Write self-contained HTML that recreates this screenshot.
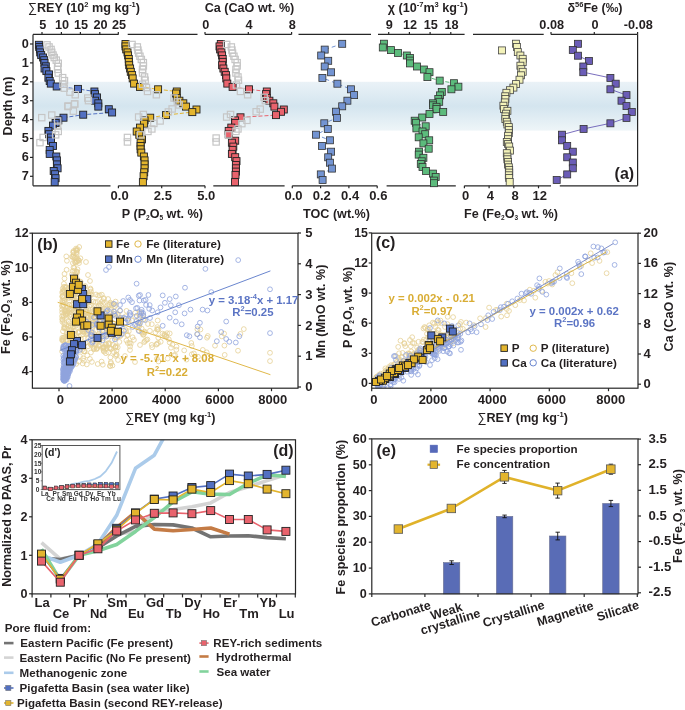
<!DOCTYPE html>
<html><head><meta charset="utf-8"><style>
html,body{margin:0;padding:0;background:#fff;width:685px;height:710px;overflow:hidden}
svg{display:block;filter:blur(0.3px);font-family:"Liberation Sans",sans-serif}
</style></head><body>
<svg width="685" height="710" viewBox="0 0 685 710">
<rect width="685" height="710" fill="#fff"/>
<defs><linearGradient id="band" x1="0" y1="0" x2="0" y2="1"><stop offset="0" stop-color="#eaf2f7"/><stop offset="0.5" stop-color="#d4e5ef"/><stop offset="1" stop-color="#eef5f8"/></linearGradient></defs>
<rect x="33" y="81.8" width="604.6" height="48.8" fill="url(#band)"/>
<line x1="33.0" y1="34.4" x2="33.0" y2="185.8" stroke="#262626" stroke-width="1.2" />
<line x1="30.0" y1="44.0" x2="33.0" y2="44.0" stroke="#262626" stroke-width="1.2" />
<text x="25.2" y="47.6" font-size="12.7" text-anchor="middle" fill="#231f20" font-weight="bold" >0</text>
<line x1="30.0" y1="62.9" x2="33.0" y2="62.9" stroke="#262626" stroke-width="1.2" />
<text x="25.2" y="66.5" font-size="12.7" text-anchor="middle" fill="#231f20" font-weight="bold" >1</text>
<line x1="30.0" y1="81.8" x2="33.0" y2="81.8" stroke="#262626" stroke-width="1.2" />
<text x="25.2" y="85.4" font-size="12.7" text-anchor="middle" fill="#231f20" font-weight="bold" >2</text>
<line x1="30.0" y1="100.7" x2="33.0" y2="100.7" stroke="#262626" stroke-width="1.2" />
<text x="25.2" y="104.3" font-size="12.7" text-anchor="middle" fill="#231f20" font-weight="bold" >3</text>
<line x1="30.0" y1="119.6" x2="33.0" y2="119.6" stroke="#262626" stroke-width="1.2" />
<text x="25.2" y="123.2" font-size="12.7" text-anchor="middle" fill="#231f20" font-weight="bold" >4</text>
<line x1="30.0" y1="138.5" x2="33.0" y2="138.5" stroke="#262626" stroke-width="1.2" />
<text x="25.2" y="142.1" font-size="12.7" text-anchor="middle" fill="#231f20" font-weight="bold" >5</text>
<line x1="30.0" y1="157.4" x2="33.0" y2="157.4" stroke="#262626" stroke-width="1.2" />
<text x="25.2" y="161.0" font-size="12.7" text-anchor="middle" fill="#231f20" font-weight="bold" >6</text>
<line x1="30.0" y1="176.3" x2="33.0" y2="176.3" stroke="#262626" stroke-width="1.2" />
<text x="25.2" y="179.9" font-size="12.7" text-anchor="middle" fill="#231f20" font-weight="bold" >7</text>
<text transform="translate(11.9,106) rotate(-90)" font-size="12.6" text-anchor="middle" fill="#231f20" font-weight="bold">Depth (m)</text>
<line x1="637.6" y1="34.4" x2="637.6" y2="185.8" stroke="#262626" stroke-width="1.2" />
<line x1="33.0" y1="34.4" x2="118.5" y2="34.4" stroke="#262626" stroke-width="1.2" />
<line x1="127.7" y1="34.4" x2="197.5" y2="34.4" stroke="#262626" stroke-width="1.2" />
<line x1="205.0" y1="34.4" x2="291.6" y2="34.4" stroke="#262626" stroke-width="1.2" />
<line x1="298.5" y1="34.4" x2="371.0" y2="34.4" stroke="#262626" stroke-width="1.2" />
<line x1="378.0" y1="34.4" x2="464.6" y2="34.4" stroke="#262626" stroke-width="1.2" />
<line x1="473.0" y1="34.4" x2="543.7" y2="34.4" stroke="#262626" stroke-width="1.2" />
<line x1="551.0" y1="34.4" x2="637.6" y2="34.4" stroke="#262626" stroke-width="1.2" />
<line x1="33.0" y1="185.8" x2="110.5" y2="185.8" stroke="#262626" stroke-width="1.2" />
<line x1="118.4" y1="185.8" x2="205.0" y2="185.8" stroke="#262626" stroke-width="1.2" />
<line x1="213.3" y1="185.8" x2="284.6" y2="185.8" stroke="#262626" stroke-width="1.2" />
<line x1="292.3" y1="185.8" x2="377.2" y2="185.8" stroke="#262626" stroke-width="1.2" />
<line x1="386.6" y1="185.8" x2="455.8" y2="185.8" stroke="#262626" stroke-width="1.2" />
<line x1="464.4" y1="185.8" x2="551.0" y2="185.8" stroke="#262626" stroke-width="1.2" />
<line x1="559.8" y1="185.8" x2="637.6" y2="185.8" stroke="#262626" stroke-width="1.2" />
<line x1="42.0" y1="34.4" x2="42.0" y2="31.9" stroke="#262626" stroke-width="1.2" />
<text x="42.7" y="29.1" font-size="12.7" text-anchor="middle" fill="#231f20" font-weight="bold" >5</text>
<line x1="61.4" y1="34.4" x2="61.4" y2="31.9" stroke="#262626" stroke-width="1.2" />
<text x="62.1" y="29.1" font-size="12.7" text-anchor="middle" fill="#231f20" font-weight="bold" >10</text>
<line x1="80.4" y1="34.4" x2="80.4" y2="31.9" stroke="#262626" stroke-width="1.2" />
<text x="81.1" y="29.1" font-size="12.7" text-anchor="middle" fill="#231f20" font-weight="bold" >15</text>
<line x1="99.8" y1="34.4" x2="99.8" y2="31.9" stroke="#262626" stroke-width="1.2" />
<text x="100.5" y="29.1" font-size="12.7" text-anchor="middle" fill="#231f20" font-weight="bold" >20</text>
<line x1="118.3" y1="34.4" x2="118.3" y2="31.9" stroke="#262626" stroke-width="1.2" />
<text x="119.0" y="29.1" font-size="12.7" text-anchor="middle" fill="#231f20" font-weight="bold" >25</text>
<line x1="205.0" y1="34.4" x2="205.0" y2="31.9" stroke="#262626" stroke-width="1.2" />
<text x="205.7" y="29.1" font-size="12.7" text-anchor="middle" fill="#231f20" font-weight="bold" >0</text>
<line x1="248.3" y1="34.4" x2="248.3" y2="31.9" stroke="#262626" stroke-width="1.2" />
<text x="249.0" y="29.1" font-size="12.7" text-anchor="middle" fill="#231f20" font-weight="bold" >4</text>
<line x1="291.6" y1="34.4" x2="291.6" y2="31.9" stroke="#262626" stroke-width="1.2" />
<text x="292.3" y="29.1" font-size="12.7" text-anchor="middle" fill="#231f20" font-weight="bold" >8</text>
<line x1="388.7" y1="34.4" x2="388.7" y2="31.9" stroke="#262626" stroke-width="1.2" />
<text x="389.4" y="29.1" font-size="12.7" text-anchor="middle" fill="#231f20" font-weight="bold" >9</text>
<line x1="409.4" y1="34.4" x2="409.4" y2="31.9" stroke="#262626" stroke-width="1.2" />
<text x="410.1" y="29.1" font-size="12.7" text-anchor="middle" fill="#231f20" font-weight="bold" >12</text>
<line x1="430.1" y1="34.4" x2="430.1" y2="31.9" stroke="#262626" stroke-width="1.2" />
<text x="430.8" y="29.1" font-size="12.7" text-anchor="middle" fill="#231f20" font-weight="bold" >15</text>
<line x1="450.8" y1="34.4" x2="450.8" y2="31.9" stroke="#262626" stroke-width="1.2" />
<text x="451.5" y="29.1" font-size="12.7" text-anchor="middle" fill="#231f20" font-weight="bold" >18</text>
<line x1="551.0" y1="34.4" x2="551.0" y2="31.9" stroke="#262626" stroke-width="1.2" />
<text x="551.7" y="29.1" font-size="12.7" text-anchor="middle" fill="#231f20" font-weight="bold" >0.08</text>
<line x1="594.3" y1="34.4" x2="594.3" y2="31.9" stroke="#262626" stroke-width="1.2" />
<text x="595.0" y="29.1" font-size="12.7" text-anchor="middle" fill="#231f20" font-weight="bold" >0</text>
<line x1="637.6" y1="34.4" x2="637.6" y2="31.9" stroke="#262626" stroke-width="1.2" />
<text x="638.3" y="29.1" font-size="12.7" text-anchor="middle" fill="#231f20" font-weight="bold" >-0.08</text>
<line x1="118.4" y1="185.8" x2="118.4" y2="188.3" stroke="#262626" stroke-width="1.2" />
<text x="119.6" y="200.3" font-size="13.0" text-anchor="middle" fill="#231f20" font-weight="bold" >0.0</text>
<line x1="161.7" y1="185.8" x2="161.7" y2="188.3" stroke="#262626" stroke-width="1.2" />
<text x="162.9" y="200.3" font-size="13.0" text-anchor="middle" fill="#231f20" font-weight="bold" >2.5</text>
<line x1="205.0" y1="185.8" x2="205.0" y2="188.3" stroke="#262626" stroke-width="1.2" />
<text x="206.2" y="200.3" font-size="13.0" text-anchor="middle" fill="#231f20" font-weight="bold" >5.0</text>
<line x1="292.3" y1="185.8" x2="292.3" y2="188.3" stroke="#262626" stroke-width="1.2" />
<text x="293.5" y="200.3" font-size="13.0" text-anchor="middle" fill="#231f20" font-weight="bold" >0.0</text>
<line x1="320.6" y1="185.8" x2="320.6" y2="188.3" stroke="#262626" stroke-width="1.2" />
<text x="321.8" y="200.3" font-size="13.0" text-anchor="middle" fill="#231f20" font-weight="bold" >0.2</text>
<line x1="348.9" y1="185.8" x2="348.9" y2="188.3" stroke="#262626" stroke-width="1.2" />
<text x="350.1" y="200.3" font-size="13.0" text-anchor="middle" fill="#231f20" font-weight="bold" >0.4</text>
<line x1="377.2" y1="185.8" x2="377.2" y2="188.3" stroke="#262626" stroke-width="1.2" />
<text x="378.4" y="200.3" font-size="13.0" text-anchor="middle" fill="#231f20" font-weight="bold" >0.6</text>
<line x1="464.4" y1="185.8" x2="464.4" y2="188.3" stroke="#262626" stroke-width="1.2" />
<text x="465.6" y="200.3" font-size="13.0" text-anchor="middle" fill="#231f20" font-weight="bold" >0</text>
<line x1="489.1" y1="185.8" x2="489.1" y2="188.3" stroke="#262626" stroke-width="1.2" />
<text x="490.3" y="200.3" font-size="13.0" text-anchor="middle" fill="#231f20" font-weight="bold" >4</text>
<line x1="513.8" y1="185.8" x2="513.8" y2="188.3" stroke="#262626" stroke-width="1.2" />
<text x="515.0" y="200.3" font-size="13.0" text-anchor="middle" fill="#231f20" font-weight="bold" >8</text>
<line x1="538.5" y1="185.8" x2="538.5" y2="188.3" stroke="#262626" stroke-width="1.2" />
<text x="539.7" y="200.3" font-size="13.0" text-anchor="middle" fill="#231f20" font-weight="bold" >12</text>
<text x="84.0" y="11.8" font-size="12.6" text-anchor="middle" fill="#231f20" font-weight="bold" ><tspan font-weight="normal">&#8721;</tspan>REY (10<tspan font-size="7.5" dy="-5">2</tspan><tspan dy="5"> mg kg</tspan><tspan font-size="7.5" dy="-5">-1</tspan><tspan dy="5">)</tspan></text>
<text x="249.5" y="11.8" font-size="12.6" text-anchor="middle" fill="#231f20" font-weight="bold" >Ca (CaO wt. %)</text>
<text x="427.8" y="11.8" font-size="12.6" text-anchor="middle" fill="#231f20" font-weight="bold" >&#967; (10<tspan font-size="7.5" dy="-5">-7</tspan><tspan dy="5">m</tspan><tspan font-size="7.5" dy="-5">3</tspan><tspan dy="5"> kg</tspan><tspan font-size="7.5" dy="-5">-1</tspan><tspan dy="5">)</tspan></text>
<text x="595.0" y="11.8" font-size="12.6" text-anchor="middle" fill="#231f20" font-weight="bold" >&#948;<tspan font-size="7.5" dy="-5">56</tspan><tspan dy="5">Fe (&#8240;)</tspan></text>
<text x="162.4" y="217.5" font-size="12.6" text-anchor="middle" fill="#231f20" font-weight="bold" >P (P<tspan font-size="6.5" dy="2.5">2</tspan><tspan dy="-2.5">O</tspan><tspan font-size="6.5" dy="2.5">5</tspan><tspan dy="-2.5"> wt. %)</tspan></text>
<text x="336.5" y="217.5" font-size="12.6" text-anchor="middle" fill="#231f20" font-weight="bold" >TOC (wt.%)</text>
<text x="511.0" y="217.5" font-size="12.6" text-anchor="middle" fill="#231f20" font-weight="bold" >Fe (Fe<tspan font-size="6.5" dy="2.5">2</tspan><tspan dy="-2.5">O</tspan><tspan font-size="6.5" dy="2.5">3</tspan><tspan dy="-2.5"> wt. %)</tspan></text>
<text x="624.4" y="178.7" font-size="16" text-anchor="middle" fill="#231f20" font-weight="bold" >(a)</text>
<polyline points="56.7,86.5 78.0,88.9 94.4,91.5" fill="none" stroke="#5270c2" stroke-width="1" stroke-linejoin="round" stroke-dasharray="4 2"/>
<polyline points="63.5,117.7 83.2,114.7 112.1,112.5" fill="none" stroke="#5270c2" stroke-width="1" stroke-linejoin="round" stroke-dasharray="4 2"/>
<rect x="35.4" y="41.3" width="7" height="7" fill="#5270c2" stroke="#222" stroke-width="0.9"/>
<rect x="35.7" y="43.5" width="7" height="7" fill="#5270c2" stroke="#222" stroke-width="0.9"/>
<rect x="36.4" y="45.9" width="7" height="7" fill="#5270c2" stroke="#222" stroke-width="0.9"/>
<rect x="36.7" y="48.9" width="7" height="7" fill="#5270c2" stroke="#222" stroke-width="0.9"/>
<rect x="37.7" y="51.6" width="7" height="7" fill="#5270c2" stroke="#222" stroke-width="0.9"/>
<rect x="39.6" y="54.0" width="7" height="7" fill="#5270c2" stroke="#222" stroke-width="0.9"/>
<rect x="40.7" y="56.7" width="7" height="7" fill="#5270c2" stroke="#222" stroke-width="0.9"/>
<rect x="41.0" y="59.4" width="7" height="7" fill="#5270c2" stroke="#222" stroke-width="0.9"/>
<rect x="42.3" y="62.8" width="7" height="7" fill="#5270c2" stroke="#222" stroke-width="0.9"/>
<rect x="41.0" y="65.0" width="7" height="7" fill="#5270c2" stroke="#222" stroke-width="0.9"/>
<rect x="42.9" y="67.6" width="7" height="7" fill="#5270c2" stroke="#222" stroke-width="0.9"/>
<rect x="45.5" y="70.9" width="7" height="7" fill="#5270c2" stroke="#222" stroke-width="0.9"/>
<rect x="44.9" y="74.2" width="7" height="7" fill="#5270c2" stroke="#222" stroke-width="0.9"/>
<rect x="46.2" y="77.5" width="7" height="7" fill="#5270c2" stroke="#222" stroke-width="0.9"/>
<rect x="47.3" y="80.1" width="7" height="7" fill="#5270c2" stroke="#222" stroke-width="0.9"/>
<rect x="53.2" y="83.0" width="7" height="7" fill="#5270c2" stroke="#222" stroke-width="0.9"/>
<rect x="74.5" y="85.4" width="7" height="7" fill="#5270c2" stroke="#222" stroke-width="0.9"/>
<rect x="90.9" y="88.0" width="7" height="7" fill="#5270c2" stroke="#222" stroke-width="0.9"/>
<rect x="91.5" y="90.6" width="7" height="7" fill="#5270c2" stroke="#222" stroke-width="0.9"/>
<rect x="93.5" y="93.9" width="7" height="7" fill="#5270c2" stroke="#222" stroke-width="0.9"/>
<rect x="91.5" y="97.2" width="7" height="7" fill="#5270c2" stroke="#222" stroke-width="0.9"/>
<rect x="94.8" y="99.8" width="7" height="7" fill="#5270c2" stroke="#222" stroke-width="0.9"/>
<rect x="94.8" y="103.1" width="7" height="7" fill="#5270c2" stroke="#222" stroke-width="0.9"/>
<rect x="105.3" y="105.7" width="7" height="7" fill="#5270c2" stroke="#222" stroke-width="0.9"/>
<rect x="108.6" y="109.0" width="7" height="7" fill="#5270c2" stroke="#222" stroke-width="0.9"/>
<rect x="79.7" y="111.2" width="7" height="7" fill="#5270c2" stroke="#222" stroke-width="0.9"/>
<rect x="60.0" y="114.2" width="7" height="7" fill="#5270c2" stroke="#222" stroke-width="0.9"/>
<rect x="54.8" y="116.9" width="7" height="7" fill="#5270c2" stroke="#222" stroke-width="0.9"/>
<rect x="52.1" y="119.5" width="7" height="7" fill="#5270c2" stroke="#222" stroke-width="0.9"/>
<rect x="49.5" y="122.1" width="7" height="7" fill="#5270c2" stroke="#222" stroke-width="0.9"/>
<rect x="44.9" y="127.4" width="7" height="7" fill="#5270c2" stroke="#222" stroke-width="0.9"/>
<rect x="45.5" y="130.7" width="7" height="7" fill="#5270c2" stroke="#222" stroke-width="0.9"/>
<rect x="47.5" y="134.0" width="7" height="7" fill="#5270c2" stroke="#222" stroke-width="0.9"/>
<rect x="47.5" y="137.2" width="7" height="7" fill="#5270c2" stroke="#222" stroke-width="0.9"/>
<rect x="49.5" y="142.5" width="7" height="7" fill="#5270c2" stroke="#222" stroke-width="0.9"/>
<rect x="46.2" y="146.4" width="7" height="7" fill="#5270c2" stroke="#222" stroke-width="0.9"/>
<rect x="46.2" y="150.4" width="7" height="7" fill="#5270c2" stroke="#222" stroke-width="0.9"/>
<rect x="52.8" y="153.0" width="7" height="7" fill="#5270c2" stroke="#222" stroke-width="0.9"/>
<rect x="53.4" y="156.9" width="7" height="7" fill="#5270c2" stroke="#222" stroke-width="0.9"/>
<rect x="53.4" y="160.9" width="7" height="7" fill="#5270c2" stroke="#222" stroke-width="0.9"/>
<rect x="54.1" y="164.8" width="7" height="7" fill="#5270c2" stroke="#222" stroke-width="0.9"/>
<rect x="50.2" y="167.5" width="7" height="7" fill="#5270c2" stroke="#222" stroke-width="0.9"/>
<rect x="51.5" y="170.7" width="7" height="7" fill="#5270c2" stroke="#222" stroke-width="0.9"/>
<rect x="52.1" y="174.7" width="7" height="7" fill="#5270c2" stroke="#222" stroke-width="0.9"/>
<rect x="51.2" y="178.6" width="7" height="7" fill="#5270c2" stroke="#222" stroke-width="0.9"/>
<rect x="43.9" y="41.7" width="6.3" height="6.3" fill="none" stroke="#c6c6c6" stroke-width="1.2"/>
<rect x="45.9" y="43.8" width="6.3" height="6.3" fill="none" stroke="#c6c6c6" stroke-width="1.2"/>
<rect x="47.9" y="46.3" width="6.3" height="6.3" fill="none" stroke="#c6c6c6" stroke-width="1.2"/>
<rect x="48.6" y="49.2" width="6.3" height="6.3" fill="none" stroke="#c6c6c6" stroke-width="1.2"/>
<rect x="49.9" y="51.9" width="6.3" height="6.3" fill="none" stroke="#c6c6c6" stroke-width="1.2"/>
<rect x="51.1" y="54.4" width="6.3" height="6.3" fill="none" stroke="#c6c6c6" stroke-width="1.2"/>
<rect x="53.1" y="57.0" width="6.3" height="6.3" fill="none" stroke="#c6c6c6" stroke-width="1.2"/>
<rect x="55.1" y="60.1" width="6.3" height="6.3" fill="none" stroke="#c6c6c6" stroke-width="1.2"/>
<rect x="54.5" y="63.4" width="6.3" height="6.3" fill="none" stroke="#c6c6c6" stroke-width="1.2"/>
<rect x="54.5" y="66.2" width="6.3" height="6.3" fill="none" stroke="#c6c6c6" stroke-width="1.2"/>
<rect x="55.1" y="69.9" width="6.3" height="6.3" fill="none" stroke="#c6c6c6" stroke-width="1.2"/>
<rect x="59.5" y="74.5" width="6.3" height="6.3" fill="none" stroke="#c6c6c6" stroke-width="1.2"/>
<rect x="61.3" y="77.5" width="6.3" height="6.3" fill="none" stroke="#c6c6c6" stroke-width="1.2"/>
<rect x="59.8" y="81.1" width="6.3" height="6.3" fill="none" stroke="#c6c6c6" stroke-width="1.2"/>
<rect x="61.1" y="85.0" width="6.3" height="6.3" fill="none" stroke="#c6c6c6" stroke-width="1.2"/>
<rect x="66.8" y="89.0" width="6.3" height="6.3" fill="none" stroke="#c6c6c6" stroke-width="1.2"/>
<rect x="72.1" y="91.6" width="6.3" height="6.3" fill="none" stroke="#c6c6c6" stroke-width="1.2"/>
<rect x="84.6" y="94.9" width="6.3" height="6.3" fill="none" stroke="#c6c6c6" stroke-width="1.2"/>
<rect x="85.3" y="97.5" width="6.3" height="6.3" fill="none" stroke="#c6c6c6" stroke-width="1.2"/>
<rect x="71.5" y="100.8" width="6.3" height="6.3" fill="none" stroke="#c6c6c6" stroke-width="1.2"/>
<rect x="64.9" y="103.4" width="6.3" height="6.3" fill="none" stroke="#c6c6c6" stroke-width="1.2"/>
<rect x="64.9" y="102.8" width="6.3" height="6.3" fill="none" stroke="#c6c6c6" stroke-width="1.2"/>
<rect x="71.5" y="100.8" width="6.3" height="6.3" fill="none" stroke="#c6c6c6" stroke-width="1.2"/>
<rect x="70.2" y="108.0" width="6.3" height="6.3" fill="none" stroke="#c6c6c6" stroke-width="1.2"/>
<rect x="38.6" y="114.5" width="6.3" height="6.3" fill="none" stroke="#c6c6c6" stroke-width="1.2"/>
<rect x="48.6" y="111.9" width="6.3" height="6.3" fill="none" stroke="#c6c6c6" stroke-width="1.2"/>
<rect x="54.5" y="117.8" width="6.3" height="6.3" fill="none" stroke="#c6c6c6" stroke-width="1.2"/>
<rect x="54.5" y="123.1" width="6.3" height="6.3" fill="none" stroke="#c6c6c6" stroke-width="1.2"/>
<rect x="55.1" y="128.3" width="6.3" height="6.3" fill="none" stroke="#c6c6c6" stroke-width="1.2"/>
<rect x="52.5" y="131.7" width="6.3" height="6.3" fill="none" stroke="#c6c6c6" stroke-width="1.2"/>
<rect x="40.0" y="134.3" width="6.3" height="6.3" fill="none" stroke="#c6c6c6" stroke-width="1.2"/>
<rect x="36.8" y="139.5" width="6.3" height="6.3" fill="none" stroke="#c6c6c6" stroke-width="1.2"/>
<polyline points="140.0,86.9 158.1,89.3 176.8,91.5" fill="none" stroke="#e3b52e" stroke-width="1" stroke-linejoin="round" stroke-dasharray="4 2"/>
<polyline points="150.2,117.7 166.0,115.1 192.3,112.1" fill="none" stroke="#e3b52e" stroke-width="1" stroke-linejoin="round" stroke-dasharray="4 2"/>
<rect x="122.0" y="40.5" width="7" height="7" fill="#e3b52e" stroke="#222" stroke-width="0.9"/>
<rect x="122.0" y="42.9" width="7" height="7" fill="#e3b52e" stroke="#222" stroke-width="0.9"/>
<rect x="122.7" y="45.9" width="7" height="7" fill="#e3b52e" stroke="#222" stroke-width="0.9"/>
<rect x="124.0" y="48.9" width="7" height="7" fill="#e3b52e" stroke="#222" stroke-width="0.9"/>
<rect x="124.6" y="51.9" width="7" height="7" fill="#e3b52e" stroke="#222" stroke-width="0.9"/>
<rect x="125.3" y="55.5" width="7" height="7" fill="#e3b52e" stroke="#222" stroke-width="0.9"/>
<rect x="125.3" y="58.4" width="7" height="7" fill="#e3b52e" stroke="#222" stroke-width="0.9"/>
<rect x="125.7" y="61.7" width="7" height="7" fill="#e3b52e" stroke="#222" stroke-width="0.9"/>
<rect x="126.6" y="65.0" width="7" height="7" fill="#e3b52e" stroke="#222" stroke-width="0.9"/>
<rect x="127.3" y="68.3" width="7" height="7" fill="#e3b52e" stroke="#222" stroke-width="0.9"/>
<rect x="128.6" y="71.6" width="7" height="7" fill="#e3b52e" stroke="#222" stroke-width="0.9"/>
<rect x="129.2" y="74.9" width="7" height="7" fill="#e3b52e" stroke="#222" stroke-width="0.9"/>
<rect x="130.6" y="80.1" width="7" height="7" fill="#e3b52e" stroke="#222" stroke-width="0.9"/>
<rect x="136.5" y="83.4" width="7" height="7" fill="#e3b52e" stroke="#222" stroke-width="0.9"/>
<rect x="154.6" y="85.8" width="7" height="7" fill="#e3b52e" stroke="#222" stroke-width="0.9"/>
<rect x="173.3" y="88.0" width="7" height="7" fill="#e3b52e" stroke="#222" stroke-width="0.9"/>
<rect x="172.6" y="90.0" width="7" height="7" fill="#e3b52e" stroke="#222" stroke-width="0.9"/>
<rect x="173.3" y="94.6" width="7" height="7" fill="#e3b52e" stroke="#222" stroke-width="0.9"/>
<rect x="175.9" y="97.2" width="7" height="7" fill="#e3b52e" stroke="#222" stroke-width="0.9"/>
<rect x="179.8" y="99.8" width="7" height="7" fill="#e3b52e" stroke="#222" stroke-width="0.9"/>
<rect x="182.5" y="103.1" width="7" height="7" fill="#e3b52e" stroke="#222" stroke-width="0.9"/>
<rect x="193.0" y="106.0" width="7" height="7" fill="#e3b52e" stroke="#222" stroke-width="0.9"/>
<rect x="188.8" y="108.6" width="7" height="7" fill="#e3b52e" stroke="#222" stroke-width="0.9"/>
<rect x="162.5" y="111.6" width="7" height="7" fill="#e3b52e" stroke="#222" stroke-width="0.9"/>
<rect x="146.7" y="114.2" width="7" height="7" fill="#e3b52e" stroke="#222" stroke-width="0.9"/>
<rect x="141.1" y="116.9" width="7" height="7" fill="#e3b52e" stroke="#222" stroke-width="0.9"/>
<rect x="140.4" y="120.2" width="7" height="7" fill="#e3b52e" stroke="#222" stroke-width="0.9"/>
<rect x="136.5" y="124.1" width="7" height="7" fill="#e3b52e" stroke="#222" stroke-width="0.9"/>
<rect x="133.2" y="128.0" width="7" height="7" fill="#e3b52e" stroke="#222" stroke-width="0.9"/>
<rect x="135.8" y="131.3" width="7" height="7" fill="#e3b52e" stroke="#222" stroke-width="0.9"/>
<rect x="138.5" y="135.9" width="7" height="7" fill="#e3b52e" stroke="#222" stroke-width="0.9"/>
<rect x="137.1" y="139.2" width="7" height="7" fill="#e3b52e" stroke="#222" stroke-width="0.9"/>
<rect x="137.1" y="142.5" width="7" height="7" fill="#e3b52e" stroke="#222" stroke-width="0.9"/>
<rect x="137.1" y="145.8" width="7" height="7" fill="#e3b52e" stroke="#222" stroke-width="0.9"/>
<rect x="137.8" y="149.1" width="7" height="7" fill="#e3b52e" stroke="#222" stroke-width="0.9"/>
<rect x="140.4" y="153.0" width="7" height="7" fill="#e3b52e" stroke="#222" stroke-width="0.9"/>
<rect x="141.1" y="156.9" width="7" height="7" fill="#e3b52e" stroke="#222" stroke-width="0.9"/>
<rect x="141.1" y="160.9" width="7" height="7" fill="#e3b52e" stroke="#222" stroke-width="0.9"/>
<rect x="141.1" y="164.8" width="7" height="7" fill="#e3b52e" stroke="#222" stroke-width="0.9"/>
<rect x="140.7" y="168.8" width="7" height="7" fill="#e3b52e" stroke="#222" stroke-width="0.9"/>
<rect x="140.1" y="172.7" width="7" height="7" fill="#e3b52e" stroke="#222" stroke-width="0.9"/>
<rect x="139.4" y="178.6" width="7" height="7" fill="#e3b52e" stroke="#222" stroke-width="0.9"/>
<rect x="128.9" y="41.3" width="6.3" height="6.3" fill="none" stroke="#c6c6c6" stroke-width="1.2"/>
<rect x="134.2" y="43.8" width="6.3" height="6.3" fill="none" stroke="#c6c6c6" stroke-width="1.2"/>
<rect x="134.8" y="47.0" width="6.3" height="6.3" fill="none" stroke="#c6c6c6" stroke-width="1.2"/>
<rect x="135.5" y="50.0" width="6.3" height="6.3" fill="none" stroke="#c6c6c6" stroke-width="1.2"/>
<rect x="136.8" y="53.1" width="6.3" height="6.3" fill="none" stroke="#c6c6c6" stroke-width="1.2"/>
<rect x="138.2" y="56.3" width="6.3" height="6.3" fill="none" stroke="#c6c6c6" stroke-width="1.2"/>
<rect x="140.2" y="59.5" width="6.3" height="6.3" fill="none" stroke="#c6c6c6" stroke-width="1.2"/>
<rect x="140.2" y="62.8" width="6.3" height="6.3" fill="none" stroke="#c6c6c6" stroke-width="1.2"/>
<rect x="139.4" y="66.2" width="6.3" height="6.3" fill="none" stroke="#c6c6c6" stroke-width="1.2"/>
<rect x="139.4" y="69.9" width="6.3" height="6.3" fill="none" stroke="#c6c6c6" stroke-width="1.2"/>
<rect x="141.4" y="73.8" width="6.3" height="6.3" fill="none" stroke="#c6c6c6" stroke-width="1.2"/>
<rect x="142.0" y="77.1" width="6.3" height="6.3" fill="none" stroke="#c6c6c6" stroke-width="1.2"/>
<rect x="139.4" y="81.1" width="6.3" height="6.3" fill="none" stroke="#c6c6c6" stroke-width="1.2"/>
<rect x="143.3" y="84.4" width="6.3" height="6.3" fill="none" stroke="#c6c6c6" stroke-width="1.2"/>
<rect x="144.4" y="88.3" width="6.3" height="6.3" fill="none" stroke="#c6c6c6" stroke-width="1.2"/>
<rect x="153.2" y="91.6" width="6.3" height="6.3" fill="none" stroke="#c6c6c6" stroke-width="1.2"/>
<rect x="170.9" y="94.9" width="6.3" height="6.3" fill="none" stroke="#c6c6c6" stroke-width="1.2"/>
<rect x="174.2" y="98.8" width="6.3" height="6.3" fill="none" stroke="#c6c6c6" stroke-width="1.2"/>
<rect x="176.0" y="101.8" width="6.3" height="6.3" fill="none" stroke="#c6c6c6" stroke-width="1.2"/>
<rect x="169.0" y="105.8" width="6.3" height="6.3" fill="none" stroke="#c6c6c6" stroke-width="1.2"/>
<rect x="165.2" y="108.8" width="6.3" height="6.3" fill="none" stroke="#c6c6c6" stroke-width="1.2"/>
<rect x="157.0" y="117.8" width="6.3" height="6.3" fill="none" stroke="#c6c6c6" stroke-width="1.2"/>
<rect x="150.7" y="120.3" width="6.3" height="6.3" fill="none" stroke="#c6c6c6" stroke-width="1.2"/>
<rect x="135.5" y="113.9" width="6.3" height="6.3" fill="none" stroke="#c6c6c6" stroke-width="1.2"/>
<rect x="140.2" y="111.3" width="6.3" height="6.3" fill="none" stroke="#c6c6c6" stroke-width="1.2"/>
<rect x="148.7" y="125.8" width="6.3" height="6.3" fill="none" stroke="#c6c6c6" stroke-width="1.2"/>
<rect x="144.8" y="128.3" width="6.3" height="6.3" fill="none" stroke="#c6c6c6" stroke-width="1.2"/>
<rect x="137.4" y="131.7" width="6.3" height="6.3" fill="none" stroke="#c6c6c6" stroke-width="1.2"/>
<rect x="124.3" y="134.3" width="6.3" height="6.3" fill="none" stroke="#c6c6c6" stroke-width="1.2"/>
<rect x="124.3" y="138.8" width="6.3" height="6.3" fill="none" stroke="#c6c6c6" stroke-width="1.2"/>
<polyline points="232.6,86.9 249.0,89.3 266.8,91.5" fill="none" stroke="#e9636d" stroke-width="1" stroke-linejoin="round" stroke-dasharray="4 2"/>
<polyline points="240.5,117.3 276.0,115.1" fill="none" stroke="#e9636d" stroke-width="1" stroke-linejoin="round" stroke-dasharray="4 2"/>
<rect x="217.3" y="40.5" width="7" height="7" fill="#e9636d" stroke="#222" stroke-width="0.9"/>
<rect x="216.0" y="42.9" width="7" height="7" fill="#e9636d" stroke="#222" stroke-width="0.9"/>
<rect x="216.6" y="45.9" width="7" height="7" fill="#e9636d" stroke="#222" stroke-width="0.9"/>
<rect x="217.9" y="48.9" width="7" height="7" fill="#e9636d" stroke="#222" stroke-width="0.9"/>
<rect x="218.6" y="51.9" width="7" height="7" fill="#e9636d" stroke="#222" stroke-width="0.9"/>
<rect x="219.2" y="55.5" width="7" height="7" fill="#e9636d" stroke="#222" stroke-width="0.9"/>
<rect x="219.2" y="58.4" width="7" height="7" fill="#e9636d" stroke="#222" stroke-width="0.9"/>
<rect x="218.6" y="61.7" width="7" height="7" fill="#e9636d" stroke="#222" stroke-width="0.9"/>
<rect x="219.9" y="65.0" width="7" height="7" fill="#e9636d" stroke="#222" stroke-width="0.9"/>
<rect x="221.2" y="68.3" width="7" height="7" fill="#e9636d" stroke="#222" stroke-width="0.9"/>
<rect x="222.5" y="71.6" width="7" height="7" fill="#e9636d" stroke="#222" stroke-width="0.9"/>
<rect x="222.8" y="74.9" width="7" height="7" fill="#e9636d" stroke="#222" stroke-width="0.9"/>
<rect x="223.8" y="80.1" width="7" height="7" fill="#e9636d" stroke="#222" stroke-width="0.9"/>
<rect x="229.1" y="83.4" width="7" height="7" fill="#e9636d" stroke="#222" stroke-width="0.9"/>
<rect x="245.5" y="85.8" width="7" height="7" fill="#e9636d" stroke="#222" stroke-width="0.9"/>
<rect x="263.3" y="88.0" width="7" height="7" fill="#e9636d" stroke="#222" stroke-width="0.9"/>
<rect x="262.6" y="90.6" width="7" height="7" fill="#e9636d" stroke="#222" stroke-width="0.9"/>
<rect x="263.3" y="94.6" width="7" height="7" fill="#e9636d" stroke="#222" stroke-width="0.9"/>
<rect x="265.9" y="97.2" width="7" height="7" fill="#e9636d" stroke="#222" stroke-width="0.9"/>
<rect x="269.8" y="99.8" width="7" height="7" fill="#e9636d" stroke="#222" stroke-width="0.9"/>
<rect x="270.9" y="103.1" width="7" height="7" fill="#e9636d" stroke="#222" stroke-width="0.9"/>
<rect x="280.3" y="106.0" width="7" height="7" fill="#e9636d" stroke="#222" stroke-width="0.9"/>
<rect x="277.5" y="108.3" width="7" height="7" fill="#e9636d" stroke="#222" stroke-width="0.9"/>
<rect x="272.5" y="111.6" width="7" height="7" fill="#e9636d" stroke="#222" stroke-width="0.9"/>
<rect x="237.0" y="113.8" width="7" height="7" fill="#e9636d" stroke="#222" stroke-width="0.9"/>
<rect x="231.5" y="116.9" width="7" height="7" fill="#e9636d" stroke="#222" stroke-width="0.9"/>
<rect x="231.7" y="119.5" width="7" height="7" fill="#e9636d" stroke="#222" stroke-width="0.9"/>
<rect x="227.8" y="124.1" width="7" height="7" fill="#e9636d" stroke="#222" stroke-width="0.9"/>
<rect x="225.2" y="127.4" width="7" height="7" fill="#e9636d" stroke="#222" stroke-width="0.9"/>
<rect x="225.2" y="130.9" width="7" height="7" fill="#e9636d" stroke="#222" stroke-width="0.9"/>
<rect x="231.7" y="137.2" width="7" height="7" fill="#e9636d" stroke="#222" stroke-width="0.9"/>
<rect x="228.4" y="139.2" width="7" height="7" fill="#e9636d" stroke="#222" stroke-width="0.9"/>
<rect x="229.8" y="143.1" width="7" height="7" fill="#e9636d" stroke="#222" stroke-width="0.9"/>
<rect x="229.1" y="146.4" width="7" height="7" fill="#e9636d" stroke="#222" stroke-width="0.9"/>
<rect x="228.4" y="150.4" width="7" height="7" fill="#e9636d" stroke="#222" stroke-width="0.9"/>
<rect x="231.7" y="153.7" width="7" height="7" fill="#e9636d" stroke="#222" stroke-width="0.9"/>
<rect x="233.0" y="157.6" width="7" height="7" fill="#e9636d" stroke="#222" stroke-width="0.9"/>
<rect x="232.4" y="161.5" width="7" height="7" fill="#e9636d" stroke="#222" stroke-width="0.9"/>
<rect x="232.4" y="164.8" width="7" height="7" fill="#e9636d" stroke="#222" stroke-width="0.9"/>
<rect x="232.4" y="168.1" width="7" height="7" fill="#e9636d" stroke="#222" stroke-width="0.9"/>
<rect x="232.0" y="171.4" width="7" height="7" fill="#e9636d" stroke="#222" stroke-width="0.9"/>
<rect x="231.5" y="178.6" width="7" height="7" fill="#e9636d" stroke="#222" stroke-width="0.9"/>
<rect x="223.5" y="41.3" width="6.3" height="6.3" fill="none" stroke="#c6c6c6" stroke-width="1.2"/>
<rect x="228.2" y="43.8" width="6.3" height="6.3" fill="none" stroke="#c6c6c6" stroke-width="1.2"/>
<rect x="228.8" y="47.0" width="6.3" height="6.3" fill="none" stroke="#c6c6c6" stroke-width="1.2"/>
<rect x="229.4" y="50.0" width="6.3" height="6.3" fill="none" stroke="#c6c6c6" stroke-width="1.2"/>
<rect x="230.8" y="53.1" width="6.3" height="6.3" fill="none" stroke="#c6c6c6" stroke-width="1.2"/>
<rect x="232.0" y="56.3" width="6.3" height="6.3" fill="none" stroke="#c6c6c6" stroke-width="1.2"/>
<rect x="234.0" y="59.5" width="6.3" height="6.3" fill="none" stroke="#c6c6c6" stroke-width="1.2"/>
<rect x="234.0" y="62.8" width="6.3" height="6.3" fill="none" stroke="#c6c6c6" stroke-width="1.2"/>
<rect x="232.8" y="66.2" width="6.3" height="6.3" fill="none" stroke="#c6c6c6" stroke-width="1.2"/>
<rect x="232.8" y="69.9" width="6.3" height="6.3" fill="none" stroke="#c6c6c6" stroke-width="1.2"/>
<rect x="234.8" y="73.8" width="6.3" height="6.3" fill="none" stroke="#c6c6c6" stroke-width="1.2"/>
<rect x="235.3" y="77.1" width="6.3" height="6.3" fill="none" stroke="#c6c6c6" stroke-width="1.2"/>
<rect x="233.3" y="81.8" width="6.3" height="6.3" fill="none" stroke="#c6c6c6" stroke-width="1.2"/>
<rect x="237.3" y="88.3" width="6.3" height="6.3" fill="none" stroke="#c6c6c6" stroke-width="1.2"/>
<rect x="244.5" y="91.6" width="6.3" height="6.3" fill="none" stroke="#c6c6c6" stroke-width="1.2"/>
<rect x="261.0" y="94.2" width="6.3" height="6.3" fill="none" stroke="#c6c6c6" stroke-width="1.2"/>
<rect x="262.2" y="97.5" width="6.3" height="6.3" fill="none" stroke="#c6c6c6" stroke-width="1.2"/>
<rect x="257.1" y="106.0" width="6.3" height="6.3" fill="none" stroke="#c6c6c6" stroke-width="1.2"/>
<rect x="253.0" y="108.6" width="6.3" height="6.3" fill="none" stroke="#c6c6c6" stroke-width="1.2"/>
<rect x="243.8" y="117.2" width="6.3" height="6.3" fill="none" stroke="#c6c6c6" stroke-width="1.2"/>
<rect x="238.7" y="120.5" width="6.3" height="6.3" fill="none" stroke="#c6c6c6" stroke-width="1.2"/>
<rect x="223.5" y="113.9" width="6.3" height="6.3" fill="none" stroke="#c6c6c6" stroke-width="1.2"/>
<rect x="227.4" y="111.3" width="6.3" height="6.3" fill="none" stroke="#c6c6c6" stroke-width="1.2"/>
<rect x="234.8" y="125.8" width="6.3" height="6.3" fill="none" stroke="#c6c6c6" stroke-width="1.2"/>
<rect x="232.8" y="128.3" width="6.3" height="6.3" fill="none" stroke="#c6c6c6" stroke-width="1.2"/>
<rect x="225.5" y="131.7" width="6.3" height="6.3" fill="none" stroke="#c6c6c6" stroke-width="1.2"/>
<rect x="213.0" y="134.9" width="6.3" height="6.3" fill="none" stroke="#c6c6c6" stroke-width="1.2"/>
<rect x="213.0" y="138.8" width="6.3" height="6.3" fill="none" stroke="#c6c6c6" stroke-width="1.2"/>
<polyline points="342.2,43.8 324.7,49.6 321.2,55.5 328.2,60.8 324.7,66.5 331.1,72.3 322.4,77.9 337.4,83.7 350.9,89.3 354.1,95.1 347.4,100.7 342.2,106.3 336.0,111.7 336.9,117.9 324.3,123.3 327.8,128.9 315.9,134.7 329.9,140.3 322.0,145.9 331.1,151.7 328.2,157.3 329.9,162.7 332.0,168.6 320.8,174.4 322.6,180.0" fill="none" stroke="#7394d2" stroke-width="1" stroke-linejoin="round" stroke-dasharray="4 3"/>
<rect x="338.7" y="40.3" width="7" height="7" fill="#7394d2" stroke="#333" stroke-width="0.8"/>
<rect x="321.2" y="46.1" width="7" height="7" fill="#7394d2" stroke="#333" stroke-width="0.8"/>
<rect x="317.7" y="52.0" width="7" height="7" fill="#7394d2" stroke="#333" stroke-width="0.8"/>
<rect x="324.7" y="57.3" width="7" height="7" fill="#7394d2" stroke="#333" stroke-width="0.8"/>
<rect x="321.2" y="63.0" width="7" height="7" fill="#7394d2" stroke="#333" stroke-width="0.8"/>
<rect x="327.6" y="68.8" width="7" height="7" fill="#7394d2" stroke="#333" stroke-width="0.8"/>
<rect x="318.9" y="74.4" width="7" height="7" fill="#7394d2" stroke="#333" stroke-width="0.8"/>
<rect x="333.9" y="80.2" width="7" height="7" fill="#7394d2" stroke="#333" stroke-width="0.8"/>
<rect x="347.4" y="85.8" width="7" height="7" fill="#7394d2" stroke="#333" stroke-width="0.8"/>
<rect x="350.6" y="91.6" width="7" height="7" fill="#7394d2" stroke="#333" stroke-width="0.8"/>
<rect x="343.9" y="97.2" width="7" height="7" fill="#7394d2" stroke="#333" stroke-width="0.8"/>
<rect x="338.7" y="102.8" width="7" height="7" fill="#7394d2" stroke="#333" stroke-width="0.8"/>
<rect x="332.5" y="108.2" width="7" height="7" fill="#7394d2" stroke="#333" stroke-width="0.8"/>
<rect x="333.4" y="114.4" width="7" height="7" fill="#7394d2" stroke="#333" stroke-width="0.8"/>
<rect x="320.8" y="119.8" width="7" height="7" fill="#7394d2" stroke="#333" stroke-width="0.8"/>
<rect x="324.3" y="125.4" width="7" height="7" fill="#7394d2" stroke="#333" stroke-width="0.8"/>
<rect x="312.4" y="131.2" width="7" height="7" fill="#7394d2" stroke="#333" stroke-width="0.8"/>
<rect x="326.4" y="136.8" width="7" height="7" fill="#7394d2" stroke="#333" stroke-width="0.8"/>
<rect x="318.5" y="142.4" width="7" height="7" fill="#7394d2" stroke="#333" stroke-width="0.8"/>
<rect x="327.6" y="148.2" width="7" height="7" fill="#7394d2" stroke="#333" stroke-width="0.8"/>
<rect x="324.7" y="153.8" width="7" height="7" fill="#7394d2" stroke="#333" stroke-width="0.8"/>
<rect x="326.4" y="159.2" width="7" height="7" fill="#7394d2" stroke="#333" stroke-width="0.8"/>
<rect x="328.5" y="165.1" width="7" height="7" fill="#7394d2" stroke="#333" stroke-width="0.8"/>
<rect x="317.3" y="170.9" width="7" height="7" fill="#7394d2" stroke="#333" stroke-width="0.8"/>
<rect x="319.1" y="176.5" width="7" height="7" fill="#7394d2" stroke="#333" stroke-width="0.8"/>
<polyline points="384.0,43.7 382.8,47.5 391.0,50.1 398.0,52.9 406.8,55.5 410.0,58.0 410.0,60.6 410.0,63.4 417.0,66.5 424.0,69.5 429.5,72.2 427.4,77.1 439.7,80.6 454.0,83.2 458.4,86.7 451.4,89.3 441.8,92.0 440.0,95.4 438.3,99.0 439.2,101.8 433.0,103.3 433.0,105.3 436.5,106.8 436.5,109.1 443.2,111.9 429.5,114.0 422.2,117.5 414.7,120.7 415.9,122.8 425.7,126.3 416.4,128.4 422.5,131.5 425.2,134.2 418.7,137.3 429.2,140.3 423.4,143.4 428.7,148.7 419.0,151.7 418.7,154.6 423.4,157.8 421.7,161.3 420.8,163.9 422.5,167.0 426.0,170.9 433.0,173.6 435.7,177.0 434.0,180.6 434.0,183.2" fill="none" stroke="#5cbb7c" stroke-width="1" stroke-linejoin="round" stroke-dasharray="4 3"/>
<rect x="380.5" y="40.2" width="7" height="7" fill="#5cbb7c" stroke="#333" stroke-width="0.8"/>
<rect x="379.3" y="44.0" width="7" height="7" fill="#5cbb7c" stroke="#333" stroke-width="0.8"/>
<rect x="387.5" y="46.6" width="7" height="7" fill="#5cbb7c" stroke="#333" stroke-width="0.8"/>
<rect x="394.5" y="49.4" width="7" height="7" fill="#5cbb7c" stroke="#333" stroke-width="0.8"/>
<rect x="403.3" y="52.0" width="7" height="7" fill="#5cbb7c" stroke="#333" stroke-width="0.8"/>
<rect x="406.5" y="54.5" width="7" height="7" fill="#5cbb7c" stroke="#333" stroke-width="0.8"/>
<rect x="406.5" y="57.1" width="7" height="7" fill="#5cbb7c" stroke="#333" stroke-width="0.8"/>
<rect x="406.5" y="59.9" width="7" height="7" fill="#5cbb7c" stroke="#333" stroke-width="0.8"/>
<rect x="413.5" y="63.0" width="7" height="7" fill="#5cbb7c" stroke="#333" stroke-width="0.8"/>
<rect x="420.5" y="66.0" width="7" height="7" fill="#5cbb7c" stroke="#333" stroke-width="0.8"/>
<rect x="426.0" y="68.7" width="7" height="7" fill="#5cbb7c" stroke="#333" stroke-width="0.8"/>
<rect x="423.9" y="73.6" width="7" height="7" fill="#5cbb7c" stroke="#333" stroke-width="0.8"/>
<rect x="436.2" y="77.1" width="7" height="7" fill="#5cbb7c" stroke="#333" stroke-width="0.8"/>
<rect x="450.5" y="79.7" width="7" height="7" fill="#5cbb7c" stroke="#333" stroke-width="0.8"/>
<rect x="454.9" y="83.2" width="7" height="7" fill="#5cbb7c" stroke="#333" stroke-width="0.8"/>
<rect x="447.9" y="85.8" width="7" height="7" fill="#5cbb7c" stroke="#333" stroke-width="0.8"/>
<rect x="438.3" y="88.5" width="7" height="7" fill="#5cbb7c" stroke="#333" stroke-width="0.8"/>
<rect x="436.5" y="91.9" width="7" height="7" fill="#5cbb7c" stroke="#333" stroke-width="0.8"/>
<rect x="434.8" y="95.5" width="7" height="7" fill="#5cbb7c" stroke="#333" stroke-width="0.8"/>
<rect x="435.7" y="98.3" width="7" height="7" fill="#5cbb7c" stroke="#333" stroke-width="0.8"/>
<rect x="429.5" y="99.8" width="7" height="7" fill="#5cbb7c" stroke="#333" stroke-width="0.8"/>
<rect x="429.5" y="101.8" width="7" height="7" fill="#5cbb7c" stroke="#333" stroke-width="0.8"/>
<rect x="433.0" y="103.3" width="7" height="7" fill="#5cbb7c" stroke="#333" stroke-width="0.8"/>
<rect x="433.0" y="105.6" width="7" height="7" fill="#5cbb7c" stroke="#333" stroke-width="0.8"/>
<rect x="439.7" y="108.4" width="7" height="7" fill="#5cbb7c" stroke="#333" stroke-width="0.8"/>
<rect x="426.0" y="110.5" width="7" height="7" fill="#5cbb7c" stroke="#333" stroke-width="0.8"/>
<rect x="418.7" y="114.0" width="7" height="7" fill="#5cbb7c" stroke="#333" stroke-width="0.8"/>
<rect x="411.2" y="117.2" width="7" height="7" fill="#5cbb7c" stroke="#333" stroke-width="0.8"/>
<rect x="412.4" y="119.3" width="7" height="7" fill="#5cbb7c" stroke="#333" stroke-width="0.8"/>
<rect x="422.2" y="122.8" width="7" height="7" fill="#5cbb7c" stroke="#333" stroke-width="0.8"/>
<rect x="412.9" y="124.9" width="7" height="7" fill="#5cbb7c" stroke="#333" stroke-width="0.8"/>
<rect x="419.0" y="128.0" width="7" height="7" fill="#5cbb7c" stroke="#333" stroke-width="0.8"/>
<rect x="421.7" y="130.7" width="7" height="7" fill="#5cbb7c" stroke="#333" stroke-width="0.8"/>
<rect x="415.2" y="133.8" width="7" height="7" fill="#5cbb7c" stroke="#333" stroke-width="0.8"/>
<rect x="425.7" y="136.8" width="7" height="7" fill="#5cbb7c" stroke="#333" stroke-width="0.8"/>
<rect x="419.9" y="139.9" width="7" height="7" fill="#5cbb7c" stroke="#333" stroke-width="0.8"/>
<rect x="425.2" y="145.2" width="7" height="7" fill="#5cbb7c" stroke="#333" stroke-width="0.8"/>
<rect x="415.5" y="148.2" width="7" height="7" fill="#5cbb7c" stroke="#333" stroke-width="0.8"/>
<rect x="415.2" y="151.1" width="7" height="7" fill="#5cbb7c" stroke="#333" stroke-width="0.8"/>
<rect x="419.9" y="154.3" width="7" height="7" fill="#5cbb7c" stroke="#333" stroke-width="0.8"/>
<rect x="418.2" y="157.8" width="7" height="7" fill="#5cbb7c" stroke="#333" stroke-width="0.8"/>
<rect x="417.3" y="160.4" width="7" height="7" fill="#5cbb7c" stroke="#333" stroke-width="0.8"/>
<rect x="419.0" y="163.5" width="7" height="7" fill="#5cbb7c" stroke="#333" stroke-width="0.8"/>
<rect x="422.5" y="167.4" width="7" height="7" fill="#5cbb7c" stroke="#333" stroke-width="0.8"/>
<rect x="429.5" y="170.1" width="7" height="7" fill="#5cbb7c" stroke="#333" stroke-width="0.8"/>
<rect x="432.2" y="173.5" width="7" height="7" fill="#5cbb7c" stroke="#333" stroke-width="0.8"/>
<rect x="430.5" y="177.1" width="7" height="7" fill="#5cbb7c" stroke="#333" stroke-width="0.8"/>
<rect x="430.5" y="179.7" width="7" height="7" fill="#5cbb7c" stroke="#333" stroke-width="0.8"/>
<rect x="512.5" y="40.2" width="7" height="7" fill="#f3f2b9" stroke="#444" stroke-width="0.8"/>
<rect x="498.5" y="46.9" width="7" height="7" fill="#f3f2b9" stroke="#444" stroke-width="0.8"/>
<rect x="513.4" y="43.5" width="7" height="7" fill="#f3f2b9" stroke="#444" stroke-width="0.8"/>
<rect x="514.3" y="48.6" width="7" height="7" fill="#f3f2b9" stroke="#444" stroke-width="0.8"/>
<rect x="516.9" y="52.0" width="7" height="7" fill="#f3f2b9" stroke="#444" stroke-width="0.8"/>
<rect x="519.2" y="55.3" width="7" height="7" fill="#f3f2b9" stroke="#444" stroke-width="0.8"/>
<rect x="519.2" y="58.7" width="7" height="7" fill="#f3f2b9" stroke="#444" stroke-width="0.8"/>
<rect x="516.9" y="62.2" width="7" height="7" fill="#f3f2b9" stroke="#444" stroke-width="0.8"/>
<rect x="517.8" y="65.7" width="7" height="7" fill="#f3f2b9" stroke="#444" stroke-width="0.8"/>
<rect x="519.2" y="68.3" width="7" height="7" fill="#f3f2b9" stroke="#444" stroke-width="0.8"/>
<rect x="517.5" y="71.8" width="7" height="7" fill="#f3f2b9" stroke="#444" stroke-width="0.8"/>
<rect x="516.0" y="76.2" width="7" height="7" fill="#f3f2b9" stroke="#444" stroke-width="0.8"/>
<rect x="512.5" y="80.6" width="7" height="7" fill="#f3f2b9" stroke="#444" stroke-width="0.8"/>
<rect x="509.9" y="84.1" width="7" height="7" fill="#f3f2b9" stroke="#444" stroke-width="0.8"/>
<rect x="506.4" y="86.7" width="7" height="7" fill="#f3f2b9" stroke="#444" stroke-width="0.8"/>
<rect x="502.9" y="89.3" width="7" height="7" fill="#f3f2b9" stroke="#444" stroke-width="0.8"/>
<rect x="501.7" y="92.8" width="7" height="7" fill="#f3f2b9" stroke="#444" stroke-width="0.8"/>
<rect x="501.9" y="95.5" width="7" height="7" fill="#f3f2b9" stroke="#444" stroke-width="0.8"/>
<rect x="501.3" y="98.9" width="7" height="7" fill="#f3f2b9" stroke="#444" stroke-width="0.8"/>
<rect x="499.9" y="102.2" width="7" height="7" fill="#f3f2b9" stroke="#444" stroke-width="0.8"/>
<rect x="500.6" y="105.6" width="7" height="7" fill="#f3f2b9" stroke="#444" stroke-width="0.8"/>
<rect x="503.9" y="107.3" width="7" height="7" fill="#f3f2b9" stroke="#444" stroke-width="0.8"/>
<rect x="502.6" y="110.2" width="7" height="7" fill="#f3f2b9" stroke="#444" stroke-width="0.8"/>
<rect x="501.9" y="112.9" width="7" height="7" fill="#f3f2b9" stroke="#444" stroke-width="0.8"/>
<rect x="501.9" y="115.6" width="7" height="7" fill="#f3f2b9" stroke="#444" stroke-width="0.8"/>
<rect x="503.3" y="118.3" width="7" height="7" fill="#f3f2b9" stroke="#444" stroke-width="0.8"/>
<rect x="503.9" y="121.0" width="7" height="7" fill="#f3f2b9" stroke="#444" stroke-width="0.8"/>
<rect x="505.3" y="123.6" width="7" height="7" fill="#f3f2b9" stroke="#444" stroke-width="0.8"/>
<rect x="505.3" y="126.6" width="7" height="7" fill="#f3f2b9" stroke="#444" stroke-width="0.8"/>
<rect x="505.3" y="129.7" width="7" height="7" fill="#f3f2b9" stroke="#444" stroke-width="0.8"/>
<rect x="504.6" y="132.3" width="7" height="7" fill="#f3f2b9" stroke="#444" stroke-width="0.8"/>
<rect x="504.6" y="135.7" width="7" height="7" fill="#f3f2b9" stroke="#444" stroke-width="0.8"/>
<rect x="503.3" y="138.4" width="7" height="7" fill="#f3f2b9" stroke="#444" stroke-width="0.8"/>
<rect x="504.6" y="140.4" width="7" height="7" fill="#f3f2b9" stroke="#444" stroke-width="0.8"/>
<rect x="505.7" y="143.0" width="7" height="7" fill="#f3f2b9" stroke="#444" stroke-width="0.8"/>
<rect x="506.6" y="147.1" width="7" height="7" fill="#f3f2b9" stroke="#444" stroke-width="0.8"/>
<rect x="503.3" y="149.7" width="7" height="7" fill="#f3f2b9" stroke="#444" stroke-width="0.8"/>
<rect x="503.9" y="153.1" width="7" height="7" fill="#f3f2b9" stroke="#444" stroke-width="0.8"/>
<rect x="503.9" y="155.8" width="7" height="7" fill="#f3f2b9" stroke="#444" stroke-width="0.8"/>
<rect x="504.6" y="158.4" width="7" height="7" fill="#f3f2b9" stroke="#444" stroke-width="0.8"/>
<rect x="504.6" y="161.1" width="7" height="7" fill="#f3f2b9" stroke="#444" stroke-width="0.8"/>
<rect x="505.3" y="163.8" width="7" height="7" fill="#f3f2b9" stroke="#444" stroke-width="0.8"/>
<rect x="505.7" y="166.5" width="7" height="7" fill="#f3f2b9" stroke="#444" stroke-width="0.8"/>
<rect x="505.7" y="169.1" width="7" height="7" fill="#f3f2b9" stroke="#444" stroke-width="0.8"/>
<rect x="505.3" y="171.8" width="7" height="7" fill="#f3f2b9" stroke="#444" stroke-width="0.8"/>
<rect x="505.7" y="174.5" width="7" height="7" fill="#f3f2b9" stroke="#444" stroke-width="0.8"/>
<rect x="506.2" y="178.5" width="7" height="7" fill="#f3f2b9" stroke="#444" stroke-width="0.8"/>
<polyline points="578.0,43.8 572.8,49.9 578.0,55.7 588.9,60.9 583.3,66.5 583.3,72.2 610.4,77.9 615.7,83.7 610.4,89.3 626.5,95.1 621.5,100.7 626.5,106.1 631.8,111.9 626.5,117.9 610.4,123.3 583.6,128.9 561.9,134.7 561.9,140.3 567.2,145.9 572.8,151.7 567.2,157.3 572.8,162.5 572.8,168.3 567.2,174.4 556.7,180.0" fill="none" stroke="#6b5db7" stroke-width="0.9" stroke-linejoin="round" />
<rect x="574.5" y="40.3" width="7" height="7" fill="#6b5db7" stroke="#333" stroke-width="0.8"/>
<rect x="569.3" y="46.4" width="7" height="7" fill="#6b5db7" stroke="#333" stroke-width="0.8"/>
<rect x="574.5" y="52.2" width="7" height="7" fill="#6b5db7" stroke="#333" stroke-width="0.8"/>
<rect x="585.4" y="57.4" width="7" height="7" fill="#6b5db7" stroke="#333" stroke-width="0.8"/>
<rect x="579.8" y="63.0" width="7" height="7" fill="#6b5db7" stroke="#333" stroke-width="0.8"/>
<rect x="579.8" y="68.7" width="7" height="7" fill="#6b5db7" stroke="#333" stroke-width="0.8"/>
<rect x="606.9" y="74.4" width="7" height="7" fill="#6b5db7" stroke="#333" stroke-width="0.8"/>
<rect x="612.2" y="80.2" width="7" height="7" fill="#6b5db7" stroke="#333" stroke-width="0.8"/>
<rect x="606.9" y="85.8" width="7" height="7" fill="#6b5db7" stroke="#333" stroke-width="0.8"/>
<rect x="623.0" y="91.6" width="7" height="7" fill="#6b5db7" stroke="#333" stroke-width="0.8"/>
<rect x="618.0" y="97.2" width="7" height="7" fill="#6b5db7" stroke="#333" stroke-width="0.8"/>
<rect x="623.0" y="102.6" width="7" height="7" fill="#6b5db7" stroke="#333" stroke-width="0.8"/>
<rect x="628.3" y="108.4" width="7" height="7" fill="#6b5db7" stroke="#333" stroke-width="0.8"/>
<rect x="623.0" y="114.4" width="7" height="7" fill="#6b5db7" stroke="#333" stroke-width="0.8"/>
<rect x="606.9" y="119.8" width="7" height="7" fill="#6b5db7" stroke="#333" stroke-width="0.8"/>
<rect x="580.1" y="125.4" width="7" height="7" fill="#6b5db7" stroke="#333" stroke-width="0.8"/>
<rect x="558.4" y="131.2" width="7" height="7" fill="#6b5db7" stroke="#333" stroke-width="0.8"/>
<rect x="558.4" y="136.8" width="7" height="7" fill="#6b5db7" stroke="#333" stroke-width="0.8"/>
<rect x="563.7" y="142.4" width="7" height="7" fill="#6b5db7" stroke="#333" stroke-width="0.8"/>
<rect x="569.3" y="148.2" width="7" height="7" fill="#6b5db7" stroke="#333" stroke-width="0.8"/>
<rect x="563.7" y="153.8" width="7" height="7" fill="#6b5db7" stroke="#333" stroke-width="0.8"/>
<rect x="569.3" y="159.0" width="7" height="7" fill="#6b5db7" stroke="#333" stroke-width="0.8"/>
<rect x="569.3" y="164.8" width="7" height="7" fill="#6b5db7" stroke="#333" stroke-width="0.8"/>
<rect x="563.7" y="170.9" width="7" height="7" fill="#6b5db7" stroke="#333" stroke-width="0.8"/>
<rect x="553.2" y="176.5" width="7" height="7" fill="#6b5db7" stroke="#333" stroke-width="0.8"/>
<defs><clipPath id="clipb"><rect x="32.4" y="233.2" width="265.6" height="155"/></clipPath><clipPath id="clipc"><rect x="371.7" y="233.2" width="266.3" height="155"/></clipPath></defs>
<g clip-path="url(#clipb)">
<circle cx="73.1" cy="296.0" r="2.4" fill="none" stroke="#e6d195" stroke-width="0.8"/>
<circle cx="76.3" cy="271.7" r="2.4" fill="none" stroke="#e6d195" stroke-width="0.8"/>
<circle cx="72.8" cy="256.8" r="2.4" fill="none" stroke="#e6d195" stroke-width="0.8"/>
<circle cx="75.4" cy="274.1" r="2.4" fill="none" stroke="#e6d195" stroke-width="0.8"/>
<circle cx="73.1" cy="252.0" r="2.4" fill="none" stroke="#e6d195" stroke-width="0.8"/>
<circle cx="72.9" cy="263.1" r="2.4" fill="none" stroke="#e6d195" stroke-width="0.8"/>
<circle cx="78.6" cy="283.8" r="2.4" fill="none" stroke="#e6d195" stroke-width="0.8"/>
<circle cx="77.5" cy="249.2" r="2.4" fill="none" stroke="#e6d195" stroke-width="0.8"/>
<circle cx="80.6" cy="281.7" r="2.4" fill="none" stroke="#e6d195" stroke-width="0.8"/>
<circle cx="74.9" cy="279.6" r="2.4" fill="none" stroke="#e6d195" stroke-width="0.8"/>
<circle cx="75.7" cy="275.0" r="2.4" fill="none" stroke="#e6d195" stroke-width="0.8"/>
<circle cx="75.8" cy="250.2" r="2.4" fill="none" stroke="#e6d195" stroke-width="0.8"/>
<circle cx="76.0" cy="248.6" r="2.4" fill="none" stroke="#e6d195" stroke-width="0.8"/>
<circle cx="76.9" cy="271.6" r="2.4" fill="none" stroke="#e6d195" stroke-width="0.8"/>
<circle cx="71.9" cy="274.5" r="2.4" fill="none" stroke="#e6d195" stroke-width="0.8"/>
<circle cx="76.9" cy="280.9" r="2.4" fill="none" stroke="#e6d195" stroke-width="0.8"/>
<circle cx="72.6" cy="271.2" r="2.4" fill="none" stroke="#e6d195" stroke-width="0.8"/>
<circle cx="75.5" cy="261.7" r="2.4" fill="none" stroke="#e6d195" stroke-width="0.8"/>
<circle cx="82.1" cy="291.5" r="2.4" fill="none" stroke="#e6d195" stroke-width="0.8"/>
<circle cx="75.4" cy="284.5" r="2.4" fill="none" stroke="#e6d195" stroke-width="0.8"/>
<circle cx="74.9" cy="262.3" r="2.4" fill="none" stroke="#e6d195" stroke-width="0.8"/>
<circle cx="76.8" cy="250.7" r="2.4" fill="none" stroke="#e6d195" stroke-width="0.8"/>
<circle cx="75.7" cy="291.9" r="2.4" fill="none" stroke="#e6d195" stroke-width="0.8"/>
<circle cx="73.5" cy="267.5" r="2.4" fill="none" stroke="#e6d195" stroke-width="0.8"/>
<circle cx="79.2" cy="247.0" r="2.4" fill="none" stroke="#e6d195" stroke-width="0.8"/>
<circle cx="74.5" cy="258.1" r="2.4" fill="none" stroke="#e6d195" stroke-width="0.8"/>
<circle cx="77.4" cy="299.0" r="2.4" fill="none" stroke="#e6d195" stroke-width="0.8"/>
<circle cx="74.3" cy="268.1" r="2.4" fill="none" stroke="#e6d195" stroke-width="0.8"/>
<circle cx="78.0" cy="288.3" r="2.4" fill="none" stroke="#e6d195" stroke-width="0.8"/>
<circle cx="76.7" cy="261.3" r="2.4" fill="none" stroke="#e6d195" stroke-width="0.8"/>
<circle cx="77.0" cy="298.1" r="2.4" fill="none" stroke="#e6d195" stroke-width="0.8"/>
<circle cx="76.4" cy="287.2" r="2.4" fill="none" stroke="#e6d195" stroke-width="0.8"/>
<circle cx="76.6" cy="252.4" r="2.4" fill="none" stroke="#e6d195" stroke-width="0.8"/>
<circle cx="76.5" cy="250.2" r="2.4" fill="none" stroke="#e6d195" stroke-width="0.8"/>
<circle cx="75.9" cy="276.6" r="2.4" fill="none" stroke="#e6d195" stroke-width="0.8"/>
<circle cx="74.3" cy="270.7" r="2.4" fill="none" stroke="#e6d195" stroke-width="0.8"/>
<circle cx="76.7" cy="253.9" r="2.4" fill="none" stroke="#e6d195" stroke-width="0.8"/>
<circle cx="78.5" cy="281.1" r="2.4" fill="none" stroke="#e6d195" stroke-width="0.8"/>
<circle cx="77.1" cy="258.3" r="2.4" fill="none" stroke="#e6d195" stroke-width="0.8"/>
<circle cx="76.9" cy="261.3" r="2.4" fill="none" stroke="#e6d195" stroke-width="0.8"/>
<circle cx="79.0" cy="263.1" r="2.4" fill="none" stroke="#e6d195" stroke-width="0.8"/>
<circle cx="74.8" cy="293.9" r="2.4" fill="none" stroke="#e6d195" stroke-width="0.8"/>
<circle cx="76.0" cy="292.3" r="2.4" fill="none" stroke="#e6d195" stroke-width="0.8"/>
<circle cx="77.4" cy="281.0" r="2.4" fill="none" stroke="#e6d195" stroke-width="0.8"/>
<circle cx="80.4" cy="258.3" r="2.4" fill="none" stroke="#e6d195" stroke-width="0.8"/>
<circle cx="79.1" cy="260.7" r="2.4" fill="none" stroke="#e6d195" stroke-width="0.8"/>
<circle cx="75.8" cy="262.7" r="2.4" fill="none" stroke="#e6d195" stroke-width="0.8"/>
<circle cx="73.7" cy="250.9" r="2.4" fill="none" stroke="#e6d195" stroke-width="0.8"/>
<circle cx="77.7" cy="259.9" r="2.4" fill="none" stroke="#e6d195" stroke-width="0.8"/>
<circle cx="76.9" cy="278.9" r="2.4" fill="none" stroke="#e6d195" stroke-width="0.8"/>
<circle cx="74.0" cy="297.8" r="2.4" fill="none" stroke="#e6d195" stroke-width="0.8"/>
<circle cx="77.1" cy="272.6" r="2.4" fill="none" stroke="#e6d195" stroke-width="0.8"/>
<circle cx="71.9" cy="256.7" r="2.4" fill="none" stroke="#e6d195" stroke-width="0.8"/>
<circle cx="73.7" cy="255.2" r="2.4" fill="none" stroke="#e6d195" stroke-width="0.8"/>
<circle cx="78.6" cy="260.2" r="2.4" fill="none" stroke="#e6d195" stroke-width="0.8"/>
<circle cx="73.5" cy="257.1" r="2.4" fill="none" stroke="#e6d195" stroke-width="0.8"/>
<circle cx="75.2" cy="257.4" r="2.4" fill="none" stroke="#e6d195" stroke-width="0.8"/>
<circle cx="70.8" cy="297.4" r="2.4" fill="none" stroke="#e6d195" stroke-width="0.8"/>
<circle cx="77.5" cy="269.3" r="2.4" fill="none" stroke="#e6d195" stroke-width="0.8"/>
<circle cx="73.7" cy="252.5" r="2.4" fill="none" stroke="#e6d195" stroke-width="0.8"/>
<circle cx="66.3" cy="256.4" r="2.4" fill="none" stroke="#e6d195" stroke-width="0.8"/>
<circle cx="66.9" cy="260.8" r="2.4" fill="none" stroke="#e6d195" stroke-width="0.8"/>
<circle cx="66.6" cy="269.8" r="2.4" fill="none" stroke="#e6d195" stroke-width="0.8"/>
<circle cx="64.5" cy="273.9" r="2.4" fill="none" stroke="#e6d195" stroke-width="0.8"/>
<circle cx="64.5" cy="278.5" r="2.4" fill="none" stroke="#e6d195" stroke-width="0.8"/>
<circle cx="63.9" cy="283.8" r="2.4" fill="none" stroke="#e6d195" stroke-width="0.8"/>
<circle cx="64.0" cy="290.0" r="2.4" fill="none" stroke="#e6d195" stroke-width="0.8"/>
<circle cx="63.0" cy="296.0" r="2.4" fill="none" stroke="#e6d195" stroke-width="0.8"/>
<circle cx="62.5" cy="302.0" r="2.4" fill="none" stroke="#e6d195" stroke-width="0.8"/>
<circle cx="86.0" cy="262.0" r="2.4" fill="none" stroke="#e6d195" stroke-width="0.8"/>
<circle cx="88.0" cy="275.0" r="2.4" fill="none" stroke="#e6d195" stroke-width="0.8"/>
<circle cx="90.0" cy="281.0" r="2.4" fill="none" stroke="#e6d195" stroke-width="0.8"/>
<circle cx="62.8" cy="340.8" r="2.4" fill="none" stroke="#e6d195" stroke-width="0.8"/>
<circle cx="70.5" cy="325.9" r="2.4" fill="none" stroke="#e6d195" stroke-width="0.8"/>
<circle cx="71.4" cy="332.8" r="2.4" fill="none" stroke="#e6d195" stroke-width="0.8"/>
<circle cx="90.1" cy="305.4" r="2.4" fill="none" stroke="#e6d195" stroke-width="0.8"/>
<circle cx="67.7" cy="326.8" r="2.4" fill="none" stroke="#e6d195" stroke-width="0.8"/>
<circle cx="63.7" cy="298.2" r="2.4" fill="none" stroke="#e6d195" stroke-width="0.8"/>
<circle cx="87.8" cy="338.5" r="2.4" fill="none" stroke="#e6d195" stroke-width="0.8"/>
<circle cx="91.2" cy="305.1" r="2.4" fill="none" stroke="#e6d195" stroke-width="0.8"/>
<circle cx="111.2" cy="309.8" r="2.4" fill="none" stroke="#e6d195" stroke-width="0.8"/>
<circle cx="62.3" cy="300.6" r="2.4" fill="none" stroke="#e6d195" stroke-width="0.8"/>
<circle cx="81.2" cy="288.6" r="2.4" fill="none" stroke="#e6d195" stroke-width="0.8"/>
<circle cx="67.8" cy="306.4" r="2.4" fill="none" stroke="#e6d195" stroke-width="0.8"/>
<circle cx="88.6" cy="294.8" r="2.4" fill="none" stroke="#e6d195" stroke-width="0.8"/>
<circle cx="76.7" cy="337.2" r="2.4" fill="none" stroke="#e6d195" stroke-width="0.8"/>
<circle cx="115.6" cy="337.7" r="2.4" fill="none" stroke="#e6d195" stroke-width="0.8"/>
<circle cx="96.0" cy="325.5" r="2.4" fill="none" stroke="#e6d195" stroke-width="0.8"/>
<circle cx="66.3" cy="287.0" r="2.4" fill="none" stroke="#e6d195" stroke-width="0.8"/>
<circle cx="62.3" cy="337.8" r="2.4" fill="none" stroke="#e6d195" stroke-width="0.8"/>
<circle cx="96.7" cy="348.4" r="2.4" fill="none" stroke="#e6d195" stroke-width="0.8"/>
<circle cx="62.4" cy="321.9" r="2.4" fill="none" stroke="#e6d195" stroke-width="0.8"/>
<circle cx="83.3" cy="329.5" r="2.4" fill="none" stroke="#e6d195" stroke-width="0.8"/>
<circle cx="74.4" cy="343.0" r="2.4" fill="none" stroke="#e6d195" stroke-width="0.8"/>
<circle cx="63.9" cy="316.7" r="2.4" fill="none" stroke="#e6d195" stroke-width="0.8"/>
<circle cx="99.0" cy="345.5" r="2.4" fill="none" stroke="#e6d195" stroke-width="0.8"/>
<circle cx="99.0" cy="333.8" r="2.4" fill="none" stroke="#e6d195" stroke-width="0.8"/>
<circle cx="102.7" cy="347.7" r="2.4" fill="none" stroke="#e6d195" stroke-width="0.8"/>
<circle cx="76.1" cy="325.0" r="2.4" fill="none" stroke="#e6d195" stroke-width="0.8"/>
<circle cx="110.0" cy="347.8" r="2.4" fill="none" stroke="#e6d195" stroke-width="0.8"/>
<circle cx="79.7" cy="332.1" r="2.4" fill="none" stroke="#e6d195" stroke-width="0.8"/>
<circle cx="107.4" cy="329.5" r="2.4" fill="none" stroke="#e6d195" stroke-width="0.8"/>
<circle cx="91.9" cy="311.5" r="2.4" fill="none" stroke="#e6d195" stroke-width="0.8"/>
<circle cx="89.3" cy="324.2" r="2.4" fill="none" stroke="#e6d195" stroke-width="0.8"/>
<circle cx="64.1" cy="322.1" r="2.4" fill="none" stroke="#e6d195" stroke-width="0.8"/>
<circle cx="116.5" cy="350.7" r="2.4" fill="none" stroke="#e6d195" stroke-width="0.8"/>
<circle cx="98.4" cy="314.8" r="2.4" fill="none" stroke="#e6d195" stroke-width="0.8"/>
<circle cx="98.9" cy="326.5" r="2.4" fill="none" stroke="#e6d195" stroke-width="0.8"/>
<circle cx="80.9" cy="335.4" r="2.4" fill="none" stroke="#e6d195" stroke-width="0.8"/>
<circle cx="64.2" cy="328.5" r="2.4" fill="none" stroke="#e6d195" stroke-width="0.8"/>
<circle cx="62.6" cy="319.9" r="2.4" fill="none" stroke="#e6d195" stroke-width="0.8"/>
<circle cx="83.2" cy="299.0" r="2.4" fill="none" stroke="#e6d195" stroke-width="0.8"/>
<circle cx="96.5" cy="320.5" r="2.4" fill="none" stroke="#e6d195" stroke-width="0.8"/>
<circle cx="91.2" cy="343.9" r="2.4" fill="none" stroke="#e6d195" stroke-width="0.8"/>
<circle cx="71.3" cy="285.7" r="2.4" fill="none" stroke="#e6d195" stroke-width="0.8"/>
<circle cx="73.5" cy="324.3" r="2.4" fill="none" stroke="#e6d195" stroke-width="0.8"/>
<circle cx="68.9" cy="294.8" r="2.4" fill="none" stroke="#e6d195" stroke-width="0.8"/>
<circle cx="110.4" cy="335.8" r="2.4" fill="none" stroke="#e6d195" stroke-width="0.8"/>
<circle cx="81.0" cy="338.6" r="2.4" fill="none" stroke="#e6d195" stroke-width="0.8"/>
<circle cx="74.9" cy="323.6" r="2.4" fill="none" stroke="#e6d195" stroke-width="0.8"/>
<circle cx="68.7" cy="310.0" r="2.4" fill="none" stroke="#e6d195" stroke-width="0.8"/>
<circle cx="103.6" cy="348.0" r="2.4" fill="none" stroke="#e6d195" stroke-width="0.8"/>
<circle cx="108.6" cy="319.1" r="2.4" fill="none" stroke="#e6d195" stroke-width="0.8"/>
<circle cx="89.3" cy="306.4" r="2.4" fill="none" stroke="#e6d195" stroke-width="0.8"/>
<circle cx="66.1" cy="313.8" r="2.4" fill="none" stroke="#e6d195" stroke-width="0.8"/>
<circle cx="105.6" cy="344.9" r="2.4" fill="none" stroke="#e6d195" stroke-width="0.8"/>
<circle cx="97.3" cy="347.8" r="2.4" fill="none" stroke="#e6d195" stroke-width="0.8"/>
<circle cx="72.4" cy="294.8" r="2.4" fill="none" stroke="#e6d195" stroke-width="0.8"/>
<circle cx="81.5" cy="301.6" r="2.4" fill="none" stroke="#e6d195" stroke-width="0.8"/>
<circle cx="69.4" cy="309.0" r="2.4" fill="none" stroke="#e6d195" stroke-width="0.8"/>
<circle cx="91.9" cy="318.3" r="2.4" fill="none" stroke="#e6d195" stroke-width="0.8"/>
<circle cx="74.3" cy="333.7" r="2.4" fill="none" stroke="#e6d195" stroke-width="0.8"/>
<circle cx="115.7" cy="326.1" r="2.4" fill="none" stroke="#e6d195" stroke-width="0.8"/>
<circle cx="63.9" cy="286.8" r="2.4" fill="none" stroke="#e6d195" stroke-width="0.8"/>
<circle cx="108.1" cy="299.0" r="2.4" fill="none" stroke="#e6d195" stroke-width="0.8"/>
<circle cx="97.1" cy="325.1" r="2.4" fill="none" stroke="#e6d195" stroke-width="0.8"/>
<circle cx="73.9" cy="330.9" r="2.4" fill="none" stroke="#e6d195" stroke-width="0.8"/>
<circle cx="62.3" cy="292.9" r="2.4" fill="none" stroke="#e6d195" stroke-width="0.8"/>
<circle cx="81.8" cy="286.5" r="2.4" fill="none" stroke="#e6d195" stroke-width="0.8"/>
<circle cx="105.1" cy="309.0" r="2.4" fill="none" stroke="#e6d195" stroke-width="0.8"/>
<circle cx="66.3" cy="287.7" r="2.4" fill="none" stroke="#e6d195" stroke-width="0.8"/>
<circle cx="92.1" cy="315.5" r="2.4" fill="none" stroke="#e6d195" stroke-width="0.8"/>
<circle cx="92.2" cy="328.2" r="2.4" fill="none" stroke="#e6d195" stroke-width="0.8"/>
<circle cx="103.6" cy="350.6" r="2.4" fill="none" stroke="#e6d195" stroke-width="0.8"/>
<circle cx="95.6" cy="302.2" r="2.4" fill="none" stroke="#e6d195" stroke-width="0.8"/>
<circle cx="82.9" cy="295.9" r="2.4" fill="none" stroke="#e6d195" stroke-width="0.8"/>
<circle cx="62.2" cy="312.4" r="2.4" fill="none" stroke="#e6d195" stroke-width="0.8"/>
<circle cx="97.5" cy="301.9" r="2.4" fill="none" stroke="#e6d195" stroke-width="0.8"/>
<circle cx="72.1" cy="305.1" r="2.4" fill="none" stroke="#e6d195" stroke-width="0.8"/>
<circle cx="96.4" cy="321.8" r="2.4" fill="none" stroke="#e6d195" stroke-width="0.8"/>
<circle cx="91.2" cy="333.9" r="2.4" fill="none" stroke="#e6d195" stroke-width="0.8"/>
<circle cx="78.4" cy="331.9" r="2.4" fill="none" stroke="#e6d195" stroke-width="0.8"/>
<circle cx="110.4" cy="302.7" r="2.4" fill="none" stroke="#e6d195" stroke-width="0.8"/>
<circle cx="112.2" cy="340.1" r="2.4" fill="none" stroke="#e6d195" stroke-width="0.8"/>
<circle cx="65.9" cy="311.3" r="2.4" fill="none" stroke="#e6d195" stroke-width="0.8"/>
<circle cx="91.9" cy="343.5" r="2.4" fill="none" stroke="#e6d195" stroke-width="0.8"/>
<circle cx="77.5" cy="318.5" r="2.4" fill="none" stroke="#e6d195" stroke-width="0.8"/>
<circle cx="108.5" cy="343.0" r="2.4" fill="none" stroke="#e6d195" stroke-width="0.8"/>
<circle cx="113.0" cy="325.6" r="2.4" fill="none" stroke="#e6d195" stroke-width="0.8"/>
<circle cx="93.5" cy="301.6" r="2.4" fill="none" stroke="#e6d195" stroke-width="0.8"/>
<circle cx="98.0" cy="340.2" r="2.4" fill="none" stroke="#e6d195" stroke-width="0.8"/>
<circle cx="92.9" cy="332.2" r="2.4" fill="none" stroke="#e6d195" stroke-width="0.8"/>
<circle cx="69.4" cy="337.2" r="2.4" fill="none" stroke="#e6d195" stroke-width="0.8"/>
<circle cx="115.6" cy="355.9" r="2.4" fill="none" stroke="#e6d195" stroke-width="0.8"/>
<circle cx="86.5" cy="334.2" r="2.4" fill="none" stroke="#e6d195" stroke-width="0.8"/>
<circle cx="74.5" cy="337.8" r="2.4" fill="none" stroke="#e6d195" stroke-width="0.8"/>
<circle cx="106.9" cy="316.2" r="2.4" fill="none" stroke="#e6d195" stroke-width="0.8"/>
<circle cx="64.2" cy="310.6" r="2.4" fill="none" stroke="#e6d195" stroke-width="0.8"/>
<circle cx="87.3" cy="333.1" r="2.4" fill="none" stroke="#e6d195" stroke-width="0.8"/>
<circle cx="83.6" cy="286.7" r="2.4" fill="none" stroke="#e6d195" stroke-width="0.8"/>
<circle cx="103.8" cy="298.1" r="2.4" fill="none" stroke="#e6d195" stroke-width="0.8"/>
<circle cx="103.1" cy="304.2" r="2.4" fill="none" stroke="#e6d195" stroke-width="0.8"/>
<circle cx="75.3" cy="330.8" r="2.4" fill="none" stroke="#e6d195" stroke-width="0.8"/>
<circle cx="66.3" cy="293.6" r="2.4" fill="none" stroke="#e6d195" stroke-width="0.8"/>
<circle cx="85.3" cy="329.6" r="2.4" fill="none" stroke="#e6d195" stroke-width="0.8"/>
<circle cx="105.8" cy="335.7" r="2.4" fill="none" stroke="#e6d195" stroke-width="0.8"/>
<circle cx="113.2" cy="327.3" r="2.4" fill="none" stroke="#e6d195" stroke-width="0.8"/>
<circle cx="113.4" cy="304.1" r="2.4" fill="none" stroke="#e6d195" stroke-width="0.8"/>
<circle cx="69.7" cy="315.5" r="2.4" fill="none" stroke="#e6d195" stroke-width="0.8"/>
<circle cx="73.0" cy="327.3" r="2.4" fill="none" stroke="#e6d195" stroke-width="0.8"/>
<circle cx="92.7" cy="320.4" r="2.4" fill="none" stroke="#e6d195" stroke-width="0.8"/>
<circle cx="106.1" cy="328.2" r="2.4" fill="none" stroke="#e6d195" stroke-width="0.8"/>
<circle cx="74.1" cy="307.1" r="2.4" fill="none" stroke="#e6d195" stroke-width="0.8"/>
<circle cx="106.2" cy="348.1" r="2.4" fill="none" stroke="#e6d195" stroke-width="0.8"/>
<circle cx="69.2" cy="334.3" r="2.4" fill="none" stroke="#e6d195" stroke-width="0.8"/>
<circle cx="114.8" cy="329.8" r="2.4" fill="none" stroke="#e6d195" stroke-width="0.8"/>
<circle cx="88.7" cy="299.1" r="2.4" fill="none" stroke="#e6d195" stroke-width="0.8"/>
<circle cx="86.4" cy="316.6" r="2.4" fill="none" stroke="#e6d195" stroke-width="0.8"/>
<circle cx="90.6" cy="289.5" r="2.4" fill="none" stroke="#e6d195" stroke-width="0.8"/>
<circle cx="114.8" cy="329.3" r="2.4" fill="none" stroke="#e6d195" stroke-width="0.8"/>
<circle cx="78.7" cy="332.5" r="2.4" fill="none" stroke="#e6d195" stroke-width="0.8"/>
<circle cx="88.1" cy="316.5" r="2.4" fill="none" stroke="#e6d195" stroke-width="0.8"/>
<circle cx="96.0" cy="294.5" r="2.4" fill="none" stroke="#e6d195" stroke-width="0.8"/>
<circle cx="86.6" cy="311.2" r="2.4" fill="none" stroke="#e6d195" stroke-width="0.8"/>
<circle cx="113.9" cy="352.3" r="2.4" fill="none" stroke="#e6d195" stroke-width="0.8"/>
<circle cx="72.0" cy="312.4" r="2.4" fill="none" stroke="#e6d195" stroke-width="0.8"/>
<circle cx="65.8" cy="310.2" r="2.4" fill="none" stroke="#e6d195" stroke-width="0.8"/>
<circle cx="104.2" cy="347.4" r="2.4" fill="none" stroke="#e6d195" stroke-width="0.8"/>
<circle cx="83.0" cy="304.3" r="2.4" fill="none" stroke="#e6d195" stroke-width="0.8"/>
<circle cx="68.4" cy="320.8" r="2.4" fill="none" stroke="#e6d195" stroke-width="0.8"/>
<circle cx="111.7" cy="305.8" r="2.4" fill="none" stroke="#e6d195" stroke-width="0.8"/>
<circle cx="101.8" cy="294.7" r="2.4" fill="none" stroke="#e6d195" stroke-width="0.8"/>
<circle cx="68.5" cy="298.2" r="2.4" fill="none" stroke="#e6d195" stroke-width="0.8"/>
<circle cx="95.8" cy="309.7" r="2.4" fill="none" stroke="#e6d195" stroke-width="0.8"/>
<circle cx="76.3" cy="321.2" r="2.4" fill="none" stroke="#e6d195" stroke-width="0.8"/>
<circle cx="64.9" cy="327.4" r="2.4" fill="none" stroke="#e6d195" stroke-width="0.8"/>
<circle cx="65.6" cy="314.6" r="2.4" fill="none" stroke="#e6d195" stroke-width="0.8"/>
<circle cx="71.1" cy="296.5" r="2.4" fill="none" stroke="#e6d195" stroke-width="0.8"/>
<circle cx="86.1" cy="312.3" r="2.4" fill="none" stroke="#e6d195" stroke-width="0.8"/>
<circle cx="77.4" cy="309.3" r="2.4" fill="none" stroke="#e6d195" stroke-width="0.8"/>
<circle cx="86.1" cy="295.3" r="2.4" fill="none" stroke="#e6d195" stroke-width="0.8"/>
<circle cx="69.0" cy="321.6" r="2.4" fill="none" stroke="#e6d195" stroke-width="0.8"/>
<circle cx="92.7" cy="320.8" r="2.4" fill="none" stroke="#e6d195" stroke-width="0.8"/>
<circle cx="106.6" cy="331.4" r="2.4" fill="none" stroke="#e6d195" stroke-width="0.8"/>
<circle cx="107.0" cy="309.5" r="2.4" fill="none" stroke="#e6d195" stroke-width="0.8"/>
<circle cx="99.2" cy="340.2" r="2.4" fill="none" stroke="#e6d195" stroke-width="0.8"/>
<circle cx="110.1" cy="315.8" r="2.4" fill="none" stroke="#e6d195" stroke-width="0.8"/>
<circle cx="74.3" cy="338.5" r="2.4" fill="none" stroke="#e6d195" stroke-width="0.8"/>
<circle cx="69.6" cy="342.9" r="2.4" fill="none" stroke="#e6d195" stroke-width="0.8"/>
<circle cx="109.1" cy="304.8" r="2.4" fill="none" stroke="#e6d195" stroke-width="0.8"/>
<circle cx="70.6" cy="327.1" r="2.4" fill="none" stroke="#e6d195" stroke-width="0.8"/>
<circle cx="71.5" cy="290.6" r="2.4" fill="none" stroke="#e6d195" stroke-width="0.8"/>
<circle cx="105.3" cy="319.8" r="2.4" fill="none" stroke="#e6d195" stroke-width="0.8"/>
<circle cx="102.5" cy="301.2" r="2.4" fill="none" stroke="#e6d195" stroke-width="0.8"/>
<circle cx="78.9" cy="325.7" r="2.4" fill="none" stroke="#e6d195" stroke-width="0.8"/>
<circle cx="62.3" cy="296.7" r="2.4" fill="none" stroke="#e6d195" stroke-width="0.8"/>
<circle cx="95.5" cy="344.9" r="2.4" fill="none" stroke="#e6d195" stroke-width="0.8"/>
<circle cx="114.7" cy="306.5" r="2.4" fill="none" stroke="#e6d195" stroke-width="0.8"/>
<circle cx="84.7" cy="331.5" r="2.4" fill="none" stroke="#e6d195" stroke-width="0.8"/>
<circle cx="84.5" cy="327.0" r="2.4" fill="none" stroke="#e6d195" stroke-width="0.8"/>
<circle cx="68.3" cy="289.1" r="2.4" fill="none" stroke="#e6d195" stroke-width="0.8"/>
<circle cx="65.0" cy="287.2" r="2.4" fill="none" stroke="#e6d195" stroke-width="0.8"/>
<circle cx="87.4" cy="317.7" r="2.4" fill="none" stroke="#e6d195" stroke-width="0.8"/>
<circle cx="88.4" cy="295.6" r="2.4" fill="none" stroke="#e6d195" stroke-width="0.8"/>
<circle cx="68.1" cy="296.8" r="2.4" fill="none" stroke="#e6d195" stroke-width="0.8"/>
<circle cx="105.9" cy="353.2" r="2.4" fill="none" stroke="#e6d195" stroke-width="0.8"/>
<circle cx="111.8" cy="303.9" r="2.4" fill="none" stroke="#e6d195" stroke-width="0.8"/>
<circle cx="63.5" cy="340.2" r="2.4" fill="none" stroke="#e6d195" stroke-width="0.8"/>
<circle cx="82.2" cy="331.3" r="2.4" fill="none" stroke="#e6d195" stroke-width="0.8"/>
<circle cx="74.9" cy="312.1" r="2.4" fill="none" stroke="#e6d195" stroke-width="0.8"/>
<circle cx="85.2" cy="311.5" r="2.4" fill="none" stroke="#e6d195" stroke-width="0.8"/>
<circle cx="90.4" cy="288.5" r="2.4" fill="none" stroke="#e6d195" stroke-width="0.8"/>
<circle cx="96.7" cy="341.3" r="2.4" fill="none" stroke="#e6d195" stroke-width="0.8"/>
<circle cx="68.0" cy="311.3" r="2.4" fill="none" stroke="#e6d195" stroke-width="0.8"/>
<circle cx="99.1" cy="316.1" r="2.4" fill="none" stroke="#e6d195" stroke-width="0.8"/>
<circle cx="68.6" cy="294.6" r="2.4" fill="none" stroke="#e6d195" stroke-width="0.8"/>
<circle cx="85.1" cy="286.0" r="2.4" fill="none" stroke="#e6d195" stroke-width="0.8"/>
<circle cx="109.5" cy="343.6" r="2.4" fill="none" stroke="#e6d195" stroke-width="0.8"/>
<circle cx="96.9" cy="342.3" r="2.4" fill="none" stroke="#e6d195" stroke-width="0.8"/>
<circle cx="92.1" cy="313.0" r="2.4" fill="none" stroke="#e6d195" stroke-width="0.8"/>
<circle cx="90.3" cy="318.3" r="2.4" fill="none" stroke="#e6d195" stroke-width="0.8"/>
<circle cx="115.8" cy="346.2" r="2.4" fill="none" stroke="#e6d195" stroke-width="0.8"/>
<circle cx="71.5" cy="337.9" r="2.4" fill="none" stroke="#e6d195" stroke-width="0.8"/>
<circle cx="99.5" cy="338.4" r="2.4" fill="none" stroke="#e6d195" stroke-width="0.8"/>
<circle cx="104.1" cy="318.3" r="2.4" fill="none" stroke="#e6d195" stroke-width="0.8"/>
<circle cx="109.7" cy="348.2" r="2.4" fill="none" stroke="#e6d195" stroke-width="0.8"/>
<circle cx="96.3" cy="336.5" r="2.4" fill="none" stroke="#e6d195" stroke-width="0.8"/>
<circle cx="100.8" cy="316.9" r="2.4" fill="none" stroke="#e6d195" stroke-width="0.8"/>
<circle cx="98.1" cy="295.7" r="2.4" fill="none" stroke="#e6d195" stroke-width="0.8"/>
<circle cx="75.6" cy="312.3" r="2.4" fill="none" stroke="#e6d195" stroke-width="0.8"/>
<circle cx="62.1" cy="305.6" r="2.4" fill="none" stroke="#e6d195" stroke-width="0.8"/>
<circle cx="92.7" cy="326.5" r="2.4" fill="none" stroke="#e6d195" stroke-width="0.8"/>
<circle cx="70.2" cy="339.8" r="2.4" fill="none" stroke="#e6d195" stroke-width="0.8"/>
<circle cx="94.4" cy="310.0" r="2.4" fill="none" stroke="#e6d195" stroke-width="0.8"/>
<circle cx="94.0" cy="323.8" r="2.4" fill="none" stroke="#e6d195" stroke-width="0.8"/>
<circle cx="86.3" cy="309.5" r="2.4" fill="none" stroke="#e6d195" stroke-width="0.8"/>
<circle cx="117.0" cy="337.4" r="2.4" fill="none" stroke="#e6d195" stroke-width="0.8"/>
<circle cx="96.7" cy="336.3" r="2.4" fill="none" stroke="#e6d195" stroke-width="0.8"/>
<circle cx="115.6" cy="301.6" r="2.4" fill="none" stroke="#e6d195" stroke-width="0.8"/>
<circle cx="91.3" cy="332.9" r="2.4" fill="none" stroke="#e6d195" stroke-width="0.8"/>
<circle cx="71.4" cy="308.3" r="2.4" fill="none" stroke="#e6d195" stroke-width="0.8"/>
<circle cx="63.1" cy="296.3" r="2.4" fill="none" stroke="#e6d195" stroke-width="0.8"/>
<circle cx="77.4" cy="290.8" r="2.4" fill="none" stroke="#e6d195" stroke-width="0.8"/>
<circle cx="71.1" cy="337.5" r="2.4" fill="none" stroke="#e6d195" stroke-width="0.8"/>
<circle cx="87.3" cy="317.2" r="2.4" fill="none" stroke="#e6d195" stroke-width="0.8"/>
<circle cx="114.7" cy="332.2" r="2.4" fill="none" stroke="#e6d195" stroke-width="0.8"/>
<circle cx="116.7" cy="337.0" r="2.4" fill="none" stroke="#e6d195" stroke-width="0.8"/>
<circle cx="103.8" cy="298.9" r="2.4" fill="none" stroke="#e6d195" stroke-width="0.8"/>
<circle cx="90.2" cy="333.7" r="2.4" fill="none" stroke="#e6d195" stroke-width="0.8"/>
<circle cx="63.0" cy="338.9" r="2.4" fill="none" stroke="#e6d195" stroke-width="0.8"/>
<circle cx="67.1" cy="312.4" r="2.4" fill="none" stroke="#e6d195" stroke-width="0.8"/>
<circle cx="67.5" cy="313.7" r="2.4" fill="none" stroke="#e6d195" stroke-width="0.8"/>
<circle cx="91.0" cy="291.5" r="2.4" fill="none" stroke="#e6d195" stroke-width="0.8"/>
<circle cx="113.1" cy="323.2" r="2.4" fill="none" stroke="#e6d195" stroke-width="0.8"/>
<circle cx="85.9" cy="322.1" r="2.4" fill="none" stroke="#e6d195" stroke-width="0.8"/>
<circle cx="76.9" cy="301.8" r="2.4" fill="none" stroke="#e6d195" stroke-width="0.8"/>
<circle cx="93.7" cy="323.1" r="2.4" fill="none" stroke="#e6d195" stroke-width="0.8"/>
<circle cx="72.7" cy="326.6" r="2.4" fill="none" stroke="#e6d195" stroke-width="0.8"/>
<circle cx="73.3" cy="285.8" r="2.4" fill="none" stroke="#e6d195" stroke-width="0.8"/>
<circle cx="70.8" cy="287.5" r="2.4" fill="none" stroke="#e6d195" stroke-width="0.8"/>
<circle cx="66.9" cy="328.8" r="2.4" fill="none" stroke="#e6d195" stroke-width="0.8"/>
<circle cx="78.2" cy="338.1" r="2.4" fill="none" stroke="#e6d195" stroke-width="0.8"/>
<circle cx="99.7" cy="295.3" r="2.4" fill="none" stroke="#e6d195" stroke-width="0.8"/>
<circle cx="116.2" cy="354.3" r="2.4" fill="none" stroke="#e6d195" stroke-width="0.8"/>
<circle cx="63.8" cy="337.5" r="2.4" fill="none" stroke="#e6d195" stroke-width="0.8"/>
<circle cx="80.3" cy="313.6" r="2.4" fill="none" stroke="#e6d195" stroke-width="0.8"/>
<circle cx="115.1" cy="313.9" r="2.4" fill="none" stroke="#e6d195" stroke-width="0.8"/>
<circle cx="85.7" cy="342.9" r="2.4" fill="none" stroke="#e6d195" stroke-width="0.8"/>
<circle cx="98.1" cy="319.4" r="2.4" fill="none" stroke="#e6d195" stroke-width="0.8"/>
<circle cx="115.5" cy="346.7" r="2.4" fill="none" stroke="#e6d195" stroke-width="0.8"/>
<circle cx="90.5" cy="294.7" r="2.4" fill="none" stroke="#e6d195" stroke-width="0.8"/>
<circle cx="91.8" cy="316.0" r="2.4" fill="none" stroke="#e6d195" stroke-width="0.8"/>
<circle cx="68.9" cy="288.0" r="2.4" fill="none" stroke="#e6d195" stroke-width="0.8"/>
<circle cx="86.0" cy="293.1" r="2.4" fill="none" stroke="#e6d195" stroke-width="0.8"/>
<circle cx="81.1" cy="325.2" r="2.4" fill="none" stroke="#e6d195" stroke-width="0.8"/>
<circle cx="81.8" cy="300.8" r="2.4" fill="none" stroke="#e6d195" stroke-width="0.8"/>
<circle cx="89.2" cy="312.6" r="2.4" fill="none" stroke="#e6d195" stroke-width="0.8"/>
<circle cx="101.7" cy="324.7" r="2.4" fill="none" stroke="#e6d195" stroke-width="0.8"/>
<circle cx="116.8" cy="355.0" r="2.4" fill="none" stroke="#e6d195" stroke-width="0.8"/>
<circle cx="98.8" cy="306.1" r="2.4" fill="none" stroke="#e6d195" stroke-width="0.8"/>
<circle cx="65.3" cy="336.8" r="2.4" fill="none" stroke="#e6d195" stroke-width="0.8"/>
<circle cx="102.1" cy="330.4" r="2.4" fill="none" stroke="#e6d195" stroke-width="0.8"/>
<circle cx="76.5" cy="300.9" r="2.4" fill="none" stroke="#e6d195" stroke-width="0.8"/>
<circle cx="95.6" cy="324.2" r="2.4" fill="none" stroke="#e6d195" stroke-width="0.8"/>
<circle cx="89.8" cy="325.9" r="2.4" fill="none" stroke="#e6d195" stroke-width="0.8"/>
<circle cx="100.1" cy="303.8" r="2.4" fill="none" stroke="#e6d195" stroke-width="0.8"/>
<circle cx="71.0" cy="341.8" r="2.4" fill="none" stroke="#e6d195" stroke-width="0.8"/>
<circle cx="111.1" cy="348.6" r="2.4" fill="none" stroke="#e6d195" stroke-width="0.8"/>
<circle cx="62.8" cy="288.5" r="2.4" fill="none" stroke="#e6d195" stroke-width="0.8"/>
<circle cx="72.1" cy="309.7" r="2.4" fill="none" stroke="#e6d195" stroke-width="0.8"/>
<circle cx="91.8" cy="294.6" r="2.4" fill="none" stroke="#e6d195" stroke-width="0.8"/>
<circle cx="86.8" cy="290.3" r="2.4" fill="none" stroke="#e6d195" stroke-width="0.8"/>
<circle cx="64.3" cy="324.2" r="2.4" fill="none" stroke="#e6d195" stroke-width="0.8"/>
<circle cx="87.3" cy="324.8" r="2.4" fill="none" stroke="#e6d195" stroke-width="0.8"/>
<circle cx="77.3" cy="313.1" r="2.4" fill="none" stroke="#e6d195" stroke-width="0.8"/>
<circle cx="69.3" cy="304.9" r="2.4" fill="none" stroke="#e6d195" stroke-width="0.8"/>
<circle cx="99.5" cy="342.0" r="2.4" fill="none" stroke="#e6d195" stroke-width="0.8"/>
<circle cx="63.9" cy="291.9" r="2.4" fill="none" stroke="#e6d195" stroke-width="0.8"/>
<circle cx="103.8" cy="331.0" r="2.4" fill="none" stroke="#e6d195" stroke-width="0.8"/>
<circle cx="101.1" cy="305.6" r="2.4" fill="none" stroke="#e6d195" stroke-width="0.8"/>
<circle cx="80.0" cy="300.4" r="2.4" fill="none" stroke="#e6d195" stroke-width="0.8"/>
<circle cx="103.8" cy="316.1" r="2.4" fill="none" stroke="#e6d195" stroke-width="0.8"/>
<circle cx="117.7" cy="347.3" r="2.4" fill="none" stroke="#e6d195" stroke-width="0.8"/>
<circle cx="80.2" cy="323.5" r="2.4" fill="none" stroke="#e6d195" stroke-width="0.8"/>
<circle cx="130.8" cy="343.7" r="2.4" fill="none" stroke="#e6d195" stroke-width="0.8"/>
<circle cx="90.3" cy="314.7" r="2.4" fill="none" stroke="#e6d195" stroke-width="0.8"/>
<circle cx="64.6" cy="343.5" r="2.4" fill="none" stroke="#e6d195" stroke-width="0.8"/>
<circle cx="63.9" cy="290.2" r="2.4" fill="none" stroke="#e6d195" stroke-width="0.8"/>
<circle cx="106.0" cy="323.4" r="2.4" fill="none" stroke="#e6d195" stroke-width="0.8"/>
<circle cx="122.1" cy="318.0" r="2.4" fill="none" stroke="#e6d195" stroke-width="0.8"/>
<circle cx="135.2" cy="312.8" r="2.4" fill="none" stroke="#e6d195" stroke-width="0.8"/>
<circle cx="71.3" cy="329.7" r="2.4" fill="none" stroke="#e6d195" stroke-width="0.8"/>
<circle cx="64.0" cy="305.1" r="2.4" fill="none" stroke="#e6d195" stroke-width="0.8"/>
<circle cx="127.8" cy="334.9" r="2.4" fill="none" stroke="#e6d195" stroke-width="0.8"/>
<circle cx="76.6" cy="298.0" r="2.4" fill="none" stroke="#e6d195" stroke-width="0.8"/>
<circle cx="83.2" cy="334.3" r="2.4" fill="none" stroke="#e6d195" stroke-width="0.8"/>
<circle cx="84.1" cy="298.7" r="2.4" fill="none" stroke="#e6d195" stroke-width="0.8"/>
<circle cx="125.5" cy="329.7" r="2.4" fill="none" stroke="#e6d195" stroke-width="0.8"/>
<circle cx="158.0" cy="343.1" r="2.4" fill="none" stroke="#e6d195" stroke-width="0.8"/>
<circle cx="157.2" cy="329.7" r="2.4" fill="none" stroke="#e6d195" stroke-width="0.8"/>
<circle cx="139.4" cy="322.1" r="2.4" fill="none" stroke="#e6d195" stroke-width="0.8"/>
<circle cx="79.6" cy="314.4" r="2.4" fill="none" stroke="#e6d195" stroke-width="0.8"/>
<circle cx="160.7" cy="341.8" r="2.4" fill="none" stroke="#e6d195" stroke-width="0.8"/>
<circle cx="73.8" cy="311.0" r="2.4" fill="none" stroke="#e6d195" stroke-width="0.8"/>
<circle cx="84.0" cy="313.1" r="2.4" fill="none" stroke="#e6d195" stroke-width="0.8"/>
<circle cx="86.9" cy="315.1" r="2.4" fill="none" stroke="#e6d195" stroke-width="0.8"/>
<circle cx="70.0" cy="323.2" r="2.4" fill="none" stroke="#e6d195" stroke-width="0.8"/>
<circle cx="138.5" cy="330.1" r="2.4" fill="none" stroke="#e6d195" stroke-width="0.8"/>
<circle cx="144.6" cy="331.6" r="2.4" fill="none" stroke="#e6d195" stroke-width="0.8"/>
<circle cx="68.9" cy="335.8" r="2.4" fill="none" stroke="#e6d195" stroke-width="0.8"/>
<circle cx="151.8" cy="324.2" r="2.4" fill="none" stroke="#e6d195" stroke-width="0.8"/>
<circle cx="62.2" cy="319.1" r="2.4" fill="none" stroke="#e6d195" stroke-width="0.8"/>
<circle cx="103.5" cy="327.2" r="2.4" fill="none" stroke="#e6d195" stroke-width="0.8"/>
<circle cx="166.1" cy="336.1" r="2.4" fill="none" stroke="#e6d195" stroke-width="0.8"/>
<circle cx="139.6" cy="313.8" r="2.4" fill="none" stroke="#e6d195" stroke-width="0.8"/>
<circle cx="103.9" cy="338.2" r="2.4" fill="none" stroke="#e6d195" stroke-width="0.8"/>
<circle cx="64.1" cy="290.2" r="2.4" fill="none" stroke="#e6d195" stroke-width="0.8"/>
<circle cx="129.5" cy="342.9" r="2.4" fill="none" stroke="#e6d195" stroke-width="0.8"/>
<circle cx="64.1" cy="327.3" r="2.4" fill="none" stroke="#e6d195" stroke-width="0.8"/>
<circle cx="66.9" cy="334.9" r="2.4" fill="none" stroke="#e6d195" stroke-width="0.8"/>
<circle cx="117.1" cy="314.5" r="2.4" fill="none" stroke="#e6d195" stroke-width="0.8"/>
<circle cx="71.8" cy="336.3" r="2.4" fill="none" stroke="#e6d195" stroke-width="0.8"/>
<circle cx="100.8" cy="337.0" r="2.4" fill="none" stroke="#e6d195" stroke-width="0.8"/>
<circle cx="86.8" cy="312.2" r="2.4" fill="none" stroke="#e6d195" stroke-width="0.8"/>
<circle cx="166.5" cy="336.6" r="2.4" fill="none" stroke="#e6d195" stroke-width="0.8"/>
<circle cx="97.6" cy="324.9" r="2.4" fill="none" stroke="#e6d195" stroke-width="0.8"/>
<circle cx="127.2" cy="335.4" r="2.4" fill="none" stroke="#e6d195" stroke-width="0.8"/>
<circle cx="157.4" cy="329.0" r="2.4" fill="none" stroke="#e6d195" stroke-width="0.8"/>
<circle cx="143.1" cy="334.8" r="2.4" fill="none" stroke="#e6d195" stroke-width="0.8"/>
<circle cx="147.4" cy="339.5" r="2.4" fill="none" stroke="#e6d195" stroke-width="0.8"/>
<circle cx="144.2" cy="342.1" r="2.4" fill="none" stroke="#e6d195" stroke-width="0.8"/>
<circle cx="164.7" cy="335.7" r="2.4" fill="none" stroke="#e6d195" stroke-width="0.8"/>
<circle cx="101.1" cy="334.2" r="2.4" fill="none" stroke="#e6d195" stroke-width="0.8"/>
<circle cx="139.3" cy="326.1" r="2.4" fill="none" stroke="#e6d195" stroke-width="0.8"/>
<circle cx="89.5" cy="302.0" r="2.4" fill="none" stroke="#e6d195" stroke-width="0.8"/>
<circle cx="130.1" cy="346.5" r="2.4" fill="none" stroke="#e6d195" stroke-width="0.8"/>
<circle cx="85.0" cy="301.9" r="2.4" fill="none" stroke="#e6d195" stroke-width="0.8"/>
<circle cx="70.7" cy="314.4" r="2.4" fill="none" stroke="#e6d195" stroke-width="0.8"/>
<circle cx="77.3" cy="349.0" r="2.4" fill="none" stroke="#e6d195" stroke-width="0.8"/>
<circle cx="63.2" cy="305.2" r="2.4" fill="none" stroke="#e6d195" stroke-width="0.8"/>
<circle cx="65.4" cy="328.3" r="2.4" fill="none" stroke="#e6d195" stroke-width="0.8"/>
<circle cx="135.3" cy="316.6" r="2.4" fill="none" stroke="#e6d195" stroke-width="0.8"/>
<circle cx="63.3" cy="315.4" r="2.4" fill="none" stroke="#e6d195" stroke-width="0.8"/>
<circle cx="108.5" cy="344.1" r="2.4" fill="none" stroke="#e6d195" stroke-width="0.8"/>
<circle cx="62.5" cy="291.6" r="2.4" fill="none" stroke="#e6d195" stroke-width="0.8"/>
<circle cx="69.4" cy="300.7" r="2.4" fill="none" stroke="#e6d195" stroke-width="0.8"/>
<circle cx="72.9" cy="333.3" r="2.4" fill="none" stroke="#e6d195" stroke-width="0.8"/>
<circle cx="109.9" cy="311.6" r="2.4" fill="none" stroke="#e6d195" stroke-width="0.8"/>
<circle cx="69.4" cy="304.8" r="2.4" fill="none" stroke="#e6d195" stroke-width="0.8"/>
<circle cx="68.6" cy="335.7" r="2.4" fill="none" stroke="#e6d195" stroke-width="0.8"/>
<circle cx="79.0" cy="323.3" r="2.4" fill="none" stroke="#e6d195" stroke-width="0.8"/>
<circle cx="141.6" cy="328.5" r="2.4" fill="none" stroke="#e6d195" stroke-width="0.8"/>
<circle cx="74.8" cy="344.0" r="2.4" fill="none" stroke="#e6d195" stroke-width="0.8"/>
<circle cx="157.3" cy="327.1" r="2.4" fill="none" stroke="#e6d195" stroke-width="0.8"/>
<circle cx="103.9" cy="346.7" r="2.4" fill="none" stroke="#e6d195" stroke-width="0.8"/>
<circle cx="96.3" cy="308.0" r="2.4" fill="none" stroke="#e6d195" stroke-width="0.8"/>
<circle cx="62.9" cy="348.4" r="2.4" fill="none" stroke="#e6d195" stroke-width="0.8"/>
<circle cx="139.2" cy="324.8" r="2.4" fill="none" stroke="#e6d195" stroke-width="0.8"/>
<circle cx="101.5" cy="324.3" r="2.4" fill="none" stroke="#e6d195" stroke-width="0.8"/>
<circle cx="75.9" cy="350.3" r="2.4" fill="none" stroke="#e6d195" stroke-width="0.8"/>
<circle cx="118.2" cy="314.4" r="2.4" fill="none" stroke="#e6d195" stroke-width="0.8"/>
<circle cx="62.1" cy="316.2" r="2.4" fill="none" stroke="#e6d195" stroke-width="0.8"/>
<circle cx="84.6" cy="338.4" r="2.4" fill="none" stroke="#e6d195" stroke-width="0.8"/>
<circle cx="126.1" cy="331.2" r="2.4" fill="none" stroke="#e6d195" stroke-width="0.8"/>
<circle cx="67.7" cy="296.3" r="2.4" fill="none" stroke="#e6d195" stroke-width="0.8"/>
<circle cx="79.9" cy="306.0" r="2.4" fill="none" stroke="#e6d195" stroke-width="0.8"/>
<circle cx="149.9" cy="330.8" r="2.4" fill="none" stroke="#e6d195" stroke-width="0.8"/>
<circle cx="115.5" cy="347.6" r="2.4" fill="none" stroke="#e6d195" stroke-width="0.8"/>
<circle cx="75.3" cy="322.0" r="2.4" fill="none" stroke="#e6d195" stroke-width="0.8"/>
<circle cx="67.3" cy="336.5" r="2.4" fill="none" stroke="#e6d195" stroke-width="0.8"/>
<circle cx="62.0" cy="339.9" r="2.4" fill="none" stroke="#e6d195" stroke-width="0.8"/>
<circle cx="146.2" cy="340.0" r="2.4" fill="none" stroke="#e6d195" stroke-width="0.8"/>
<circle cx="64.0" cy="302.8" r="2.4" fill="none" stroke="#e6d195" stroke-width="0.8"/>
<circle cx="126.5" cy="310.9" r="2.4" fill="none" stroke="#e6d195" stroke-width="0.8"/>
<circle cx="96.0" cy="321.1" r="2.4" fill="none" stroke="#e6d195" stroke-width="0.8"/>
<circle cx="164.3" cy="334.4" r="2.4" fill="none" stroke="#e6d195" stroke-width="0.8"/>
<circle cx="148.0" cy="324.0" r="2.4" fill="none" stroke="#e6d195" stroke-width="0.8"/>
<circle cx="137.3" cy="325.6" r="2.4" fill="none" stroke="#e6d195" stroke-width="0.8"/>
<circle cx="157.7" cy="320.5" r="2.4" fill="none" stroke="#e6d195" stroke-width="0.8"/>
<circle cx="143.1" cy="319.7" r="2.4" fill="none" stroke="#e6d195" stroke-width="0.8"/>
<circle cx="103.5" cy="325.1" r="2.4" fill="none" stroke="#e6d195" stroke-width="0.8"/>
<circle cx="67.7" cy="340.6" r="2.4" fill="none" stroke="#e6d195" stroke-width="0.8"/>
<circle cx="79.0" cy="308.9" r="2.4" fill="none" stroke="#e6d195" stroke-width="0.8"/>
<circle cx="63.8" cy="305.2" r="2.4" fill="none" stroke="#e6d195" stroke-width="0.8"/>
<circle cx="94.6" cy="334.2" r="2.4" fill="none" stroke="#e6d195" stroke-width="0.8"/>
<circle cx="83.4" cy="332.0" r="2.4" fill="none" stroke="#e6d195" stroke-width="0.8"/>
<circle cx="65.0" cy="311.4" r="2.4" fill="none" stroke="#e6d195" stroke-width="0.8"/>
<circle cx="93.9" cy="347.8" r="2.4" fill="none" stroke="#e6d195" stroke-width="0.8"/>
<circle cx="143.6" cy="334.5" r="2.4" fill="none" stroke="#e6d195" stroke-width="0.8"/>
<circle cx="62.1" cy="309.7" r="2.4" fill="none" stroke="#e6d195" stroke-width="0.8"/>
<circle cx="125.6" cy="316.3" r="2.4" fill="none" stroke="#e6d195" stroke-width="0.8"/>
<circle cx="106.0" cy="322.1" r="2.4" fill="none" stroke="#e6d195" stroke-width="0.8"/>
<circle cx="62.1" cy="351.4" r="2.4" fill="none" stroke="#e6d195" stroke-width="0.8"/>
<circle cx="138.9" cy="318.6" r="2.4" fill="none" stroke="#e6d195" stroke-width="0.8"/>
<circle cx="112.7" cy="315.4" r="2.4" fill="none" stroke="#e6d195" stroke-width="0.8"/>
<circle cx="85.0" cy="323.5" r="2.4" fill="none" stroke="#e6d195" stroke-width="0.8"/>
<circle cx="77.9" cy="310.3" r="2.4" fill="none" stroke="#e6d195" stroke-width="0.8"/>
<circle cx="86.6" cy="331.0" r="2.4" fill="none" stroke="#e6d195" stroke-width="0.8"/>
<circle cx="74.5" cy="301.0" r="2.4" fill="none" stroke="#e6d195" stroke-width="0.8"/>
<circle cx="128.7" cy="320.7" r="2.4" fill="none" stroke="#e6d195" stroke-width="0.8"/>
<circle cx="162.5" cy="333.6" r="2.4" fill="none" stroke="#e6d195" stroke-width="0.8"/>
<circle cx="127.6" cy="320.5" r="2.4" fill="none" stroke="#e6d195" stroke-width="0.8"/>
<circle cx="143.2" cy="315.9" r="2.4" fill="none" stroke="#e6d195" stroke-width="0.8"/>
<circle cx="66.8" cy="291.9" r="2.4" fill="none" stroke="#e6d195" stroke-width="0.8"/>
<circle cx="121.0" cy="335.1" r="2.4" fill="none" stroke="#e6d195" stroke-width="0.8"/>
<circle cx="69.1" cy="312.6" r="2.4" fill="none" stroke="#e6d195" stroke-width="0.8"/>
<circle cx="144.7" cy="332.6" r="2.4" fill="none" stroke="#e6d195" stroke-width="0.8"/>
<circle cx="64.3" cy="300.0" r="2.4" fill="none" stroke="#e6d195" stroke-width="0.8"/>
<circle cx="67.7" cy="294.2" r="2.4" fill="none" stroke="#e6d195" stroke-width="0.8"/>
<circle cx="88.1" cy="297.4" r="2.4" fill="none" stroke="#e6d195" stroke-width="0.8"/>
<circle cx="158.4" cy="329.6" r="2.4" fill="none" stroke="#e6d195" stroke-width="0.8"/>
<circle cx="99.6" cy="330.9" r="2.4" fill="none" stroke="#e6d195" stroke-width="0.8"/>
<circle cx="133.9" cy="339.9" r="2.4" fill="none" stroke="#e6d195" stroke-width="0.8"/>
<circle cx="86.0" cy="311.6" r="2.4" fill="none" stroke="#e6d195" stroke-width="0.8"/>
<circle cx="88.6" cy="294.4" r="2.4" fill="none" stroke="#e6d195" stroke-width="0.8"/>
<circle cx="87.5" cy="333.0" r="2.4" fill="none" stroke="#e6d195" stroke-width="0.8"/>
<circle cx="168.8" cy="339.3" r="2.4" fill="none" stroke="#e6d195" stroke-width="0.8"/>
<circle cx="118.6" cy="330.7" r="2.4" fill="none" stroke="#e6d195" stroke-width="0.8"/>
<circle cx="62.2" cy="306.5" r="2.4" fill="none" stroke="#e6d195" stroke-width="0.8"/>
<circle cx="81.8" cy="329.7" r="2.4" fill="none" stroke="#e6d195" stroke-width="0.8"/>
<circle cx="65.0" cy="310.3" r="2.4" fill="none" stroke="#e6d195" stroke-width="0.8"/>
<circle cx="99.4" cy="338.2" r="2.4" fill="none" stroke="#e6d195" stroke-width="0.8"/>
<circle cx="142.9" cy="333.0" r="2.4" fill="none" stroke="#e6d195" stroke-width="0.8"/>
<circle cx="67.8" cy="336.3" r="2.4" fill="none" stroke="#e6d195" stroke-width="0.8"/>
<circle cx="155.4" cy="332.4" r="2.4" fill="none" stroke="#e6d195" stroke-width="0.8"/>
<circle cx="82.7" cy="320.9" r="2.4" fill="none" stroke="#e6d195" stroke-width="0.8"/>
<circle cx="66.8" cy="332.7" r="2.4" fill="none" stroke="#e6d195" stroke-width="0.8"/>
<circle cx="169.7" cy="333.4" r="2.4" fill="none" stroke="#e6d195" stroke-width="0.8"/>
<circle cx="126.4" cy="340.5" r="2.4" fill="none" stroke="#e6d195" stroke-width="0.8"/>
<circle cx="70.2" cy="347.8" r="2.4" fill="none" stroke="#e6d195" stroke-width="0.8"/>
<circle cx="114.1" cy="311.6" r="2.4" fill="none" stroke="#e6d195" stroke-width="0.8"/>
<circle cx="64.1" cy="301.1" r="2.4" fill="none" stroke="#e6d195" stroke-width="0.8"/>
<circle cx="107.6" cy="333.9" r="2.4" fill="none" stroke="#e6d195" stroke-width="0.8"/>
<circle cx="80.6" cy="346.3" r="2.4" fill="none" stroke="#e6d195" stroke-width="0.8"/>
<circle cx="83.6" cy="318.9" r="2.4" fill="none" stroke="#e6d195" stroke-width="0.8"/>
<circle cx="65.9" cy="350.0" r="2.4" fill="none" stroke="#e6d195" stroke-width="0.8"/>
<circle cx="66.5" cy="345.3" r="2.4" fill="none" stroke="#e6d195" stroke-width="0.8"/>
<circle cx="103.5" cy="326.8" r="2.4" fill="none" stroke="#e6d195" stroke-width="0.8"/>
<circle cx="105.5" cy="312.5" r="2.4" fill="none" stroke="#e6d195" stroke-width="0.8"/>
<circle cx="156.5" cy="344.6" r="2.4" fill="none" stroke="#e6d195" stroke-width="0.8"/>
<circle cx="141.7" cy="332.6" r="2.4" fill="none" stroke="#e6d195" stroke-width="0.8"/>
<circle cx="65.8" cy="340.1" r="2.4" fill="none" stroke="#e6d195" stroke-width="0.8"/>
<circle cx="77.1" cy="344.5" r="2.4" fill="none" stroke="#e6d195" stroke-width="0.8"/>
<circle cx="73.3" cy="324.2" r="2.4" fill="none" stroke="#e6d195" stroke-width="0.8"/>
<circle cx="143.8" cy="319.2" r="2.4" fill="none" stroke="#e6d195" stroke-width="0.8"/>
<circle cx="104.0" cy="302.8" r="2.4" fill="none" stroke="#e6d195" stroke-width="0.8"/>
<circle cx="62.4" cy="296.4" r="2.4" fill="none" stroke="#e6d195" stroke-width="0.8"/>
<circle cx="169.7" cy="342.5" r="2.4" fill="none" stroke="#e6d195" stroke-width="0.8"/>
<circle cx="118.4" cy="317.5" r="2.4" fill="none" stroke="#e6d195" stroke-width="0.8"/>
<circle cx="120.1" cy="336.3" r="2.4" fill="none" stroke="#e6d195" stroke-width="0.8"/>
<circle cx="85.6" cy="326.6" r="2.4" fill="none" stroke="#e6d195" stroke-width="0.8"/>
<circle cx="139.6" cy="312.2" r="2.4" fill="none" stroke="#e6d195" stroke-width="0.8"/>
<circle cx="70.3" cy="317.1" r="2.4" fill="none" stroke="#e6d195" stroke-width="0.8"/>
<circle cx="66.9" cy="311.2" r="2.4" fill="none" stroke="#e6d195" stroke-width="0.8"/>
<circle cx="106.7" cy="308.4" r="2.4" fill="none" stroke="#e6d195" stroke-width="0.8"/>
<circle cx="100.6" cy="311.3" r="2.4" fill="none" stroke="#e6d195" stroke-width="0.8"/>
<circle cx="106.5" cy="316.0" r="2.4" fill="none" stroke="#e6d195" stroke-width="0.8"/>
<circle cx="116.1" cy="304.9" r="2.4" fill="none" stroke="#e6d195" stroke-width="0.8"/>
<circle cx="120.1" cy="310.9" r="2.4" fill="none" stroke="#e6d195" stroke-width="0.8"/>
<circle cx="164.9" cy="334.8" r="2.4" fill="none" stroke="#e6d195" stroke-width="0.8"/>
<circle cx="94.9" cy="317.8" r="2.4" fill="none" stroke="#e6d195" stroke-width="0.8"/>
<circle cx="113.7" cy="333.9" r="2.4" fill="none" stroke="#e6d195" stroke-width="0.8"/>
<circle cx="132.6" cy="337.3" r="2.4" fill="none" stroke="#e6d195" stroke-width="0.8"/>
<circle cx="96.7" cy="349.1" r="2.4" fill="none" stroke="#e6d195" stroke-width="0.8"/>
<circle cx="144.9" cy="341.0" r="2.4" fill="none" stroke="#e6d195" stroke-width="0.8"/>
<circle cx="88.3" cy="317.9" r="2.4" fill="none" stroke="#e6d195" stroke-width="0.8"/>
<circle cx="106.2" cy="344.0" r="2.4" fill="none" stroke="#e6d195" stroke-width="0.8"/>
<circle cx="101.3" cy="324.8" r="2.4" fill="none" stroke="#e6d195" stroke-width="0.8"/>
<circle cx="90.7" cy="344.5" r="2.4" fill="none" stroke="#e6d195" stroke-width="0.8"/>
<circle cx="79.8" cy="293.6" r="2.4" fill="none" stroke="#e6d195" stroke-width="0.8"/>
<circle cx="127.8" cy="343.0" r="2.4" fill="none" stroke="#e6d195" stroke-width="0.8"/>
<circle cx="128.8" cy="331.2" r="2.4" fill="none" stroke="#e6d195" stroke-width="0.8"/>
<circle cx="131.7" cy="320.4" r="2.4" fill="none" stroke="#e6d195" stroke-width="0.8"/>
<circle cx="109.7" cy="304.3" r="2.4" fill="none" stroke="#e6d195" stroke-width="0.8"/>
<circle cx="65.9" cy="315.0" r="2.4" fill="none" stroke="#e6d195" stroke-width="0.8"/>
<circle cx="98.6" cy="317.7" r="2.4" fill="none" stroke="#e6d195" stroke-width="0.8"/>
<circle cx="63.0" cy="331.3" r="2.4" fill="none" stroke="#e6d195" stroke-width="0.8"/>
<circle cx="101.4" cy="310.2" r="2.4" fill="none" stroke="#e6d195" stroke-width="0.8"/>
<circle cx="78.6" cy="314.0" r="2.4" fill="none" stroke="#e6d195" stroke-width="0.8"/>
<circle cx="72.9" cy="292.2" r="2.4" fill="none" stroke="#e6d195" stroke-width="0.8"/>
<circle cx="156.8" cy="343.9" r="2.4" fill="none" stroke="#e6d195" stroke-width="0.8"/>
<circle cx="119.4" cy="341.9" r="2.4" fill="none" stroke="#e6d195" stroke-width="0.8"/>
<circle cx="91.9" cy="361.9" r="2.4" fill="none" stroke="#e6d195" stroke-width="0.8"/>
<circle cx="83.9" cy="360.7" r="2.4" fill="none" stroke="#e6d195" stroke-width="0.8"/>
<circle cx="97.7" cy="364.0" r="2.4" fill="none" stroke="#e6d195" stroke-width="0.8"/>
<circle cx="78.9" cy="361.6" r="2.4" fill="none" stroke="#e6d195" stroke-width="0.8"/>
<circle cx="80.0" cy="356.3" r="2.4" fill="none" stroke="#e6d195" stroke-width="0.8"/>
<circle cx="113.0" cy="345.0" r="2.4" fill="none" stroke="#e6d195" stroke-width="0.8"/>
<circle cx="84.8" cy="351.3" r="2.4" fill="none" stroke="#e6d195" stroke-width="0.8"/>
<circle cx="88.0" cy="346.3" r="2.4" fill="none" stroke="#e6d195" stroke-width="0.8"/>
<circle cx="110.8" cy="362.1" r="2.4" fill="none" stroke="#e6d195" stroke-width="0.8"/>
<circle cx="90.9" cy="352.5" r="2.4" fill="none" stroke="#e6d195" stroke-width="0.8"/>
<circle cx="98.4" cy="346.0" r="2.4" fill="none" stroke="#e6d195" stroke-width="0.8"/>
<circle cx="76.2" cy="363.9" r="2.4" fill="none" stroke="#e6d195" stroke-width="0.8"/>
<circle cx="87.3" cy="355.5" r="2.4" fill="none" stroke="#e6d195" stroke-width="0.8"/>
<circle cx="112.4" cy="365.5" r="2.4" fill="none" stroke="#e6d195" stroke-width="0.8"/>
<circle cx="93.9" cy="349.3" r="2.4" fill="none" stroke="#e6d195" stroke-width="0.8"/>
<circle cx="86.8" cy="364.4" r="2.4" fill="none" stroke="#e6d195" stroke-width="0.8"/>
<circle cx="110.9" cy="349.1" r="2.4" fill="none" stroke="#e6d195" stroke-width="0.8"/>
<circle cx="108.5" cy="352.4" r="2.4" fill="none" stroke="#e6d195" stroke-width="0.8"/>
<circle cx="93.9" cy="348.6" r="2.4" fill="none" stroke="#e6d195" stroke-width="0.8"/>
<circle cx="110.2" cy="365.9" r="2.4" fill="none" stroke="#e6d195" stroke-width="0.8"/>
<circle cx="83.1" cy="358.3" r="2.4" fill="none" stroke="#e6d195" stroke-width="0.8"/>
<circle cx="82.7" cy="363.5" r="2.4" fill="none" stroke="#e6d195" stroke-width="0.8"/>
<circle cx="77.0" cy="347.2" r="2.4" fill="none" stroke="#e6d195" stroke-width="0.8"/>
<circle cx="104.0" cy="351.6" r="2.4" fill="none" stroke="#e6d195" stroke-width="0.8"/>
<circle cx="111.0" cy="363.3" r="2.4" fill="none" stroke="#e6d195" stroke-width="0.8"/>
<circle cx="103.5" cy="347.8" r="2.4" fill="none" stroke="#e6d195" stroke-width="0.8"/>
<circle cx="102.8" cy="364.7" r="2.4" fill="none" stroke="#e6d195" stroke-width="0.8"/>
<circle cx="92.8" cy="346.7" r="2.4" fill="none" stroke="#e6d195" stroke-width="0.8"/>
<circle cx="83.9" cy="351.5" r="2.4" fill="none" stroke="#e6d195" stroke-width="0.8"/>
<circle cx="103.4" cy="349.1" r="2.4" fill="none" stroke="#e6d195" stroke-width="0.8"/>
<circle cx="82.2" cy="349.9" r="2.4" fill="none" stroke="#e6d195" stroke-width="0.8"/>
<circle cx="101.6" cy="361.6" r="2.4" fill="none" stroke="#e6d195" stroke-width="0.8"/>
<circle cx="89.9" cy="358.9" r="2.4" fill="none" stroke="#e6d195" stroke-width="0.8"/>
<circle cx="110.4" cy="357.4" r="2.4" fill="none" stroke="#e6d195" stroke-width="0.8"/>
<circle cx="84.2" cy="351.3" r="2.4" fill="none" stroke="#e6d195" stroke-width="0.8"/>
<circle cx="238.0" cy="350.7" r="2.4" fill="none" stroke="#e6d195" stroke-width="0.8"/>
<circle cx="176.3" cy="349.8" r="2.4" fill="none" stroke="#e6d195" stroke-width="0.8"/>
<circle cx="158.5" cy="361.4" r="2.4" fill="none" stroke="#e6d195" stroke-width="0.8"/>
<circle cx="191.8" cy="346.0" r="2.4" fill="none" stroke="#e6d195" stroke-width="0.8"/>
<circle cx="200.4" cy="329.5" r="2.4" fill="none" stroke="#e6d195" stroke-width="0.8"/>
<circle cx="207.0" cy="337.7" r="2.4" fill="none" stroke="#e6d195" stroke-width="0.8"/>
<circle cx="173.8" cy="355.3" r="2.4" fill="none" stroke="#e6d195" stroke-width="0.8"/>
<circle cx="158.3" cy="337.7" r="2.4" fill="none" stroke="#e6d195" stroke-width="0.8"/>
<circle cx="221.8" cy="336.4" r="2.4" fill="none" stroke="#e6d195" stroke-width="0.8"/>
<circle cx="176.5" cy="346.6" r="2.4" fill="none" stroke="#e6d195" stroke-width="0.8"/>
<circle cx="167.7" cy="358.5" r="2.4" fill="none" stroke="#e6d195" stroke-width="0.8"/>
<circle cx="243.8" cy="329.1" r="2.4" fill="none" stroke="#e6d195" stroke-width="0.8"/>
<circle cx="193.9" cy="353.5" r="2.4" fill="none" stroke="#e6d195" stroke-width="0.8"/>
<circle cx="186.5" cy="359.6" r="2.4" fill="none" stroke="#e6d195" stroke-width="0.8"/>
<circle cx="197.5" cy="334.1" r="2.4" fill="none" stroke="#e6d195" stroke-width="0.8"/>
<circle cx="202.8" cy="349.9" r="2.4" fill="none" stroke="#e6d195" stroke-width="0.8"/>
<circle cx="184.2" cy="350.4" r="2.4" fill="none" stroke="#e6d195" stroke-width="0.8"/>
<circle cx="224.4" cy="345.6" r="2.4" fill="none" stroke="#e6d195" stroke-width="0.8"/>
<circle cx="198.0" cy="356.7" r="2.4" fill="none" stroke="#e6d195" stroke-width="0.8"/>
<circle cx="215.0" cy="345.7" r="2.4" fill="none" stroke="#e6d195" stroke-width="0.8"/>
<circle cx="240.4" cy="333.9" r="2.4" fill="none" stroke="#e6d195" stroke-width="0.8"/>
<circle cx="224.1" cy="333.6" r="2.4" fill="none" stroke="#e6d195" stroke-width="0.8"/>
<circle cx="207.8" cy="336.0" r="2.4" fill="none" stroke="#e6d195" stroke-width="0.8"/>
<circle cx="191.8" cy="354.3" r="2.4" fill="none" stroke="#e6d195" stroke-width="0.8"/>
<circle cx="224.7" cy="354.9" r="2.4" fill="none" stroke="#e6d195" stroke-width="0.8"/>
<circle cx="172.4" cy="344.6" r="2.4" fill="none" stroke="#e6d195" stroke-width="0.8"/>
<circle cx="171.0" cy="347.7" r="2.4" fill="none" stroke="#e6d195" stroke-width="0.8"/>
<circle cx="197.4" cy="329.2" r="2.4" fill="none" stroke="#e6d195" stroke-width="0.8"/>
<circle cx="206.7" cy="352.3" r="2.4" fill="none" stroke="#e6d195" stroke-width="0.8"/>
<circle cx="204.4" cy="357.7" r="2.4" fill="none" stroke="#e6d195" stroke-width="0.8"/>
<circle cx="167.1" cy="333.2" r="2.4" fill="none" stroke="#e6d195" stroke-width="0.8"/>
<circle cx="151.7" cy="344.9" r="2.4" fill="none" stroke="#e6d195" stroke-width="0.8"/>
<circle cx="191.3" cy="343.0" r="2.4" fill="none" stroke="#e6d195" stroke-width="0.8"/>
<circle cx="175.0" cy="355.1" r="2.4" fill="none" stroke="#e6d195" stroke-width="0.8"/>
<circle cx="156.9" cy="358.8" r="2.4" fill="none" stroke="#e6d195" stroke-width="0.8"/>
<circle cx="270.0" cy="352.8" r="2.4" fill="none" stroke="#e6d195" stroke-width="0.8"/>
<circle cx="270.0" cy="361.1" r="2.4" fill="none" stroke="#e6d195" stroke-width="0.8"/>
<circle cx="152.2" cy="347.3" r="2.4" fill="none" stroke="#e6d195" stroke-width="0.8"/>
<circle cx="130.0" cy="350.0" r="2.4" fill="none" stroke="#e6d195" stroke-width="0.8"/>
<circle cx="125.0" cy="356.0" r="2.4" fill="none" stroke="#e6d195" stroke-width="0.8"/>
<circle cx="140.0" cy="345.0" r="2.4" fill="none" stroke="#e6d195" stroke-width="0.8"/>
<circle cx="118.0" cy="360.0" r="2.4" fill="none" stroke="#e6d195" stroke-width="0.8"/>
<circle cx="110.0" cy="366.0" r="2.4" fill="none" stroke="#e6d195" stroke-width="0.8"/>
<circle cx="135.0" cy="362.0" r="2.4" fill="none" stroke="#e6d195" stroke-width="0.8"/>
<circle cx="69.6" cy="360.5" r="2.4" fill="none" stroke="#8fa3dd" stroke-width="0.8"/>
<circle cx="66.7" cy="352.5" r="2.4" fill="none" stroke="#8fa3dd" stroke-width="0.8"/>
<circle cx="64.7" cy="375.7" r="2.4" fill="none" stroke="#8fa3dd" stroke-width="0.8"/>
<circle cx="64.2" cy="379.5" r="2.4" fill="none" stroke="#8fa3dd" stroke-width="0.8"/>
<circle cx="69.8" cy="358.6" r="2.4" fill="none" stroke="#8fa3dd" stroke-width="0.8"/>
<circle cx="67.3" cy="371.5" r="2.4" fill="none" stroke="#8fa3dd" stroke-width="0.8"/>
<circle cx="66.6" cy="377.8" r="2.4" fill="none" stroke="#8fa3dd" stroke-width="0.8"/>
<circle cx="64.5" cy="374.8" r="2.4" fill="none" stroke="#8fa3dd" stroke-width="0.8"/>
<circle cx="66.8" cy="375.2" r="2.4" fill="none" stroke="#8fa3dd" stroke-width="0.8"/>
<circle cx="75.8" cy="351.1" r="2.4" fill="none" stroke="#8fa3dd" stroke-width="0.8"/>
<circle cx="64.6" cy="378.8" r="2.4" fill="none" stroke="#8fa3dd" stroke-width="0.8"/>
<circle cx="64.9" cy="367.9" r="2.4" fill="none" stroke="#8fa3dd" stroke-width="0.8"/>
<circle cx="63.8" cy="346.1" r="2.4" fill="none" stroke="#8fa3dd" stroke-width="0.8"/>
<circle cx="71.2" cy="363.4" r="2.4" fill="none" stroke="#8fa3dd" stroke-width="0.8"/>
<circle cx="65.7" cy="345.5" r="2.4" fill="none" stroke="#8fa3dd" stroke-width="0.8"/>
<circle cx="70.7" cy="364.6" r="2.4" fill="none" stroke="#8fa3dd" stroke-width="0.8"/>
<circle cx="63.9" cy="379.6" r="2.4" fill="none" stroke="#8fa3dd" stroke-width="0.8"/>
<circle cx="65.4" cy="349.0" r="2.4" fill="none" stroke="#8fa3dd" stroke-width="0.8"/>
<circle cx="65.8" cy="366.9" r="2.4" fill="none" stroke="#8fa3dd" stroke-width="0.8"/>
<circle cx="63.7" cy="365.7" r="2.4" fill="none" stroke="#8fa3dd" stroke-width="0.8"/>
<circle cx="66.5" cy="379.8" r="2.4" fill="none" stroke="#8fa3dd" stroke-width="0.8"/>
<circle cx="74.2" cy="353.5" r="2.4" fill="none" stroke="#8fa3dd" stroke-width="0.8"/>
<circle cx="64.7" cy="372.7" r="2.4" fill="none" stroke="#8fa3dd" stroke-width="0.8"/>
<circle cx="65.9" cy="361.1" r="2.4" fill="none" stroke="#8fa3dd" stroke-width="0.8"/>
<circle cx="72.7" cy="364.4" r="2.4" fill="none" stroke="#8fa3dd" stroke-width="0.8"/>
<circle cx="66.0" cy="367.9" r="2.4" fill="none" stroke="#8fa3dd" stroke-width="0.8"/>
<circle cx="74.4" cy="345.7" r="2.4" fill="none" stroke="#8fa3dd" stroke-width="0.8"/>
<circle cx="64.5" cy="379.6" r="2.4" fill="none" stroke="#8fa3dd" stroke-width="0.8"/>
<circle cx="63.8" cy="357.6" r="2.4" fill="none" stroke="#8fa3dd" stroke-width="0.8"/>
<circle cx="68.9" cy="368.6" r="2.4" fill="none" stroke="#8fa3dd" stroke-width="0.8"/>
<circle cx="72.9" cy="349.9" r="2.4" fill="none" stroke="#8fa3dd" stroke-width="0.8"/>
<circle cx="70.9" cy="349.1" r="2.4" fill="none" stroke="#8fa3dd" stroke-width="0.8"/>
<circle cx="70.8" cy="366.9" r="2.4" fill="none" stroke="#8fa3dd" stroke-width="0.8"/>
<circle cx="70.1" cy="367.3" r="2.4" fill="none" stroke="#8fa3dd" stroke-width="0.8"/>
<circle cx="65.2" cy="373.2" r="2.4" fill="none" stroke="#8fa3dd" stroke-width="0.8"/>
<circle cx="66.3" cy="374.4" r="2.4" fill="none" stroke="#8fa3dd" stroke-width="0.8"/>
<circle cx="64.1" cy="375.1" r="2.4" fill="none" stroke="#8fa3dd" stroke-width="0.8"/>
<circle cx="66.0" cy="373.3" r="2.4" fill="none" stroke="#8fa3dd" stroke-width="0.8"/>
<circle cx="66.5" cy="369.9" r="2.4" fill="none" stroke="#8fa3dd" stroke-width="0.8"/>
<circle cx="75.8" cy="345.2" r="2.4" fill="none" stroke="#8fa3dd" stroke-width="0.8"/>
<circle cx="66.4" cy="349.9" r="2.4" fill="none" stroke="#8fa3dd" stroke-width="0.8"/>
<circle cx="63.7" cy="367.2" r="2.4" fill="none" stroke="#8fa3dd" stroke-width="0.8"/>
<circle cx="68.1" cy="356.1" r="2.4" fill="none" stroke="#8fa3dd" stroke-width="0.8"/>
<circle cx="63.1" cy="371.1" r="2.4" fill="none" stroke="#8fa3dd" stroke-width="0.8"/>
<circle cx="64.6" cy="374.4" r="2.4" fill="none" stroke="#8fa3dd" stroke-width="0.8"/>
<circle cx="71.6" cy="366.9" r="2.4" fill="none" stroke="#8fa3dd" stroke-width="0.8"/>
<circle cx="66.9" cy="355.3" r="2.4" fill="none" stroke="#8fa3dd" stroke-width="0.8"/>
<circle cx="64.3" cy="368.0" r="2.4" fill="none" stroke="#8fa3dd" stroke-width="0.8"/>
<circle cx="69.5" cy="347.3" r="2.4" fill="none" stroke="#8fa3dd" stroke-width="0.8"/>
<circle cx="74.0" cy="353.4" r="2.4" fill="none" stroke="#8fa3dd" stroke-width="0.8"/>
<circle cx="63.4" cy="348.3" r="2.4" fill="none" stroke="#8fa3dd" stroke-width="0.8"/>
<circle cx="66.1" cy="369.4" r="2.4" fill="none" stroke="#8fa3dd" stroke-width="0.8"/>
<circle cx="66.8" cy="378.0" r="2.4" fill="none" stroke="#8fa3dd" stroke-width="0.8"/>
<circle cx="69.3" cy="369.3" r="2.4" fill="none" stroke="#8fa3dd" stroke-width="0.8"/>
<circle cx="63.6" cy="362.3" r="2.4" fill="none" stroke="#8fa3dd" stroke-width="0.8"/>
<circle cx="65.2" cy="366.8" r="2.4" fill="none" stroke="#8fa3dd" stroke-width="0.8"/>
<circle cx="63.6" cy="379.5" r="2.4" fill="none" stroke="#8fa3dd" stroke-width="0.8"/>
<circle cx="63.4" cy="359.6" r="2.4" fill="none" stroke="#8fa3dd" stroke-width="0.8"/>
<circle cx="66.4" cy="369.8" r="2.4" fill="none" stroke="#8fa3dd" stroke-width="0.8"/>
<circle cx="64.6" cy="361.4" r="2.4" fill="none" stroke="#8fa3dd" stroke-width="0.8"/>
<circle cx="66.7" cy="355.6" r="2.4" fill="none" stroke="#8fa3dd" stroke-width="0.8"/>
<circle cx="72.7" cy="354.9" r="2.4" fill="none" stroke="#8fa3dd" stroke-width="0.8"/>
<circle cx="64.1" cy="375.7" r="2.4" fill="none" stroke="#8fa3dd" stroke-width="0.8"/>
<circle cx="68.3" cy="370.9" r="2.4" fill="none" stroke="#8fa3dd" stroke-width="0.8"/>
<circle cx="66.7" cy="366.4" r="2.4" fill="none" stroke="#8fa3dd" stroke-width="0.8"/>
<circle cx="66.8" cy="349.8" r="2.4" fill="none" stroke="#8fa3dd" stroke-width="0.8"/>
<circle cx="65.6" cy="370.5" r="2.4" fill="none" stroke="#8fa3dd" stroke-width="0.8"/>
<circle cx="63.3" cy="373.2" r="2.4" fill="none" stroke="#8fa3dd" stroke-width="0.8"/>
<circle cx="65.1" cy="380.1" r="2.4" fill="none" stroke="#8fa3dd" stroke-width="0.8"/>
<circle cx="72.7" cy="360.6" r="2.4" fill="none" stroke="#8fa3dd" stroke-width="0.8"/>
<circle cx="68.5" cy="345.9" r="2.4" fill="none" stroke="#8fa3dd" stroke-width="0.8"/>
<circle cx="75.6" cy="356.9" r="2.4" fill="none" stroke="#8fa3dd" stroke-width="0.8"/>
<circle cx="67.5" cy="373.2" r="2.4" fill="none" stroke="#8fa3dd" stroke-width="0.8"/>
<circle cx="76.1" cy="357.0" r="2.4" fill="none" stroke="#8fa3dd" stroke-width="0.8"/>
<circle cx="67.0" cy="349.7" r="2.4" fill="none" stroke="#8fa3dd" stroke-width="0.8"/>
<circle cx="64.2" cy="358.2" r="2.4" fill="none" stroke="#8fa3dd" stroke-width="0.8"/>
<circle cx="66.9" cy="365.6" r="2.4" fill="none" stroke="#8fa3dd" stroke-width="0.8"/>
<circle cx="64.5" cy="378.8" r="2.4" fill="none" stroke="#8fa3dd" stroke-width="0.8"/>
<circle cx="67.1" cy="369.2" r="2.4" fill="none" stroke="#8fa3dd" stroke-width="0.8"/>
<circle cx="64.2" cy="370.9" r="2.4" fill="none" stroke="#8fa3dd" stroke-width="0.8"/>
<circle cx="67.5" cy="366.5" r="2.4" fill="none" stroke="#8fa3dd" stroke-width="0.8"/>
<circle cx="66.8" cy="375.0" r="2.4" fill="none" stroke="#8fa3dd" stroke-width="0.8"/>
<circle cx="63.6" cy="372.4" r="2.4" fill="none" stroke="#8fa3dd" stroke-width="0.8"/>
<circle cx="66.6" cy="368.7" r="2.4" fill="none" stroke="#8fa3dd" stroke-width="0.8"/>
<circle cx="66.2" cy="375.6" r="2.4" fill="none" stroke="#8fa3dd" stroke-width="0.8"/>
<circle cx="70.9" cy="355.8" r="2.4" fill="none" stroke="#8fa3dd" stroke-width="0.8"/>
<circle cx="63.3" cy="355.8" r="2.4" fill="none" stroke="#8fa3dd" stroke-width="0.8"/>
<circle cx="66.4" cy="366.9" r="2.4" fill="none" stroke="#8fa3dd" stroke-width="0.8"/>
<circle cx="64.6" cy="378.7" r="2.4" fill="none" stroke="#8fa3dd" stroke-width="0.8"/>
<circle cx="64.9" cy="379.0" r="2.4" fill="none" stroke="#8fa3dd" stroke-width="0.8"/>
<circle cx="68.8" cy="359.9" r="2.4" fill="none" stroke="#8fa3dd" stroke-width="0.8"/>
<circle cx="65.1" cy="369.3" r="2.4" fill="none" stroke="#8fa3dd" stroke-width="0.8"/>
<circle cx="64.2" cy="380.2" r="2.4" fill="none" stroke="#8fa3dd" stroke-width="0.8"/>
<circle cx="72.8" cy="348.9" r="2.4" fill="none" stroke="#8fa3dd" stroke-width="0.8"/>
<circle cx="67.8" cy="371.6" r="2.4" fill="none" stroke="#8fa3dd" stroke-width="0.8"/>
<circle cx="65.8" cy="374.3" r="2.4" fill="none" stroke="#8fa3dd" stroke-width="0.8"/>
<circle cx="75.3" cy="358.9" r="2.4" fill="none" stroke="#8fa3dd" stroke-width="0.8"/>
<circle cx="68.1" cy="367.9" r="2.4" fill="none" stroke="#8fa3dd" stroke-width="0.8"/>
<circle cx="76.9" cy="347.1" r="2.4" fill="none" stroke="#8fa3dd" stroke-width="0.8"/>
<circle cx="71.1" cy="358.4" r="2.4" fill="none" stroke="#8fa3dd" stroke-width="0.8"/>
<circle cx="67.0" cy="366.2" r="2.4" fill="none" stroke="#8fa3dd" stroke-width="0.8"/>
<circle cx="69.2" cy="371.1" r="2.4" fill="none" stroke="#8fa3dd" stroke-width="0.8"/>
<circle cx="69.5" cy="349.3" r="2.4" fill="none" stroke="#8fa3dd" stroke-width="0.8"/>
<circle cx="63.7" cy="348.3" r="2.4" fill="none" stroke="#8fa3dd" stroke-width="0.8"/>
<circle cx="65.6" cy="376.1" r="2.4" fill="none" stroke="#8fa3dd" stroke-width="0.8"/>
<circle cx="65.9" cy="369.9" r="2.4" fill="none" stroke="#8fa3dd" stroke-width="0.8"/>
<circle cx="65.8" cy="345.8" r="2.4" fill="none" stroke="#8fa3dd" stroke-width="0.8"/>
<circle cx="64.4" cy="374.1" r="2.4" fill="none" stroke="#8fa3dd" stroke-width="0.8"/>
<circle cx="66.3" cy="356.5" r="2.4" fill="none" stroke="#8fa3dd" stroke-width="0.8"/>
<circle cx="64.6" cy="381.0" r="2.4" fill="none" stroke="#8fa3dd" stroke-width="0.8"/>
<circle cx="65.2" cy="366.8" r="2.4" fill="none" stroke="#8fa3dd" stroke-width="0.8"/>
<circle cx="70.1" cy="363.2" r="2.4" fill="none" stroke="#8fa3dd" stroke-width="0.8"/>
<circle cx="70.3" cy="361.3" r="2.4" fill="none" stroke="#8fa3dd" stroke-width="0.8"/>
<circle cx="73.0" cy="360.8" r="2.4" fill="none" stroke="#8fa3dd" stroke-width="0.8"/>
<circle cx="69.2" cy="346.1" r="2.4" fill="none" stroke="#8fa3dd" stroke-width="0.8"/>
<circle cx="70.6" cy="368.5" r="2.4" fill="none" stroke="#8fa3dd" stroke-width="0.8"/>
<circle cx="68.7" cy="369.7" r="2.4" fill="none" stroke="#8fa3dd" stroke-width="0.8"/>
<circle cx="72.7" cy="356.0" r="2.4" fill="none" stroke="#8fa3dd" stroke-width="0.8"/>
<circle cx="78.2" cy="346.3" r="2.4" fill="none" stroke="#8fa3dd" stroke-width="0.8"/>
<circle cx="66.5" cy="375.3" r="2.4" fill="none" stroke="#8fa3dd" stroke-width="0.8"/>
<circle cx="69.1" cy="363.3" r="2.4" fill="none" stroke="#8fa3dd" stroke-width="0.8"/>
<circle cx="65.5" cy="367.7" r="2.4" fill="none" stroke="#8fa3dd" stroke-width="0.8"/>
<circle cx="71.0" cy="354.0" r="2.4" fill="none" stroke="#8fa3dd" stroke-width="0.8"/>
<circle cx="64.7" cy="372.5" r="2.4" fill="none" stroke="#8fa3dd" stroke-width="0.8"/>
<circle cx="64.5" cy="369.3" r="2.4" fill="none" stroke="#8fa3dd" stroke-width="0.8"/>
<circle cx="64.4" cy="362.5" r="2.4" fill="none" stroke="#8fa3dd" stroke-width="0.8"/>
<circle cx="63.3" cy="378.7" r="2.4" fill="none" stroke="#8fa3dd" stroke-width="0.8"/>
<circle cx="66.3" cy="377.3" r="2.4" fill="none" stroke="#8fa3dd" stroke-width="0.8"/>
<circle cx="65.2" cy="376.9" r="2.4" fill="none" stroke="#8fa3dd" stroke-width="0.8"/>
<circle cx="70.4" cy="353.2" r="2.4" fill="none" stroke="#8fa3dd" stroke-width="0.8"/>
<circle cx="67.9" cy="375.1" r="2.4" fill="none" stroke="#8fa3dd" stroke-width="0.8"/>
<circle cx="63.9" cy="349.7" r="2.4" fill="none" stroke="#8fa3dd" stroke-width="0.8"/>
<circle cx="66.6" cy="371.9" r="2.4" fill="none" stroke="#8fa3dd" stroke-width="0.8"/>
<circle cx="69.2" cy="352.3" r="2.4" fill="none" stroke="#8fa3dd" stroke-width="0.8"/>
<circle cx="66.6" cy="355.2" r="2.4" fill="none" stroke="#8fa3dd" stroke-width="0.8"/>
<circle cx="67.7" cy="355.2" r="2.4" fill="none" stroke="#8fa3dd" stroke-width="0.8"/>
<circle cx="69.3" cy="369.0" r="2.4" fill="none" stroke="#8fa3dd" stroke-width="0.8"/>
<circle cx="76.7" cy="350.7" r="2.4" fill="none" stroke="#8fa3dd" stroke-width="0.8"/>
<circle cx="68.1" cy="360.6" r="2.4" fill="none" stroke="#8fa3dd" stroke-width="0.8"/>
<circle cx="71.9" cy="355.6" r="2.4" fill="none" stroke="#8fa3dd" stroke-width="0.8"/>
<circle cx="76.1" cy="351.1" r="2.4" fill="none" stroke="#8fa3dd" stroke-width="0.8"/>
<circle cx="64.9" cy="376.5" r="2.4" fill="none" stroke="#8fa3dd" stroke-width="0.8"/>
<circle cx="66.2" cy="356.9" r="2.4" fill="none" stroke="#8fa3dd" stroke-width="0.8"/>
<circle cx="63.1" cy="374.4" r="2.4" fill="none" stroke="#8fa3dd" stroke-width="0.8"/>
<circle cx="74.6" cy="359.9" r="2.4" fill="none" stroke="#8fa3dd" stroke-width="0.8"/>
<circle cx="65.5" cy="346.1" r="2.4" fill="none" stroke="#8fa3dd" stroke-width="0.8"/>
<circle cx="68.9" cy="356.2" r="2.4" fill="none" stroke="#8fa3dd" stroke-width="0.8"/>
<circle cx="68.2" cy="358.3" r="2.4" fill="none" stroke="#8fa3dd" stroke-width="0.8"/>
<circle cx="80.7" cy="347.4" r="2.4" fill="none" stroke="#8fa3dd" stroke-width="0.8"/>
<circle cx="65.7" cy="379.2" r="2.4" fill="none" stroke="#8fa3dd" stroke-width="0.8"/>
<circle cx="63.2" cy="376.7" r="2.4" fill="none" stroke="#8fa3dd" stroke-width="0.8"/>
<circle cx="68.5" cy="370.7" r="2.4" fill="none" stroke="#8fa3dd" stroke-width="0.8"/>
<circle cx="65.3" cy="345.2" r="2.4" fill="none" stroke="#8fa3dd" stroke-width="0.8"/>
<circle cx="63.2" cy="369.1" r="2.4" fill="none" stroke="#8fa3dd" stroke-width="0.8"/>
<circle cx="68.6" cy="361.5" r="2.4" fill="none" stroke="#8fa3dd" stroke-width="0.8"/>
<circle cx="65.8" cy="367.6" r="2.4" fill="none" stroke="#8fa3dd" stroke-width="0.8"/>
<circle cx="76.3" cy="352.2" r="2.4" fill="none" stroke="#8fa3dd" stroke-width="0.8"/>
<circle cx="66.0" cy="370.8" r="2.4" fill="none" stroke="#8fa3dd" stroke-width="0.8"/>
<circle cx="72.9" cy="358.8" r="2.4" fill="none" stroke="#8fa3dd" stroke-width="0.8"/>
<circle cx="70.3" cy="345.7" r="2.4" fill="none" stroke="#8fa3dd" stroke-width="0.8"/>
<circle cx="70.7" cy="356.0" r="2.4" fill="none" stroke="#8fa3dd" stroke-width="0.8"/>
<circle cx="65.3" cy="352.2" r="2.4" fill="none" stroke="#8fa3dd" stroke-width="0.8"/>
<circle cx="63.6" cy="374.7" r="2.4" fill="none" stroke="#8fa3dd" stroke-width="0.8"/>
<circle cx="67.5" cy="347.4" r="2.4" fill="none" stroke="#8fa3dd" stroke-width="0.8"/>
<circle cx="64.3" cy="363.4" r="2.4" fill="none" stroke="#8fa3dd" stroke-width="0.8"/>
<circle cx="63.2" cy="369.3" r="2.4" fill="none" stroke="#8fa3dd" stroke-width="0.8"/>
<circle cx="64.7" cy="360.6" r="2.4" fill="none" stroke="#8fa3dd" stroke-width="0.8"/>
<circle cx="66.6" cy="358.5" r="2.4" fill="none" stroke="#8fa3dd" stroke-width="0.8"/>
<circle cx="66.2" cy="372.8" r="2.4" fill="none" stroke="#8fa3dd" stroke-width="0.8"/>
<circle cx="65.3" cy="367.8" r="2.4" fill="none" stroke="#8fa3dd" stroke-width="0.8"/>
<circle cx="63.2" cy="379.2" r="2.4" fill="none" stroke="#8fa3dd" stroke-width="0.8"/>
<circle cx="68.3" cy="348.9" r="2.4" fill="none" stroke="#8fa3dd" stroke-width="0.8"/>
<circle cx="63.8" cy="378.2" r="2.4" fill="none" stroke="#8fa3dd" stroke-width="0.8"/>
<circle cx="73.7" cy="363.6" r="2.4" fill="none" stroke="#8fa3dd" stroke-width="0.8"/>
<circle cx="68.4" cy="373.7" r="2.4" fill="none" stroke="#8fa3dd" stroke-width="0.8"/>
<circle cx="67.5" cy="363.6" r="2.4" fill="none" stroke="#8fa3dd" stroke-width="0.8"/>
<circle cx="69.3" cy="351.9" r="2.4" fill="none" stroke="#8fa3dd" stroke-width="0.8"/>
<circle cx="65.2" cy="378.9" r="2.4" fill="none" stroke="#8fa3dd" stroke-width="0.8"/>
<circle cx="71.4" cy="357.4" r="2.4" fill="none" stroke="#8fa3dd" stroke-width="0.8"/>
<circle cx="70.0" cy="371.0" r="2.4" fill="none" stroke="#8fa3dd" stroke-width="0.8"/>
<circle cx="79.7" cy="349.9" r="2.4" fill="none" stroke="#8fa3dd" stroke-width="0.8"/>
<circle cx="71.4" cy="365.0" r="2.4" fill="none" stroke="#8fa3dd" stroke-width="0.8"/>
<circle cx="65.6" cy="354.9" r="2.4" fill="none" stroke="#8fa3dd" stroke-width="0.8"/>
<circle cx="63.6" cy="380.0" r="2.4" fill="none" stroke="#8fa3dd" stroke-width="0.8"/>
<circle cx="63.4" cy="376.7" r="2.4" fill="none" stroke="#8fa3dd" stroke-width="0.8"/>
<circle cx="69.6" cy="368.1" r="2.4" fill="none" stroke="#8fa3dd" stroke-width="0.8"/>
<circle cx="67.1" cy="369.8" r="2.4" fill="none" stroke="#8fa3dd" stroke-width="0.8"/>
<circle cx="63.7" cy="380.6" r="2.4" fill="none" stroke="#8fa3dd" stroke-width="0.8"/>
<circle cx="63.2" cy="346.5" r="2.4" fill="none" stroke="#8fa3dd" stroke-width="0.8"/>
<circle cx="72.3" cy="362.0" r="2.4" fill="none" stroke="#8fa3dd" stroke-width="0.8"/>
<circle cx="74.5" cy="352.5" r="2.4" fill="none" stroke="#8fa3dd" stroke-width="0.8"/>
<circle cx="70.5" cy="366.6" r="2.4" fill="none" stroke="#8fa3dd" stroke-width="0.8"/>
<circle cx="75.5" cy="351.2" r="2.4" fill="none" stroke="#8fa3dd" stroke-width="0.8"/>
<circle cx="64.9" cy="345.5" r="2.4" fill="none" stroke="#8fa3dd" stroke-width="0.8"/>
<circle cx="70.3" cy="346.8" r="2.4" fill="none" stroke="#8fa3dd" stroke-width="0.8"/>
<circle cx="66.6" cy="355.6" r="2.4" fill="none" stroke="#8fa3dd" stroke-width="0.8"/>
<circle cx="63.4" cy="348.3" r="2.4" fill="none" stroke="#8fa3dd" stroke-width="0.8"/>
<circle cx="65.8" cy="360.2" r="2.4" fill="none" stroke="#8fa3dd" stroke-width="0.8"/>
<circle cx="66.4" cy="367.0" r="2.4" fill="none" stroke="#8fa3dd" stroke-width="0.8"/>
<circle cx="74.0" cy="357.3" r="2.4" fill="none" stroke="#8fa3dd" stroke-width="0.8"/>
<circle cx="68.6" cy="367.9" r="2.4" fill="none" stroke="#8fa3dd" stroke-width="0.8"/>
<circle cx="65.4" cy="368.3" r="2.4" fill="none" stroke="#8fa3dd" stroke-width="0.8"/>
<circle cx="68.6" cy="348.4" r="2.4" fill="none" stroke="#8fa3dd" stroke-width="0.8"/>
<circle cx="64.5" cy="377.6" r="2.4" fill="none" stroke="#8fa3dd" stroke-width="0.8"/>
<circle cx="66.1" cy="354.3" r="2.4" fill="none" stroke="#8fa3dd" stroke-width="0.8"/>
<circle cx="71.1" cy="354.2" r="2.4" fill="none" stroke="#8fa3dd" stroke-width="0.8"/>
<circle cx="65.5" cy="356.5" r="2.4" fill="none" stroke="#8fa3dd" stroke-width="0.8"/>
<circle cx="63.7" cy="377.2" r="2.4" fill="none" stroke="#8fa3dd" stroke-width="0.8"/>
<circle cx="66.7" cy="368.4" r="2.4" fill="none" stroke="#8fa3dd" stroke-width="0.8"/>
<circle cx="64.6" cy="380.7" r="2.4" fill="none" stroke="#8fa3dd" stroke-width="0.8"/>
<circle cx="66.0" cy="366.5" r="2.4" fill="none" stroke="#8fa3dd" stroke-width="0.8"/>
<circle cx="74.0" cy="361.7" r="2.4" fill="none" stroke="#8fa3dd" stroke-width="0.8"/>
<circle cx="68.5" cy="373.6" r="2.4" fill="none" stroke="#8fa3dd" stroke-width="0.8"/>
<circle cx="69.1" cy="369.4" r="2.4" fill="none" stroke="#8fa3dd" stroke-width="0.8"/>
<circle cx="67.7" cy="377.1" r="2.4" fill="none" stroke="#8fa3dd" stroke-width="0.8"/>
<circle cx="72.5" cy="365.5" r="2.4" fill="none" stroke="#8fa3dd" stroke-width="0.8"/>
<circle cx="65.7" cy="373.1" r="2.4" fill="none" stroke="#8fa3dd" stroke-width="0.8"/>
<circle cx="65.5" cy="355.6" r="2.4" fill="none" stroke="#8fa3dd" stroke-width="0.8"/>
<circle cx="68.0" cy="371.2" r="2.4" fill="none" stroke="#8fa3dd" stroke-width="0.8"/>
<circle cx="68.9" cy="346.9" r="2.4" fill="none" stroke="#8fa3dd" stroke-width="0.8"/>
<circle cx="65.1" cy="374.4" r="2.4" fill="none" stroke="#8fa3dd" stroke-width="0.8"/>
<circle cx="65.8" cy="345.4" r="2.4" fill="none" stroke="#8fa3dd" stroke-width="0.8"/>
<circle cx="68.0" cy="358.1" r="2.4" fill="none" stroke="#8fa3dd" stroke-width="0.8"/>
<circle cx="65.8" cy="357.8" r="2.4" fill="none" stroke="#8fa3dd" stroke-width="0.8"/>
<circle cx="74.4" cy="358.8" r="2.4" fill="none" stroke="#8fa3dd" stroke-width="0.8"/>
<circle cx="73.5" cy="350.2" r="2.4" fill="none" stroke="#8fa3dd" stroke-width="0.8"/>
<circle cx="69.3" cy="362.8" r="2.4" fill="none" stroke="#8fa3dd" stroke-width="0.8"/>
<circle cx="67.0" cy="376.9" r="2.4" fill="none" stroke="#8fa3dd" stroke-width="0.8"/>
<circle cx="69.4" cy="356.2" r="2.4" fill="none" stroke="#8fa3dd" stroke-width="0.8"/>
<circle cx="68.7" cy="357.0" r="2.4" fill="none" stroke="#8fa3dd" stroke-width="0.8"/>
<circle cx="109.4" cy="326.7" r="2.4" fill="none" stroke="#8fa3dd" stroke-width="0.8"/>
<circle cx="121.8" cy="334.1" r="2.4" fill="none" stroke="#8fa3dd" stroke-width="0.8"/>
<circle cx="118.0" cy="335.8" r="2.4" fill="none" stroke="#8fa3dd" stroke-width="0.8"/>
<circle cx="113.5" cy="326.4" r="2.4" fill="none" stroke="#8fa3dd" stroke-width="0.8"/>
<circle cx="123.2" cy="301.0" r="2.4" fill="none" stroke="#8fa3dd" stroke-width="0.8"/>
<circle cx="94.0" cy="317.4" r="2.4" fill="none" stroke="#8fa3dd" stroke-width="0.8"/>
<circle cx="114.9" cy="339.4" r="2.4" fill="none" stroke="#8fa3dd" stroke-width="0.8"/>
<circle cx="104.7" cy="325.9" r="2.4" fill="none" stroke="#8fa3dd" stroke-width="0.8"/>
<circle cx="132.6" cy="327.0" r="2.4" fill="none" stroke="#8fa3dd" stroke-width="0.8"/>
<circle cx="141.3" cy="313.2" r="2.4" fill="none" stroke="#8fa3dd" stroke-width="0.8"/>
<circle cx="92.4" cy="342.6" r="2.4" fill="none" stroke="#8fa3dd" stroke-width="0.8"/>
<circle cx="99.5" cy="327.8" r="2.4" fill="none" stroke="#8fa3dd" stroke-width="0.8"/>
<circle cx="139.5" cy="300.5" r="2.4" fill="none" stroke="#8fa3dd" stroke-width="0.8"/>
<circle cx="138.7" cy="295.7" r="2.4" fill="none" stroke="#8fa3dd" stroke-width="0.8"/>
<circle cx="136.6" cy="283.7" r="2.4" fill="none" stroke="#8fa3dd" stroke-width="0.8"/>
<circle cx="88.3" cy="330.1" r="2.4" fill="none" stroke="#8fa3dd" stroke-width="0.8"/>
<circle cx="141.4" cy="312.0" r="2.4" fill="none" stroke="#8fa3dd" stroke-width="0.8"/>
<circle cx="137.3" cy="307.9" r="2.4" fill="none" stroke="#8fa3dd" stroke-width="0.8"/>
<circle cx="114.0" cy="303.9" r="2.4" fill="none" stroke="#8fa3dd" stroke-width="0.8"/>
<circle cx="96.9" cy="324.8" r="2.4" fill="none" stroke="#8fa3dd" stroke-width="0.8"/>
<circle cx="102.5" cy="325.0" r="2.4" fill="none" stroke="#8fa3dd" stroke-width="0.8"/>
<circle cx="120.6" cy="318.0" r="2.4" fill="none" stroke="#8fa3dd" stroke-width="0.8"/>
<circle cx="136.0" cy="308.3" r="2.4" fill="none" stroke="#8fa3dd" stroke-width="0.8"/>
<circle cx="136.8" cy="315.9" r="2.4" fill="none" stroke="#8fa3dd" stroke-width="0.8"/>
<circle cx="140.4" cy="315.8" r="2.4" fill="none" stroke="#8fa3dd" stroke-width="0.8"/>
<circle cx="143.8" cy="300.5" r="2.4" fill="none" stroke="#8fa3dd" stroke-width="0.8"/>
<circle cx="136.6" cy="321.0" r="2.4" fill="none" stroke="#8fa3dd" stroke-width="0.8"/>
<circle cx="90.6" cy="339.4" r="2.4" fill="none" stroke="#8fa3dd" stroke-width="0.8"/>
<circle cx="86.4" cy="321.7" r="2.4" fill="none" stroke="#8fa3dd" stroke-width="0.8"/>
<circle cx="139.0" cy="331.1" r="2.4" fill="none" stroke="#8fa3dd" stroke-width="0.8"/>
<circle cx="91.7" cy="335.3" r="2.4" fill="none" stroke="#8fa3dd" stroke-width="0.8"/>
<circle cx="140.0" cy="323.3" r="2.4" fill="none" stroke="#8fa3dd" stroke-width="0.8"/>
<circle cx="124.7" cy="322.8" r="2.4" fill="none" stroke="#8fa3dd" stroke-width="0.8"/>
<circle cx="149.2" cy="308.8" r="2.4" fill="none" stroke="#8fa3dd" stroke-width="0.8"/>
<circle cx="97.6" cy="315.0" r="2.4" fill="none" stroke="#8fa3dd" stroke-width="0.8"/>
<circle cx="132.0" cy="302.2" r="2.4" fill="none" stroke="#8fa3dd" stroke-width="0.8"/>
<circle cx="97.0" cy="324.1" r="2.4" fill="none" stroke="#8fa3dd" stroke-width="0.8"/>
<circle cx="85.0" cy="324.3" r="2.4" fill="none" stroke="#8fa3dd" stroke-width="0.8"/>
<circle cx="106.4" cy="320.4" r="2.4" fill="none" stroke="#8fa3dd" stroke-width="0.8"/>
<circle cx="102.4" cy="340.4" r="2.4" fill="none" stroke="#8fa3dd" stroke-width="0.8"/>
<circle cx="123.8" cy="317.8" r="2.4" fill="none" stroke="#8fa3dd" stroke-width="0.8"/>
<circle cx="92.4" cy="325.0" r="2.4" fill="none" stroke="#8fa3dd" stroke-width="0.8"/>
<circle cx="129.8" cy="312.7" r="2.4" fill="none" stroke="#8fa3dd" stroke-width="0.8"/>
<circle cx="91.7" cy="332.3" r="2.4" fill="none" stroke="#8fa3dd" stroke-width="0.8"/>
<circle cx="146.1" cy="304.9" r="2.4" fill="none" stroke="#8fa3dd" stroke-width="0.8"/>
<circle cx="96.9" cy="323.4" r="2.4" fill="none" stroke="#8fa3dd" stroke-width="0.8"/>
<circle cx="149.7" cy="305.1" r="2.4" fill="none" stroke="#8fa3dd" stroke-width="0.8"/>
<circle cx="107.8" cy="310.3" r="2.4" fill="none" stroke="#8fa3dd" stroke-width="0.8"/>
<circle cx="104.5" cy="322.0" r="2.4" fill="none" stroke="#8fa3dd" stroke-width="0.8"/>
<circle cx="125.7" cy="322.4" r="2.4" fill="none" stroke="#8fa3dd" stroke-width="0.8"/>
<circle cx="112.0" cy="328.5" r="2.4" fill="none" stroke="#8fa3dd" stroke-width="0.8"/>
<circle cx="114.1" cy="314.1" r="2.4" fill="none" stroke="#8fa3dd" stroke-width="0.8"/>
<circle cx="117.4" cy="330.8" r="2.4" fill="none" stroke="#8fa3dd" stroke-width="0.8"/>
<circle cx="130.4" cy="314.3" r="2.4" fill="none" stroke="#8fa3dd" stroke-width="0.8"/>
<circle cx="99.5" cy="321.3" r="2.4" fill="none" stroke="#8fa3dd" stroke-width="0.8"/>
<circle cx="141.6" cy="309.8" r="2.4" fill="none" stroke="#8fa3dd" stroke-width="0.8"/>
<circle cx="102.9" cy="336.5" r="2.4" fill="none" stroke="#8fa3dd" stroke-width="0.8"/>
<circle cx="114.0" cy="311.5" r="2.4" fill="none" stroke="#8fa3dd" stroke-width="0.8"/>
<circle cx="145.6" cy="299.8" r="2.4" fill="none" stroke="#8fa3dd" stroke-width="0.8"/>
<circle cx="123.7" cy="330.7" r="2.4" fill="none" stroke="#8fa3dd" stroke-width="0.8"/>
<circle cx="113.6" cy="333.1" r="2.4" fill="none" stroke="#8fa3dd" stroke-width="0.8"/>
<circle cx="102.6" cy="331.5" r="2.4" fill="none" stroke="#8fa3dd" stroke-width="0.8"/>
<circle cx="113.1" cy="331.7" r="2.4" fill="none" stroke="#8fa3dd" stroke-width="0.8"/>
<circle cx="129.9" cy="315.5" r="2.4" fill="none" stroke="#8fa3dd" stroke-width="0.8"/>
<circle cx="128.4" cy="318.7" r="2.4" fill="none" stroke="#8fa3dd" stroke-width="0.8"/>
<circle cx="92.7" cy="341.1" r="2.4" fill="none" stroke="#8fa3dd" stroke-width="0.8"/>
<circle cx="143.1" cy="313.1" r="2.4" fill="none" stroke="#8fa3dd" stroke-width="0.8"/>
<circle cx="106.5" cy="336.5" r="2.4" fill="none" stroke="#8fa3dd" stroke-width="0.8"/>
<circle cx="138.2" cy="322.8" r="2.4" fill="none" stroke="#8fa3dd" stroke-width="0.8"/>
<circle cx="120.0" cy="310.5" r="2.4" fill="none" stroke="#8fa3dd" stroke-width="0.8"/>
<circle cx="90.6" cy="335.0" r="2.4" fill="none" stroke="#8fa3dd" stroke-width="0.8"/>
<circle cx="108.0" cy="322.9" r="2.4" fill="none" stroke="#8fa3dd" stroke-width="0.8"/>
<circle cx="108.7" cy="322.7" r="2.4" fill="none" stroke="#8fa3dd" stroke-width="0.8"/>
<circle cx="106.7" cy="311.3" r="2.4" fill="none" stroke="#8fa3dd" stroke-width="0.8"/>
<circle cx="143.3" cy="315.2" r="2.4" fill="none" stroke="#8fa3dd" stroke-width="0.8"/>
<circle cx="125.8" cy="318.6" r="2.4" fill="none" stroke="#8fa3dd" stroke-width="0.8"/>
<circle cx="115.0" cy="315.8" r="2.4" fill="none" stroke="#8fa3dd" stroke-width="0.8"/>
<circle cx="104.9" cy="335.1" r="2.4" fill="none" stroke="#8fa3dd" stroke-width="0.8"/>
<circle cx="128.3" cy="297.5" r="2.4" fill="none" stroke="#8fa3dd" stroke-width="0.8"/>
<circle cx="148.4" cy="295.0" r="2.4" fill="none" stroke="#8fa3dd" stroke-width="0.8"/>
<circle cx="238.2" cy="260.1" r="2.4" fill="none" stroke="#8fa3dd" stroke-width="0.8"/>
<circle cx="205.4" cy="268.9" r="2.4" fill="none" stroke="#8fa3dd" stroke-width="0.8"/>
<circle cx="185.0" cy="287.7" r="2.4" fill="none" stroke="#8fa3dd" stroke-width="0.8"/>
<circle cx="270.0" cy="289.3" r="2.4" fill="none" stroke="#8fa3dd" stroke-width="0.8"/>
<circle cx="211.3" cy="292.1" r="2.4" fill="none" stroke="#8fa3dd" stroke-width="0.8"/>
<circle cx="162.7" cy="295.4" r="2.4" fill="none" stroke="#8fa3dd" stroke-width="0.8"/>
<circle cx="175.8" cy="296.5" r="2.4" fill="none" stroke="#8fa3dd" stroke-width="0.8"/>
<circle cx="169.7" cy="299.1" r="2.4" fill="none" stroke="#8fa3dd" stroke-width="0.8"/>
<circle cx="164.9" cy="302.8" r="2.4" fill="none" stroke="#8fa3dd" stroke-width="0.8"/>
<circle cx="170.8" cy="305.3" r="2.4" fill="none" stroke="#8fa3dd" stroke-width="0.8"/>
<circle cx="178.9" cy="305.3" r="2.4" fill="none" stroke="#8fa3dd" stroke-width="0.8"/>
<circle cx="160.5" cy="307.4" r="2.4" fill="none" stroke="#8fa3dd" stroke-width="0.8"/>
<circle cx="152.2" cy="310.5" r="2.4" fill="none" stroke="#8fa3dd" stroke-width="0.8"/>
<circle cx="157.7" cy="312.3" r="2.4" fill="none" stroke="#8fa3dd" stroke-width="0.8"/>
<circle cx="175.2" cy="312.3" r="2.4" fill="none" stroke="#8fa3dd" stroke-width="0.8"/>
<circle cx="190.5" cy="309.6" r="2.4" fill="none" stroke="#8fa3dd" stroke-width="0.8"/>
<circle cx="202.6" cy="309.6" r="2.4" fill="none" stroke="#8fa3dd" stroke-width="0.8"/>
<circle cx="207.4" cy="310.5" r="2.4" fill="none" stroke="#8fa3dd" stroke-width="0.8"/>
<circle cx="184.6" cy="313.4" r="2.4" fill="none" stroke="#8fa3dd" stroke-width="0.8"/>
<circle cx="169.7" cy="317.7" r="2.4" fill="none" stroke="#8fa3dd" stroke-width="0.8"/>
<circle cx="175.8" cy="321.5" r="2.4" fill="none" stroke="#8fa3dd" stroke-width="0.8"/>
<circle cx="181.7" cy="324.3" r="2.4" fill="none" stroke="#8fa3dd" stroke-width="0.8"/>
<circle cx="199.9" cy="322.8" r="2.4" fill="none" stroke="#8fa3dd" stroke-width="0.8"/>
<circle cx="197.7" cy="326.5" r="2.4" fill="none" stroke="#8fa3dd" stroke-width="0.8"/>
<circle cx="226.2" cy="321.5" r="2.4" fill="none" stroke="#8fa3dd" stroke-width="0.8"/>
<circle cx="162.7" cy="325.8" r="2.4" fill="none" stroke="#8fa3dd" stroke-width="0.8"/>
<circle cx="197.1" cy="334.2" r="2.4" fill="none" stroke="#8fa3dd" stroke-width="0.8"/>
<circle cx="186.8" cy="335.2" r="2.4" fill="none" stroke="#8fa3dd" stroke-width="0.8"/>
<circle cx="189.4" cy="336.3" r="2.4" fill="none" stroke="#8fa3dd" stroke-width="0.8"/>
<circle cx="199.9" cy="337.4" r="2.4" fill="none" stroke="#8fa3dd" stroke-width="0.8"/>
<circle cx="221.2" cy="332.0" r="2.4" fill="none" stroke="#8fa3dd" stroke-width="0.8"/>
<circle cx="226.2" cy="339.0" r="2.4" fill="none" stroke="#8fa3dd" stroke-width="0.8"/>
<circle cx="239.3" cy="336.3" r="2.4" fill="none" stroke="#8fa3dd" stroke-width="0.8"/>
<circle cx="216.8" cy="341.2" r="2.4" fill="none" stroke="#8fa3dd" stroke-width="0.8"/>
<circle cx="229.3" cy="341.8" r="2.4" fill="none" stroke="#8fa3dd" stroke-width="0.8"/>
<circle cx="235.8" cy="342.5" r="2.4" fill="none" stroke="#8fa3dd" stroke-width="0.8"/>
<circle cx="270.0" cy="333.1" r="2.4" fill="none" stroke="#8fa3dd" stroke-width="0.8"/>
<circle cx="106.0" cy="270.0" r="2.4" fill="none" stroke="#8fa3dd" stroke-width="0.8"/>
<circle cx="109.0" cy="267.0" r="2.4" fill="none" stroke="#8fa3dd" stroke-width="0.8"/>
<circle cx="130.0" cy="300.0" r="2.4" fill="none" stroke="#8fa3dd" stroke-width="0.8"/>
<circle cx="140.0" cy="295.0" r="2.4" fill="none" stroke="#8fa3dd" stroke-width="0.8"/>
<circle cx="120.0" cy="305.0" r="2.4" fill="none" stroke="#8fa3dd" stroke-width="0.8"/>
<circle cx="145.0" cy="320.0" r="2.4" fill="none" stroke="#8fa3dd" stroke-width="0.8"/>
<circle cx="135.0" cy="325.0" r="2.4" fill="none" stroke="#8fa3dd" stroke-width="0.8"/>
<circle cx="150.0" cy="318.0" r="2.4" fill="none" stroke="#8fa3dd" stroke-width="0.8"/>
<circle cx="69.5" cy="386.0" r="2.4" fill="none" stroke="#8fa3dd" stroke-width="0.8"/>
</g>
<line x1="60.0" y1="350.3" x2="270.4" y2="270.9" stroke="#6a86cf" stroke-width="1" />
<line x1="57.7" y1="302.3" x2="270.4" y2="374.7" stroke="#e0b84a" stroke-width="1" />
<rect x="78.6" y="285.4" width="7" height="7" fill="#5270c2" stroke="#222" stroke-width="0.9"/>
<rect x="79.7" y="290.5" width="7" height="7" fill="#5270c2" stroke="#222" stroke-width="0.9"/>
<rect x="83.8" y="295.6" width="7" height="7" fill="#5270c2" stroke="#222" stroke-width="0.9"/>
<rect x="73.5" y="300.7" width="7" height="7" fill="#5270c2" stroke="#222" stroke-width="0.9"/>
<rect x="79.7" y="300.7" width="7" height="7" fill="#5270c2" stroke="#222" stroke-width="0.9"/>
<rect x="97.1" y="311.9" width="7" height="7" fill="#5270c2" stroke="#222" stroke-width="0.9"/>
<rect x="94.0" y="334.4" width="7" height="7" fill="#5270c2" stroke="#222" stroke-width="0.9"/>
<rect x="73.5" y="337.5" width="7" height="7" fill="#5270c2" stroke="#222" stroke-width="0.9"/>
<rect x="78.6" y="341.6" width="7" height="7" fill="#5270c2" stroke="#222" stroke-width="0.9"/>
<rect x="70.5" y="340.6" width="7" height="7" fill="#5270c2" stroke="#222" stroke-width="0.9"/>
<rect x="68.4" y="346.7" width="7" height="7" fill="#5270c2" stroke="#222" stroke-width="0.9"/>
<rect x="67.4" y="350.8" width="7" height="7" fill="#5270c2" stroke="#222" stroke-width="0.9"/>
<rect x="66.4" y="358.0" width="7" height="7" fill="#5270c2" stroke="#222" stroke-width="0.9"/>
<rect x="108.3" y="329.3" width="7" height="7" fill="#5270c2" stroke="#222" stroke-width="0.9"/>
<rect x="70.5" y="275.1" width="7" height="7" fill="#e3b52e" stroke="#222" stroke-width="0.9"/>
<rect x="72.5" y="279.2" width="7" height="7" fill="#e3b52e" stroke="#222" stroke-width="0.9"/>
<rect x="69.5" y="283.3" width="7" height="7" fill="#e3b52e" stroke="#222" stroke-width="0.9"/>
<rect x="74.5" y="286.4" width="7" height="7" fill="#e3b52e" stroke="#222" stroke-width="0.9"/>
<rect x="66.4" y="290.5" width="7" height="7" fill="#e3b52e" stroke="#222" stroke-width="0.9"/>
<rect x="78.6" y="295.6" width="7" height="7" fill="#e3b52e" stroke="#222" stroke-width="0.9"/>
<rect x="75.2" y="281.3" width="7" height="7" fill="#e3b52e" stroke="#222" stroke-width="0.9"/>
<rect x="76.6" y="309.9" width="7" height="7" fill="#e3b52e" stroke="#222" stroke-width="0.9"/>
<rect x="73.5" y="314.0" width="7" height="7" fill="#e3b52e" stroke="#222" stroke-width="0.9"/>
<rect x="78.6" y="317.1" width="7" height="7" fill="#e3b52e" stroke="#222" stroke-width="0.9"/>
<rect x="80.7" y="322.2" width="7" height="7" fill="#e3b52e" stroke="#222" stroke-width="0.9"/>
<rect x="83.8" y="321.8" width="7" height="7" fill="#e3b52e" stroke="#222" stroke-width="0.9"/>
<rect x="72.5" y="318.1" width="7" height="7" fill="#e3b52e" stroke="#222" stroke-width="0.9"/>
<rect x="94.0" y="307.8" width="7" height="7" fill="#e3b52e" stroke="#222" stroke-width="0.9"/>
<rect x="105.2" y="315.0" width="7" height="7" fill="#e3b52e" stroke="#222" stroke-width="0.9"/>
<rect x="97.1" y="322.2" width="7" height="7" fill="#e3b52e" stroke="#222" stroke-width="0.9"/>
<rect x="105.2" y="321.1" width="7" height="7" fill="#e3b52e" stroke="#222" stroke-width="0.9"/>
<rect x="108.3" y="324.2" width="7" height="7" fill="#e3b52e" stroke="#222" stroke-width="0.9"/>
<rect x="107.3" y="327.3" width="7" height="7" fill="#e3b52e" stroke="#222" stroke-width="0.9"/>
<rect x="116.5" y="318.1" width="7" height="7" fill="#e3b52e" stroke="#222" stroke-width="0.9"/>
<rect x="114.4" y="328.3" width="7" height="7" fill="#e3b52e" stroke="#222" stroke-width="0.9"/>
<rect x="67.4" y="331.4" width="7" height="7" fill="#e3b52e" stroke="#222" stroke-width="0.9"/>
<rect x="32.4" y="233.2" width="265.6" height="155.0" fill="none" stroke="#262626" stroke-width="1.2"/>
<line x1="29.4" y1="233.2" x2="32.4" y2="233.2" stroke="#262626" stroke-width="1.2" />
<text x="28.6" y="237.0" font-size="12.4" text-anchor="end" fill="#231f20" font-weight="bold" >12</text>
<line x1="29.4" y1="267.8" x2="32.4" y2="267.8" stroke="#262626" stroke-width="1.2" />
<text x="28.6" y="271.6" font-size="12.4" text-anchor="end" fill="#231f20" font-weight="bold" >10</text>
<line x1="29.4" y1="302.4" x2="32.4" y2="302.4" stroke="#262626" stroke-width="1.2" />
<text x="28.6" y="306.2" font-size="12.4" text-anchor="end" fill="#231f20" font-weight="bold" >8</text>
<line x1="29.4" y1="337.0" x2="32.4" y2="337.0" stroke="#262626" stroke-width="1.2" />
<text x="28.6" y="340.8" font-size="12.4" text-anchor="end" fill="#231f20" font-weight="bold" >6</text>
<line x1="29.4" y1="371.6" x2="32.4" y2="371.6" stroke="#262626" stroke-width="1.2" />
<text x="28.6" y="375.4" font-size="12.4" text-anchor="end" fill="#231f20" font-weight="bold" >4</text>
<line x1="298.0" y1="387.0" x2="301.0" y2="387.0" stroke="#262626" stroke-width="1.2" />
<text x="305.3" y="391.1" font-size="13" text-anchor="start" fill="#231f20" font-weight="bold" >0</text>
<line x1="298.0" y1="356.2" x2="301.0" y2="356.2" stroke="#262626" stroke-width="1.2" />
<text x="305.3" y="360.3" font-size="13" text-anchor="start" fill="#231f20" font-weight="bold" >1</text>
<line x1="298.0" y1="325.4" x2="301.0" y2="325.4" stroke="#262626" stroke-width="1.2" />
<text x="305.3" y="329.5" font-size="13" text-anchor="start" fill="#231f20" font-weight="bold" >2</text>
<line x1="298.0" y1="294.6" x2="301.0" y2="294.6" stroke="#262626" stroke-width="1.2" />
<text x="305.3" y="298.7" font-size="13" text-anchor="start" fill="#231f20" font-weight="bold" >3</text>
<line x1="298.0" y1="263.8" x2="301.0" y2="263.8" stroke="#262626" stroke-width="1.2" />
<text x="305.3" y="267.9" font-size="13" text-anchor="start" fill="#231f20" font-weight="bold" >4</text>
<line x1="298.0" y1="233.0" x2="301.0" y2="233.0" stroke="#262626" stroke-width="1.2" />
<text x="305.3" y="237.1" font-size="13" text-anchor="start" fill="#231f20" font-weight="bold" >5</text>
<line x1="59.0" y1="388.2" x2="59.0" y2="391.2" stroke="#262626" stroke-width="1.2" />
<text x="60.3" y="404.1" font-size="13" text-anchor="middle" fill="#231f20" font-weight="bold" >0</text>
<line x1="112.1" y1="388.2" x2="112.1" y2="391.2" stroke="#262626" stroke-width="1.2" />
<text x="113.4" y="404.1" font-size="13" text-anchor="middle" fill="#231f20" font-weight="bold" >2000</text>
<line x1="165.2" y1="388.2" x2="165.2" y2="391.2" stroke="#262626" stroke-width="1.2" />
<text x="166.5" y="404.1" font-size="13" text-anchor="middle" fill="#231f20" font-weight="bold" >4000</text>
<line x1="218.4" y1="388.2" x2="218.4" y2="391.2" stroke="#262626" stroke-width="1.2" />
<text x="219.7" y="404.1" font-size="13" text-anchor="middle" fill="#231f20" font-weight="bold" >6000</text>
<line x1="271.5" y1="388.2" x2="271.5" y2="391.2" stroke="#262626" stroke-width="1.2" />
<text x="272.8" y="404.1" font-size="13" text-anchor="middle" fill="#231f20" font-weight="bold" >8000</text>
<text x="170.3" y="421.5" font-size="12.6" text-anchor="middle" fill="#231f20" font-weight="bold" ><tspan font-weight="normal">&#8721;</tspan>REY (mg kg<tspan font-size="7.5" dy="-5">-1</tspan><tspan dy="5">)</tspan></text>
<text transform="translate(9.8,307) rotate(-90)" font-size="12.6" text-anchor="middle" fill="#231f20" font-weight="bold">Fe (Fe<tspan font-size="6.5" dy="2.5">2</tspan><tspan dy="-2.5">O</tspan><tspan font-size="6.5" dy="2.5">3</tspan><tspan dy="-2.5"> wt. %)</tspan></text>
<text transform="translate(324.8,311.5) rotate(-90)" font-size="12.6" text-anchor="middle" fill="#231f20" font-weight="bold">Mn (MnO wt. %)</text>
<text x="37.3" y="249.5" font-size="16" text-anchor="start" fill="#231f20" font-weight="bold" >(b)</text>
<rect x="105.5" y="240.8" width="6.5" height="6.5" fill="#e3b52e" stroke="#222" stroke-width="0.9"/>
<text x="116.0" y="248.0" font-size="11.7" text-anchor="start" fill="#231f20" font-weight="bold" >Fe</text>
<circle cx="138.0" cy="244.0" r="3.2" fill="none" stroke="#e0b84a" stroke-width="1"/>
<text x="146.2" y="248.0" font-size="11.7" text-anchor="start" fill="#231f20" font-weight="bold" >Fe (literature)</text>
<rect x="105.5" y="255.9" width="6.5" height="6.5" fill="#5270c2" stroke="#222" stroke-width="0.9"/>
<text x="116.0" y="263.2" font-size="11.7" text-anchor="start" fill="#231f20" font-weight="bold" >Mn</text>
<circle cx="138.0" cy="259.2" r="3.2" fill="none" stroke="#6a86cf" stroke-width="1"/>
<text x="146.2" y="263.2" font-size="11.7" text-anchor="start" fill="#231f20" font-weight="bold" >Mn (literature)</text>
<text x="253.6" y="303.6" font-size="11.4" text-anchor="middle" fill="#5b74c4" font-weight="bold" >y = 3.18<tspan font-size="7.5" dy="-5">-4</tspan><tspan dy="5">x + 1.17</tspan></text>
<text x="252.9" y="316.0" font-size="11.4" text-anchor="middle" fill="#5b74c4" font-weight="bold" >R<tspan font-size="7.5" dy="-5">2</tspan><tspan dy="5">=0.25</tspan></text>
<text x="167.3" y="361.9" font-size="11.4" text-anchor="middle" fill="#d9ad35" font-weight="bold" >y = -5.71<tspan font-size="7.5" dy="-5">-4</tspan><tspan dy="5">x + 8.08</tspan></text>
<text x="167.3" y="375.9" font-size="11.4" text-anchor="middle" fill="#d9ad35" font-weight="bold" >R<tspan font-size="7.5" dy="-5">2</tspan><tspan dy="5">=0.22</tspan></text>
<g clip-path="url(#clipc)">
<circle cx="454.3" cy="330.3" r="2.4" fill="none" stroke="#e6d195" stroke-width="0.8"/>
<circle cx="429.1" cy="346.6" r="2.4" fill="none" stroke="#e6d195" stroke-width="0.8"/>
<circle cx="379.1" cy="375.7" r="2.4" fill="none" stroke="#e6d195" stroke-width="0.8"/>
<circle cx="390.0" cy="374.7" r="2.4" fill="none" stroke="#e6d195" stroke-width="0.8"/>
<circle cx="389.3" cy="369.3" r="2.4" fill="none" stroke="#e6d195" stroke-width="0.8"/>
<circle cx="432.6" cy="341.5" r="2.4" fill="none" stroke="#e6d195" stroke-width="0.8"/>
<circle cx="386.2" cy="370.8" r="2.4" fill="none" stroke="#e6d195" stroke-width="0.8"/>
<circle cx="392.7" cy="367.3" r="2.4" fill="none" stroke="#e6d195" stroke-width="0.8"/>
<circle cx="431.7" cy="351.5" r="2.4" fill="none" stroke="#e6d195" stroke-width="0.8"/>
<circle cx="375.8" cy="382.4" r="2.4" fill="none" stroke="#e6d195" stroke-width="0.8"/>
<circle cx="450.1" cy="341.6" r="2.4" fill="none" stroke="#e6d195" stroke-width="0.8"/>
<circle cx="415.3" cy="356.9" r="2.4" fill="none" stroke="#e6d195" stroke-width="0.8"/>
<circle cx="382.1" cy="375.4" r="2.4" fill="none" stroke="#e6d195" stroke-width="0.8"/>
<circle cx="383.1" cy="379.4" r="2.4" fill="none" stroke="#e6d195" stroke-width="0.8"/>
<circle cx="383.5" cy="373.0" r="2.4" fill="none" stroke="#e6d195" stroke-width="0.8"/>
<circle cx="435.7" cy="346.3" r="2.4" fill="none" stroke="#e6d195" stroke-width="0.8"/>
<circle cx="405.3" cy="361.7" r="2.4" fill="none" stroke="#e6d195" stroke-width="0.8"/>
<circle cx="417.1" cy="347.5" r="2.4" fill="none" stroke="#e6d195" stroke-width="0.8"/>
<circle cx="442.0" cy="340.3" r="2.4" fill="none" stroke="#e6d195" stroke-width="0.8"/>
<circle cx="452.4" cy="333.3" r="2.4" fill="none" stroke="#e6d195" stroke-width="0.8"/>
<circle cx="404.7" cy="369.1" r="2.4" fill="none" stroke="#e6d195" stroke-width="0.8"/>
<circle cx="405.3" cy="346.2" r="2.4" fill="none" stroke="#e6d195" stroke-width="0.8"/>
<circle cx="385.2" cy="374.4" r="2.4" fill="none" stroke="#e6d195" stroke-width="0.8"/>
<circle cx="385.4" cy="368.4" r="2.4" fill="none" stroke="#e6d195" stroke-width="0.8"/>
<circle cx="376.6" cy="378.5" r="2.4" fill="none" stroke="#e6d195" stroke-width="0.8"/>
<circle cx="424.2" cy="360.6" r="2.4" fill="none" stroke="#e6d195" stroke-width="0.8"/>
<circle cx="377.7" cy="377.8" r="2.4" fill="none" stroke="#e6d195" stroke-width="0.8"/>
<circle cx="382.2" cy="377.6" r="2.4" fill="none" stroke="#e6d195" stroke-width="0.8"/>
<circle cx="398.5" cy="358.0" r="2.4" fill="none" stroke="#e6d195" stroke-width="0.8"/>
<circle cx="450.3" cy="333.6" r="2.4" fill="none" stroke="#e6d195" stroke-width="0.8"/>
<circle cx="412.4" cy="357.8" r="2.4" fill="none" stroke="#e6d195" stroke-width="0.8"/>
<circle cx="432.4" cy="344.0" r="2.4" fill="none" stroke="#e6d195" stroke-width="0.8"/>
<circle cx="401.6" cy="357.4" r="2.4" fill="none" stroke="#e6d195" stroke-width="0.8"/>
<circle cx="406.7" cy="361.7" r="2.4" fill="none" stroke="#e6d195" stroke-width="0.8"/>
<circle cx="377.9" cy="382.3" r="2.4" fill="none" stroke="#e6d195" stroke-width="0.8"/>
<circle cx="416.2" cy="353.5" r="2.4" fill="none" stroke="#e6d195" stroke-width="0.8"/>
<circle cx="390.3" cy="368.7" r="2.4" fill="none" stroke="#e6d195" stroke-width="0.8"/>
<circle cx="411.0" cy="354.9" r="2.4" fill="none" stroke="#e6d195" stroke-width="0.8"/>
<circle cx="433.3" cy="339.0" r="2.4" fill="none" stroke="#e6d195" stroke-width="0.8"/>
<circle cx="452.0" cy="337.2" r="2.4" fill="none" stroke="#e6d195" stroke-width="0.8"/>
<circle cx="420.1" cy="352.8" r="2.4" fill="none" stroke="#e6d195" stroke-width="0.8"/>
<circle cx="401.7" cy="356.7" r="2.4" fill="none" stroke="#e6d195" stroke-width="0.8"/>
<circle cx="421.4" cy="353.4" r="2.4" fill="none" stroke="#e6d195" stroke-width="0.8"/>
<circle cx="413.7" cy="362.3" r="2.4" fill="none" stroke="#e6d195" stroke-width="0.8"/>
<circle cx="378.2" cy="378.7" r="2.4" fill="none" stroke="#e6d195" stroke-width="0.8"/>
<circle cx="437.2" cy="338.8" r="2.4" fill="none" stroke="#e6d195" stroke-width="0.8"/>
<circle cx="442.8" cy="339.9" r="2.4" fill="none" stroke="#e6d195" stroke-width="0.8"/>
<circle cx="380.3" cy="382.0" r="2.4" fill="none" stroke="#e6d195" stroke-width="0.8"/>
<circle cx="440.3" cy="337.4" r="2.4" fill="none" stroke="#e6d195" stroke-width="0.8"/>
<circle cx="436.6" cy="351.4" r="2.4" fill="none" stroke="#e6d195" stroke-width="0.8"/>
<circle cx="378.4" cy="382.6" r="2.4" fill="none" stroke="#e6d195" stroke-width="0.8"/>
<circle cx="416.6" cy="358.7" r="2.4" fill="none" stroke="#e6d195" stroke-width="0.8"/>
<circle cx="423.9" cy="339.6" r="2.4" fill="none" stroke="#e6d195" stroke-width="0.8"/>
<circle cx="418.9" cy="350.1" r="2.4" fill="none" stroke="#e6d195" stroke-width="0.8"/>
<circle cx="432.2" cy="337.7" r="2.4" fill="none" stroke="#e6d195" stroke-width="0.8"/>
<circle cx="447.7" cy="316.8" r="2.4" fill="none" stroke="#e6d195" stroke-width="0.8"/>
<circle cx="436.0" cy="346.6" r="2.4" fill="none" stroke="#e6d195" stroke-width="0.8"/>
<circle cx="408.0" cy="353.4" r="2.4" fill="none" stroke="#e6d195" stroke-width="0.8"/>
<circle cx="382.6" cy="376.2" r="2.4" fill="none" stroke="#e6d195" stroke-width="0.8"/>
<circle cx="382.5" cy="375.2" r="2.4" fill="none" stroke="#e6d195" stroke-width="0.8"/>
<circle cx="426.2" cy="348.7" r="2.4" fill="none" stroke="#e6d195" stroke-width="0.8"/>
<circle cx="397.1" cy="369.3" r="2.4" fill="none" stroke="#e6d195" stroke-width="0.8"/>
<circle cx="417.3" cy="357.8" r="2.4" fill="none" stroke="#e6d195" stroke-width="0.8"/>
<circle cx="415.3" cy="361.2" r="2.4" fill="none" stroke="#e6d195" stroke-width="0.8"/>
<circle cx="383.0" cy="375.3" r="2.4" fill="none" stroke="#e6d195" stroke-width="0.8"/>
<circle cx="406.8" cy="362.5" r="2.4" fill="none" stroke="#e6d195" stroke-width="0.8"/>
<circle cx="426.9" cy="347.1" r="2.4" fill="none" stroke="#e6d195" stroke-width="0.8"/>
<circle cx="403.2" cy="365.0" r="2.4" fill="none" stroke="#e6d195" stroke-width="0.8"/>
<circle cx="381.7" cy="378.8" r="2.4" fill="none" stroke="#e6d195" stroke-width="0.8"/>
<circle cx="388.8" cy="367.1" r="2.4" fill="none" stroke="#e6d195" stroke-width="0.8"/>
<circle cx="385.9" cy="370.2" r="2.4" fill="none" stroke="#e6d195" stroke-width="0.8"/>
<circle cx="403.3" cy="362.8" r="2.4" fill="none" stroke="#e6d195" stroke-width="0.8"/>
<circle cx="441.2" cy="334.8" r="2.4" fill="none" stroke="#e6d195" stroke-width="0.8"/>
<circle cx="453.3" cy="331.9" r="2.4" fill="none" stroke="#e6d195" stroke-width="0.8"/>
<circle cx="428.8" cy="349.6" r="2.4" fill="none" stroke="#e6d195" stroke-width="0.8"/>
<circle cx="418.5" cy="341.8" r="2.4" fill="none" stroke="#e6d195" stroke-width="0.8"/>
<circle cx="378.9" cy="374.9" r="2.4" fill="none" stroke="#e6d195" stroke-width="0.8"/>
<circle cx="406.8" cy="366.2" r="2.4" fill="none" stroke="#e6d195" stroke-width="0.8"/>
<circle cx="417.2" cy="359.9" r="2.4" fill="none" stroke="#e6d195" stroke-width="0.8"/>
<circle cx="411.2" cy="355.1" r="2.4" fill="none" stroke="#e6d195" stroke-width="0.8"/>
<circle cx="433.6" cy="341.9" r="2.4" fill="none" stroke="#e6d195" stroke-width="0.8"/>
<circle cx="377.0" cy="384.9" r="2.4" fill="none" stroke="#e6d195" stroke-width="0.8"/>
<circle cx="417.9" cy="355.8" r="2.4" fill="none" stroke="#e6d195" stroke-width="0.8"/>
<circle cx="450.7" cy="340.0" r="2.4" fill="none" stroke="#e6d195" stroke-width="0.8"/>
<circle cx="438.1" cy="344.2" r="2.4" fill="none" stroke="#e6d195" stroke-width="0.8"/>
<circle cx="388.6" cy="369.6" r="2.4" fill="none" stroke="#e6d195" stroke-width="0.8"/>
<circle cx="421.4" cy="353.6" r="2.4" fill="none" stroke="#e6d195" stroke-width="0.8"/>
<circle cx="446.2" cy="337.1" r="2.4" fill="none" stroke="#e6d195" stroke-width="0.8"/>
<circle cx="428.1" cy="337.4" r="2.4" fill="none" stroke="#e6d195" stroke-width="0.8"/>
<circle cx="395.6" cy="367.7" r="2.4" fill="none" stroke="#e6d195" stroke-width="0.8"/>
<circle cx="431.3" cy="349.2" r="2.4" fill="none" stroke="#e6d195" stroke-width="0.8"/>
<circle cx="415.4" cy="356.3" r="2.4" fill="none" stroke="#e6d195" stroke-width="0.8"/>
<circle cx="395.7" cy="363.4" r="2.4" fill="none" stroke="#e6d195" stroke-width="0.8"/>
<circle cx="394.2" cy="364.3" r="2.4" fill="none" stroke="#e6d195" stroke-width="0.8"/>
<circle cx="394.5" cy="366.9" r="2.4" fill="none" stroke="#e6d195" stroke-width="0.8"/>
<circle cx="442.7" cy="341.7" r="2.4" fill="none" stroke="#e6d195" stroke-width="0.8"/>
<circle cx="421.4" cy="353.6" r="2.4" fill="none" stroke="#e6d195" stroke-width="0.8"/>
<circle cx="425.6" cy="348.7" r="2.4" fill="none" stroke="#e6d195" stroke-width="0.8"/>
<circle cx="435.5" cy="327.0" r="2.4" fill="none" stroke="#e6d195" stroke-width="0.8"/>
<circle cx="401.2" cy="368.3" r="2.4" fill="none" stroke="#e6d195" stroke-width="0.8"/>
<circle cx="391.1" cy="365.2" r="2.4" fill="none" stroke="#e6d195" stroke-width="0.8"/>
<circle cx="450.1" cy="328.3" r="2.4" fill="none" stroke="#e6d195" stroke-width="0.8"/>
<circle cx="417.8" cy="354.3" r="2.4" fill="none" stroke="#e6d195" stroke-width="0.8"/>
<circle cx="382.1" cy="383.9" r="2.4" fill="none" stroke="#e6d195" stroke-width="0.8"/>
<circle cx="425.4" cy="349.1" r="2.4" fill="none" stroke="#e6d195" stroke-width="0.8"/>
<circle cx="417.7" cy="354.4" r="2.4" fill="none" stroke="#e6d195" stroke-width="0.8"/>
<circle cx="454.0" cy="334.4" r="2.4" fill="none" stroke="#e6d195" stroke-width="0.8"/>
<circle cx="426.2" cy="349.8" r="2.4" fill="none" stroke="#e6d195" stroke-width="0.8"/>
<circle cx="376.7" cy="384.1" r="2.4" fill="none" stroke="#e6d195" stroke-width="0.8"/>
<circle cx="442.4" cy="342.6" r="2.4" fill="none" stroke="#e6d195" stroke-width="0.8"/>
<circle cx="414.1" cy="353.2" r="2.4" fill="none" stroke="#e6d195" stroke-width="0.8"/>
<circle cx="414.5" cy="357.6" r="2.4" fill="none" stroke="#e6d195" stroke-width="0.8"/>
<circle cx="412.2" cy="357.2" r="2.4" fill="none" stroke="#e6d195" stroke-width="0.8"/>
<circle cx="411.2" cy="351.5" r="2.4" fill="none" stroke="#e6d195" stroke-width="0.8"/>
<circle cx="411.3" cy="364.2" r="2.4" fill="none" stroke="#e6d195" stroke-width="0.8"/>
<circle cx="383.8" cy="374.8" r="2.4" fill="none" stroke="#e6d195" stroke-width="0.8"/>
<circle cx="399.1" cy="374.7" r="2.4" fill="none" stroke="#e6d195" stroke-width="0.8"/>
<circle cx="450.6" cy="335.5" r="2.4" fill="none" stroke="#e6d195" stroke-width="0.8"/>
<circle cx="442.7" cy="346.4" r="2.4" fill="none" stroke="#e6d195" stroke-width="0.8"/>
<circle cx="419.8" cy="356.1" r="2.4" fill="none" stroke="#e6d195" stroke-width="0.8"/>
<circle cx="421.7" cy="355.8" r="2.4" fill="none" stroke="#e6d195" stroke-width="0.8"/>
<circle cx="413.9" cy="358.4" r="2.4" fill="none" stroke="#e6d195" stroke-width="0.8"/>
<circle cx="376.8" cy="377.0" r="2.4" fill="none" stroke="#e6d195" stroke-width="0.8"/>
<circle cx="376.3" cy="377.4" r="2.4" fill="none" stroke="#e6d195" stroke-width="0.8"/>
<circle cx="440.2" cy="340.4" r="2.4" fill="none" stroke="#e6d195" stroke-width="0.8"/>
<circle cx="433.9" cy="347.3" r="2.4" fill="none" stroke="#e6d195" stroke-width="0.8"/>
<circle cx="375.0" cy="379.8" r="2.4" fill="none" stroke="#e6d195" stroke-width="0.8"/>
<circle cx="440.5" cy="320.6" r="2.4" fill="none" stroke="#e6d195" stroke-width="0.8"/>
<circle cx="399.1" cy="353.3" r="2.4" fill="none" stroke="#e6d195" stroke-width="0.8"/>
<circle cx="393.4" cy="370.8" r="2.4" fill="none" stroke="#e6d195" stroke-width="0.8"/>
<circle cx="414.5" cy="354.1" r="2.4" fill="none" stroke="#e6d195" stroke-width="0.8"/>
<circle cx="391.2" cy="368.6" r="2.4" fill="none" stroke="#e6d195" stroke-width="0.8"/>
<circle cx="386.8" cy="373.8" r="2.4" fill="none" stroke="#e6d195" stroke-width="0.8"/>
<circle cx="436.2" cy="336.3" r="2.4" fill="none" stroke="#e6d195" stroke-width="0.8"/>
<circle cx="391.5" cy="371.1" r="2.4" fill="none" stroke="#e6d195" stroke-width="0.8"/>
<circle cx="392.8" cy="374.3" r="2.4" fill="none" stroke="#e6d195" stroke-width="0.8"/>
<circle cx="387.5" cy="372.3" r="2.4" fill="none" stroke="#e6d195" stroke-width="0.8"/>
<circle cx="431.3" cy="351.8" r="2.4" fill="none" stroke="#e6d195" stroke-width="0.8"/>
<circle cx="436.8" cy="332.8" r="2.4" fill="none" stroke="#e6d195" stroke-width="0.8"/>
<circle cx="392.0" cy="366.3" r="2.4" fill="none" stroke="#e6d195" stroke-width="0.8"/>
<circle cx="405.4" cy="361.7" r="2.4" fill="none" stroke="#e6d195" stroke-width="0.8"/>
<circle cx="447.2" cy="342.5" r="2.4" fill="none" stroke="#e6d195" stroke-width="0.8"/>
<circle cx="403.2" cy="361.0" r="2.4" fill="none" stroke="#e6d195" stroke-width="0.8"/>
<circle cx="399.3" cy="362.0" r="2.4" fill="none" stroke="#e6d195" stroke-width="0.8"/>
<circle cx="402.6" cy="352.9" r="2.4" fill="none" stroke="#e6d195" stroke-width="0.8"/>
<circle cx="410.3" cy="358.2" r="2.4" fill="none" stroke="#e6d195" stroke-width="0.8"/>
<circle cx="375.7" cy="379.8" r="2.4" fill="none" stroke="#e6d195" stroke-width="0.8"/>
<circle cx="447.5" cy="338.0" r="2.4" fill="none" stroke="#e6d195" stroke-width="0.8"/>
<circle cx="389.0" cy="379.5" r="2.4" fill="none" stroke="#e6d195" stroke-width="0.8"/>
<circle cx="399.6" cy="365.2" r="2.4" fill="none" stroke="#e6d195" stroke-width="0.8"/>
<circle cx="384.3" cy="377.2" r="2.4" fill="none" stroke="#e6d195" stroke-width="0.8"/>
<circle cx="383.9" cy="374.9" r="2.4" fill="none" stroke="#e6d195" stroke-width="0.8"/>
<circle cx="444.7" cy="344.9" r="2.4" fill="none" stroke="#e6d195" stroke-width="0.8"/>
<circle cx="402.0" cy="362.4" r="2.4" fill="none" stroke="#e6d195" stroke-width="0.8"/>
<circle cx="394.2" cy="371.6" r="2.4" fill="none" stroke="#e6d195" stroke-width="0.8"/>
<circle cx="400.0" cy="364.3" r="2.4" fill="none" stroke="#e6d195" stroke-width="0.8"/>
<circle cx="396.8" cy="361.9" r="2.4" fill="none" stroke="#e6d195" stroke-width="0.8"/>
<circle cx="415.6" cy="360.5" r="2.4" fill="none" stroke="#e6d195" stroke-width="0.8"/>
<circle cx="434.3" cy="344.1" r="2.4" fill="none" stroke="#e6d195" stroke-width="0.8"/>
<circle cx="390.3" cy="371.3" r="2.4" fill="none" stroke="#e6d195" stroke-width="0.8"/>
<circle cx="397.0" cy="371.5" r="2.4" fill="none" stroke="#e6d195" stroke-width="0.8"/>
<circle cx="385.7" cy="372.4" r="2.4" fill="none" stroke="#e6d195" stroke-width="0.8"/>
<circle cx="418.0" cy="350.2" r="2.4" fill="none" stroke="#e6d195" stroke-width="0.8"/>
<circle cx="409.0" cy="353.9" r="2.4" fill="none" stroke="#e6d195" stroke-width="0.8"/>
<circle cx="441.6" cy="335.7" r="2.4" fill="none" stroke="#e6d195" stroke-width="0.8"/>
<circle cx="453.1" cy="317.1" r="2.4" fill="none" stroke="#e6d195" stroke-width="0.8"/>
<circle cx="434.4" cy="342.5" r="2.4" fill="none" stroke="#e6d195" stroke-width="0.8"/>
<circle cx="386.6" cy="374.6" r="2.4" fill="none" stroke="#e6d195" stroke-width="0.8"/>
<circle cx="389.5" cy="370.7" r="2.4" fill="none" stroke="#e6d195" stroke-width="0.8"/>
<circle cx="412.3" cy="365.1" r="2.4" fill="none" stroke="#e6d195" stroke-width="0.8"/>
<circle cx="409.5" cy="353.8" r="2.4" fill="none" stroke="#e6d195" stroke-width="0.8"/>
<circle cx="377.4" cy="379.0" r="2.4" fill="none" stroke="#e6d195" stroke-width="0.8"/>
<circle cx="422.2" cy="341.9" r="2.4" fill="none" stroke="#e6d195" stroke-width="0.8"/>
<circle cx="397.6" cy="366.1" r="2.4" fill="none" stroke="#e6d195" stroke-width="0.8"/>
<circle cx="444.8" cy="338.5" r="2.4" fill="none" stroke="#e6d195" stroke-width="0.8"/>
<circle cx="409.1" cy="356.0" r="2.4" fill="none" stroke="#e6d195" stroke-width="0.8"/>
<circle cx="447.4" cy="324.1" r="2.4" fill="none" stroke="#e6d195" stroke-width="0.8"/>
<circle cx="444.7" cy="334.9" r="2.4" fill="none" stroke="#e6d195" stroke-width="0.8"/>
<circle cx="413.0" cy="359.0" r="2.4" fill="none" stroke="#e6d195" stroke-width="0.8"/>
<circle cx="431.0" cy="344.1" r="2.4" fill="none" stroke="#e6d195" stroke-width="0.8"/>
<circle cx="419.2" cy="349.0" r="2.4" fill="none" stroke="#e6d195" stroke-width="0.8"/>
<circle cx="381.1" cy="376.3" r="2.4" fill="none" stroke="#e6d195" stroke-width="0.8"/>
<circle cx="400.0" cy="359.9" r="2.4" fill="none" stroke="#e6d195" stroke-width="0.8"/>
<circle cx="413.5" cy="358.8" r="2.4" fill="none" stroke="#e6d195" stroke-width="0.8"/>
<circle cx="375.1" cy="380.3" r="2.4" fill="none" stroke="#e6d195" stroke-width="0.8"/>
<circle cx="423.3" cy="342.0" r="2.4" fill="none" stroke="#e6d195" stroke-width="0.8"/>
<circle cx="380.7" cy="373.7" r="2.4" fill="none" stroke="#e6d195" stroke-width="0.8"/>
<circle cx="452.4" cy="336.1" r="2.4" fill="none" stroke="#e6d195" stroke-width="0.8"/>
<circle cx="407.6" cy="360.4" r="2.4" fill="none" stroke="#e6d195" stroke-width="0.8"/>
<circle cx="440.1" cy="342.3" r="2.4" fill="none" stroke="#e6d195" stroke-width="0.8"/>
<circle cx="392.8" cy="367.5" r="2.4" fill="none" stroke="#e6d195" stroke-width="0.8"/>
<circle cx="416.9" cy="357.2" r="2.4" fill="none" stroke="#e6d195" stroke-width="0.8"/>
<circle cx="411.5" cy="355.9" r="2.4" fill="none" stroke="#e6d195" stroke-width="0.8"/>
<circle cx="412.6" cy="343.0" r="2.4" fill="none" stroke="#e6d195" stroke-width="0.8"/>
<circle cx="388.4" cy="368.6" r="2.4" fill="none" stroke="#e6d195" stroke-width="0.8"/>
<circle cx="453.1" cy="332.5" r="2.4" fill="none" stroke="#e6d195" stroke-width="0.8"/>
<circle cx="427.8" cy="349.9" r="2.4" fill="none" stroke="#e6d195" stroke-width="0.8"/>
<circle cx="437.7" cy="329.8" r="2.4" fill="none" stroke="#e6d195" stroke-width="0.8"/>
<circle cx="438.9" cy="344.3" r="2.4" fill="none" stroke="#e6d195" stroke-width="0.8"/>
<circle cx="376.3" cy="377.0" r="2.4" fill="none" stroke="#e6d195" stroke-width="0.8"/>
<circle cx="412.2" cy="337.2" r="2.4" fill="none" stroke="#e6d195" stroke-width="0.8"/>
<circle cx="425.5" cy="327.9" r="2.4" fill="none" stroke="#e6d195" stroke-width="0.8"/>
<circle cx="441.6" cy="323.2" r="2.4" fill="none" stroke="#e6d195" stroke-width="0.8"/>
<circle cx="398.2" cy="346.9" r="2.4" fill="none" stroke="#e6d195" stroke-width="0.8"/>
<circle cx="400.5" cy="340.7" r="2.4" fill="none" stroke="#e6d195" stroke-width="0.8"/>
<circle cx="438.6" cy="330.3" r="2.4" fill="none" stroke="#e6d195" stroke-width="0.8"/>
<circle cx="404.3" cy="343.1" r="2.4" fill="none" stroke="#e6d195" stroke-width="0.8"/>
<circle cx="432.9" cy="322.6" r="2.4" fill="none" stroke="#e6d195" stroke-width="0.8"/>
<circle cx="426.1" cy="340.1" r="2.4" fill="none" stroke="#e6d195" stroke-width="0.8"/>
<circle cx="431.3" cy="338.3" r="2.4" fill="none" stroke="#e6d195" stroke-width="0.8"/>
<circle cx="438.4" cy="323.0" r="2.4" fill="none" stroke="#e6d195" stroke-width="0.8"/>
<circle cx="434.3" cy="323.6" r="2.4" fill="none" stroke="#e6d195" stroke-width="0.8"/>
<circle cx="423.5" cy="328.5" r="2.4" fill="none" stroke="#e6d195" stroke-width="0.8"/>
<circle cx="427.0" cy="333.8" r="2.4" fill="none" stroke="#e6d195" stroke-width="0.8"/>
<circle cx="414.2" cy="343.1" r="2.4" fill="none" stroke="#e6d195" stroke-width="0.8"/>
<circle cx="396.1" cy="356.2" r="2.4" fill="none" stroke="#e6d195" stroke-width="0.8"/>
<circle cx="434.8" cy="333.7" r="2.4" fill="none" stroke="#e6d195" stroke-width="0.8"/>
<circle cx="427.7" cy="328.9" r="2.4" fill="none" stroke="#e6d195" stroke-width="0.8"/>
<circle cx="429.7" cy="331.9" r="2.4" fill="none" stroke="#e6d195" stroke-width="0.8"/>
<circle cx="410.8" cy="346.3" r="2.4" fill="none" stroke="#e6d195" stroke-width="0.8"/>
<circle cx="404.4" cy="343.8" r="2.4" fill="none" stroke="#e6d195" stroke-width="0.8"/>
<circle cx="429.3" cy="325.3" r="2.4" fill="none" stroke="#e6d195" stroke-width="0.8"/>
<circle cx="485.6" cy="327.0" r="2.4" fill="none" stroke="#e6d195" stroke-width="0.8"/>
<circle cx="480.1" cy="318.3" r="2.4" fill="none" stroke="#e6d195" stroke-width="0.8"/>
<circle cx="590.7" cy="253.3" r="2.4" fill="none" stroke="#e6d195" stroke-width="0.8"/>
<circle cx="557.5" cy="272.2" r="2.4" fill="none" stroke="#e6d195" stroke-width="0.8"/>
<circle cx="486.0" cy="318.0" r="2.4" fill="none" stroke="#e6d195" stroke-width="0.8"/>
<circle cx="509.0" cy="310.9" r="2.4" fill="none" stroke="#e6d195" stroke-width="0.8"/>
<circle cx="451.9" cy="341.0" r="2.4" fill="none" stroke="#e6d195" stroke-width="0.8"/>
<circle cx="506.7" cy="303.7" r="2.4" fill="none" stroke="#e6d195" stroke-width="0.8"/>
<circle cx="552.2" cy="282.2" r="2.4" fill="none" stroke="#e6d195" stroke-width="0.8"/>
<circle cx="524.0" cy="300.5" r="2.4" fill="none" stroke="#e6d195" stroke-width="0.8"/>
<circle cx="473.6" cy="325.1" r="2.4" fill="none" stroke="#e6d195" stroke-width="0.8"/>
<circle cx="453.2" cy="338.4" r="2.4" fill="none" stroke="#e6d195" stroke-width="0.8"/>
<circle cx="489.1" cy="307.6" r="2.4" fill="none" stroke="#e6d195" stroke-width="0.8"/>
<circle cx="533.9" cy="290.7" r="2.4" fill="none" stroke="#e6d195" stroke-width="0.8"/>
<circle cx="497.7" cy="310.0" r="2.4" fill="none" stroke="#e6d195" stroke-width="0.8"/>
<circle cx="506.8" cy="309.0" r="2.4" fill="none" stroke="#e6d195" stroke-width="0.8"/>
<circle cx="592.1" cy="263.1" r="2.4" fill="none" stroke="#e6d195" stroke-width="0.8"/>
<circle cx="541.8" cy="290.9" r="2.4" fill="none" stroke="#e6d195" stroke-width="0.8"/>
<circle cx="555.4" cy="275.0" r="2.4" fill="none" stroke="#e6d195" stroke-width="0.8"/>
<circle cx="588.1" cy="260.3" r="2.4" fill="none" stroke="#e6d195" stroke-width="0.8"/>
<circle cx="581.3" cy="266.0" r="2.4" fill="none" stroke="#e6d195" stroke-width="0.8"/>
<circle cx="599.5" cy="260.9" r="2.4" fill="none" stroke="#e6d195" stroke-width="0.8"/>
<circle cx="515.3" cy="305.2" r="2.4" fill="none" stroke="#e6d195" stroke-width="0.8"/>
<circle cx="453.6" cy="343.2" r="2.4" fill="none" stroke="#e6d195" stroke-width="0.8"/>
<circle cx="462.8" cy="328.8" r="2.4" fill="none" stroke="#e6d195" stroke-width="0.8"/>
<circle cx="547.8" cy="283.6" r="2.4" fill="none" stroke="#e6d195" stroke-width="0.8"/>
<circle cx="549.1" cy="281.0" r="2.4" fill="none" stroke="#e6d195" stroke-width="0.8"/>
<circle cx="535.3" cy="297.7" r="2.4" fill="none" stroke="#e6d195" stroke-width="0.8"/>
<circle cx="545.4" cy="281.8" r="2.4" fill="none" stroke="#e6d195" stroke-width="0.8"/>
<circle cx="458.2" cy="335.5" r="2.4" fill="none" stroke="#e6d195" stroke-width="0.8"/>
<circle cx="507.0" cy="315.3" r="2.4" fill="none" stroke="#e6d195" stroke-width="0.8"/>
<circle cx="453.5" cy="334.6" r="2.4" fill="none" stroke="#e6d195" stroke-width="0.8"/>
<circle cx="454.8" cy="335.5" r="2.4" fill="none" stroke="#e6d195" stroke-width="0.8"/>
<circle cx="501.2" cy="316.6" r="2.4" fill="none" stroke="#e6d195" stroke-width="0.8"/>
<circle cx="460.3" cy="328.5" r="2.4" fill="none" stroke="#e6d195" stroke-width="0.8"/>
<circle cx="552.2" cy="284.5" r="2.4" fill="none" stroke="#e6d195" stroke-width="0.8"/>
<circle cx="496.0" cy="309.8" r="2.4" fill="none" stroke="#e6d195" stroke-width="0.8"/>
<circle cx="529.8" cy="289.7" r="2.4" fill="none" stroke="#e6d195" stroke-width="0.8"/>
<circle cx="452.8" cy="336.8" r="2.4" fill="none" stroke="#e6d195" stroke-width="0.8"/>
<circle cx="453.4" cy="334.9" r="2.4" fill="none" stroke="#e6d195" stroke-width="0.8"/>
<circle cx="411.7" cy="366.8" r="2.4" fill="none" stroke="#8fa3dd" stroke-width="0.8"/>
<circle cx="404.5" cy="369.2" r="2.4" fill="none" stroke="#8fa3dd" stroke-width="0.8"/>
<circle cx="411.2" cy="374.9" r="2.4" fill="none" stroke="#8fa3dd" stroke-width="0.8"/>
<circle cx="447.1" cy="351.6" r="2.4" fill="none" stroke="#8fa3dd" stroke-width="0.8"/>
<circle cx="412.8" cy="360.4" r="2.4" fill="none" stroke="#8fa3dd" stroke-width="0.8"/>
<circle cx="460.3" cy="333.9" r="2.4" fill="none" stroke="#8fa3dd" stroke-width="0.8"/>
<circle cx="383.7" cy="380.1" r="2.4" fill="none" stroke="#8fa3dd" stroke-width="0.8"/>
<circle cx="448.5" cy="346.5" r="2.4" fill="none" stroke="#8fa3dd" stroke-width="0.8"/>
<circle cx="414.8" cy="358.7" r="2.4" fill="none" stroke="#8fa3dd" stroke-width="0.8"/>
<circle cx="450.6" cy="344.6" r="2.4" fill="none" stroke="#8fa3dd" stroke-width="0.8"/>
<circle cx="393.7" cy="377.4" r="2.4" fill="none" stroke="#8fa3dd" stroke-width="0.8"/>
<circle cx="409.5" cy="358.5" r="2.4" fill="none" stroke="#8fa3dd" stroke-width="0.8"/>
<circle cx="402.4" cy="365.2" r="2.4" fill="none" stroke="#8fa3dd" stroke-width="0.8"/>
<circle cx="398.3" cy="374.8" r="2.4" fill="none" stroke="#8fa3dd" stroke-width="0.8"/>
<circle cx="425.3" cy="353.2" r="2.4" fill="none" stroke="#8fa3dd" stroke-width="0.8"/>
<circle cx="439.4" cy="350.8" r="2.4" fill="none" stroke="#8fa3dd" stroke-width="0.8"/>
<circle cx="410.1" cy="355.6" r="2.4" fill="none" stroke="#8fa3dd" stroke-width="0.8"/>
<circle cx="410.0" cy="367.5" r="2.4" fill="none" stroke="#8fa3dd" stroke-width="0.8"/>
<circle cx="403.3" cy="380.7" r="2.4" fill="none" stroke="#8fa3dd" stroke-width="0.8"/>
<circle cx="440.6" cy="339.6" r="2.4" fill="none" stroke="#8fa3dd" stroke-width="0.8"/>
<circle cx="405.4" cy="364.6" r="2.4" fill="none" stroke="#8fa3dd" stroke-width="0.8"/>
<circle cx="396.7" cy="366.4" r="2.4" fill="none" stroke="#8fa3dd" stroke-width="0.8"/>
<circle cx="434.7" cy="358.2" r="2.4" fill="none" stroke="#8fa3dd" stroke-width="0.8"/>
<circle cx="429.5" cy="352.1" r="2.4" fill="none" stroke="#8fa3dd" stroke-width="0.8"/>
<circle cx="408.3" cy="364.8" r="2.4" fill="none" stroke="#8fa3dd" stroke-width="0.8"/>
<circle cx="439.2" cy="345.7" r="2.4" fill="none" stroke="#8fa3dd" stroke-width="0.8"/>
<circle cx="417.5" cy="365.9" r="2.4" fill="none" stroke="#8fa3dd" stroke-width="0.8"/>
<circle cx="433.5" cy="351.4" r="2.4" fill="none" stroke="#8fa3dd" stroke-width="0.8"/>
<circle cx="377.6" cy="377.5" r="2.4" fill="none" stroke="#8fa3dd" stroke-width="0.8"/>
<circle cx="393.8" cy="379.6" r="2.4" fill="none" stroke="#8fa3dd" stroke-width="0.8"/>
<circle cx="424.3" cy="358.3" r="2.4" fill="none" stroke="#8fa3dd" stroke-width="0.8"/>
<circle cx="461.4" cy="340.5" r="2.4" fill="none" stroke="#8fa3dd" stroke-width="0.8"/>
<circle cx="389.1" cy="379.6" r="2.4" fill="none" stroke="#8fa3dd" stroke-width="0.8"/>
<circle cx="421.5" cy="358.1" r="2.4" fill="none" stroke="#8fa3dd" stroke-width="0.8"/>
<circle cx="444.1" cy="348.3" r="2.4" fill="none" stroke="#8fa3dd" stroke-width="0.8"/>
<circle cx="422.2" cy="354.4" r="2.4" fill="none" stroke="#8fa3dd" stroke-width="0.8"/>
<circle cx="433.6" cy="352.5" r="2.4" fill="none" stroke="#8fa3dd" stroke-width="0.8"/>
<circle cx="421.1" cy="351.0" r="2.4" fill="none" stroke="#8fa3dd" stroke-width="0.8"/>
<circle cx="393.2" cy="373.9" r="2.4" fill="none" stroke="#8fa3dd" stroke-width="0.8"/>
<circle cx="418.0" cy="355.0" r="2.4" fill="none" stroke="#8fa3dd" stroke-width="0.8"/>
<circle cx="460.7" cy="341.7" r="2.4" fill="none" stroke="#8fa3dd" stroke-width="0.8"/>
<circle cx="399.0" cy="378.9" r="2.4" fill="none" stroke="#8fa3dd" stroke-width="0.8"/>
<circle cx="434.9" cy="354.9" r="2.4" fill="none" stroke="#8fa3dd" stroke-width="0.8"/>
<circle cx="420.0" cy="358.7" r="2.4" fill="none" stroke="#8fa3dd" stroke-width="0.8"/>
<circle cx="416.5" cy="358.9" r="2.4" fill="none" stroke="#8fa3dd" stroke-width="0.8"/>
<circle cx="425.4" cy="356.8" r="2.4" fill="none" stroke="#8fa3dd" stroke-width="0.8"/>
<circle cx="451.3" cy="339.4" r="2.4" fill="none" stroke="#8fa3dd" stroke-width="0.8"/>
<circle cx="442.6" cy="343.1" r="2.4" fill="none" stroke="#8fa3dd" stroke-width="0.8"/>
<circle cx="407.0" cy="371.7" r="2.4" fill="none" stroke="#8fa3dd" stroke-width="0.8"/>
<circle cx="410.5" cy="370.9" r="2.4" fill="none" stroke="#8fa3dd" stroke-width="0.8"/>
<circle cx="416.7" cy="368.4" r="2.4" fill="none" stroke="#8fa3dd" stroke-width="0.8"/>
<circle cx="457.3" cy="337.6" r="2.4" fill="none" stroke="#8fa3dd" stroke-width="0.8"/>
<circle cx="401.3" cy="371.0" r="2.4" fill="none" stroke="#8fa3dd" stroke-width="0.8"/>
<circle cx="397.1" cy="371.4" r="2.4" fill="none" stroke="#8fa3dd" stroke-width="0.8"/>
<circle cx="431.6" cy="349.6" r="2.4" fill="none" stroke="#8fa3dd" stroke-width="0.8"/>
<circle cx="403.6" cy="360.8" r="2.4" fill="none" stroke="#8fa3dd" stroke-width="0.8"/>
<circle cx="394.9" cy="370.8" r="2.4" fill="none" stroke="#8fa3dd" stroke-width="0.8"/>
<circle cx="378.0" cy="389.5" r="2.4" fill="none" stroke="#8fa3dd" stroke-width="0.8"/>
<circle cx="403.2" cy="368.3" r="2.4" fill="none" stroke="#8fa3dd" stroke-width="0.8"/>
<circle cx="397.9" cy="370.5" r="2.4" fill="none" stroke="#8fa3dd" stroke-width="0.8"/>
<circle cx="449.2" cy="346.2" r="2.4" fill="none" stroke="#8fa3dd" stroke-width="0.8"/>
<circle cx="387.7" cy="377.4" r="2.4" fill="none" stroke="#8fa3dd" stroke-width="0.8"/>
<circle cx="383.5" cy="389.0" r="2.4" fill="none" stroke="#8fa3dd" stroke-width="0.8"/>
<circle cx="436.1" cy="355.0" r="2.4" fill="none" stroke="#8fa3dd" stroke-width="0.8"/>
<circle cx="394.2" cy="367.4" r="2.4" fill="none" stroke="#8fa3dd" stroke-width="0.8"/>
<circle cx="378.2" cy="385.1" r="2.4" fill="none" stroke="#8fa3dd" stroke-width="0.8"/>
<circle cx="443.9" cy="348.0" r="2.4" fill="none" stroke="#8fa3dd" stroke-width="0.8"/>
<circle cx="432.7" cy="349.8" r="2.4" fill="none" stroke="#8fa3dd" stroke-width="0.8"/>
<circle cx="432.3" cy="347.3" r="2.4" fill="none" stroke="#8fa3dd" stroke-width="0.8"/>
<circle cx="390.7" cy="386.0" r="2.4" fill="none" stroke="#8fa3dd" stroke-width="0.8"/>
<circle cx="411.7" cy="362.7" r="2.4" fill="none" stroke="#8fa3dd" stroke-width="0.8"/>
<circle cx="443.2" cy="351.2" r="2.4" fill="none" stroke="#8fa3dd" stroke-width="0.8"/>
<circle cx="420.3" cy="348.4" r="2.4" fill="none" stroke="#8fa3dd" stroke-width="0.8"/>
<circle cx="391.1" cy="367.6" r="2.4" fill="none" stroke="#8fa3dd" stroke-width="0.8"/>
<circle cx="391.0" cy="374.9" r="2.4" fill="none" stroke="#8fa3dd" stroke-width="0.8"/>
<circle cx="458.4" cy="335.4" r="2.4" fill="none" stroke="#8fa3dd" stroke-width="0.8"/>
<circle cx="400.4" cy="366.5" r="2.4" fill="none" stroke="#8fa3dd" stroke-width="0.8"/>
<circle cx="444.7" cy="347.3" r="2.4" fill="none" stroke="#8fa3dd" stroke-width="0.8"/>
<circle cx="453.4" cy="338.9" r="2.4" fill="none" stroke="#8fa3dd" stroke-width="0.8"/>
<circle cx="401.5" cy="368.0" r="2.4" fill="none" stroke="#8fa3dd" stroke-width="0.8"/>
<circle cx="433.0" cy="354.4" r="2.4" fill="none" stroke="#8fa3dd" stroke-width="0.8"/>
<circle cx="449.1" cy="352.9" r="2.4" fill="none" stroke="#8fa3dd" stroke-width="0.8"/>
<circle cx="391.3" cy="374.5" r="2.4" fill="none" stroke="#8fa3dd" stroke-width="0.8"/>
<circle cx="434.2" cy="354.3" r="2.4" fill="none" stroke="#8fa3dd" stroke-width="0.8"/>
<circle cx="379.2" cy="383.4" r="2.4" fill="none" stroke="#8fa3dd" stroke-width="0.8"/>
<circle cx="446.1" cy="342.9" r="2.4" fill="none" stroke="#8fa3dd" stroke-width="0.8"/>
<circle cx="417.9" cy="359.2" r="2.4" fill="none" stroke="#8fa3dd" stroke-width="0.8"/>
<circle cx="379.0" cy="382.9" r="2.4" fill="none" stroke="#8fa3dd" stroke-width="0.8"/>
<circle cx="401.4" cy="377.6" r="2.4" fill="none" stroke="#8fa3dd" stroke-width="0.8"/>
<circle cx="448.2" cy="342.7" r="2.4" fill="none" stroke="#8fa3dd" stroke-width="0.8"/>
<circle cx="380.1" cy="384.3" r="2.4" fill="none" stroke="#8fa3dd" stroke-width="0.8"/>
<circle cx="432.1" cy="353.4" r="2.4" fill="none" stroke="#8fa3dd" stroke-width="0.8"/>
<circle cx="387.6" cy="378.0" r="2.4" fill="none" stroke="#8fa3dd" stroke-width="0.8"/>
<circle cx="432.0" cy="360.2" r="2.4" fill="none" stroke="#8fa3dd" stroke-width="0.8"/>
<circle cx="398.9" cy="368.3" r="2.4" fill="none" stroke="#8fa3dd" stroke-width="0.8"/>
<circle cx="419.5" cy="361.1" r="2.4" fill="none" stroke="#8fa3dd" stroke-width="0.8"/>
<circle cx="401.6" cy="368.3" r="2.4" fill="none" stroke="#8fa3dd" stroke-width="0.8"/>
<circle cx="396.4" cy="376.7" r="2.4" fill="none" stroke="#8fa3dd" stroke-width="0.8"/>
<circle cx="394.0" cy="379.6" r="2.4" fill="none" stroke="#8fa3dd" stroke-width="0.8"/>
<circle cx="422.3" cy="359.0" r="2.4" fill="none" stroke="#8fa3dd" stroke-width="0.8"/>
<circle cx="394.6" cy="382.2" r="2.4" fill="none" stroke="#8fa3dd" stroke-width="0.8"/>
<circle cx="411.3" cy="371.4" r="2.4" fill="none" stroke="#8fa3dd" stroke-width="0.8"/>
<circle cx="415.0" cy="358.9" r="2.4" fill="none" stroke="#8fa3dd" stroke-width="0.8"/>
<circle cx="437.6" cy="359.2" r="2.4" fill="none" stroke="#8fa3dd" stroke-width="0.8"/>
<circle cx="425.1" cy="352.8" r="2.4" fill="none" stroke="#8fa3dd" stroke-width="0.8"/>
<circle cx="414.0" cy="357.0" r="2.4" fill="none" stroke="#8fa3dd" stroke-width="0.8"/>
<circle cx="406.4" cy="363.4" r="2.4" fill="none" stroke="#8fa3dd" stroke-width="0.8"/>
<circle cx="411.2" cy="368.9" r="2.4" fill="none" stroke="#8fa3dd" stroke-width="0.8"/>
<circle cx="416.6" cy="353.3" r="2.4" fill="none" stroke="#8fa3dd" stroke-width="0.8"/>
<circle cx="451.2" cy="339.7" r="2.4" fill="none" stroke="#8fa3dd" stroke-width="0.8"/>
<circle cx="391.1" cy="381.1" r="2.4" fill="none" stroke="#8fa3dd" stroke-width="0.8"/>
<circle cx="378.4" cy="385.0" r="2.4" fill="none" stroke="#8fa3dd" stroke-width="0.8"/>
<circle cx="441.7" cy="344.2" r="2.4" fill="none" stroke="#8fa3dd" stroke-width="0.8"/>
<circle cx="388.7" cy="375.6" r="2.4" fill="none" stroke="#8fa3dd" stroke-width="0.8"/>
<circle cx="448.8" cy="346.9" r="2.4" fill="none" stroke="#8fa3dd" stroke-width="0.8"/>
<circle cx="431.6" cy="346.6" r="2.4" fill="none" stroke="#8fa3dd" stroke-width="0.8"/>
<circle cx="436.7" cy="345.3" r="2.4" fill="none" stroke="#8fa3dd" stroke-width="0.8"/>
<circle cx="418.7" cy="362.1" r="2.4" fill="none" stroke="#8fa3dd" stroke-width="0.8"/>
<circle cx="450.0" cy="353.4" r="2.4" fill="none" stroke="#8fa3dd" stroke-width="0.8"/>
<circle cx="445.5" cy="344.3" r="2.4" fill="none" stroke="#8fa3dd" stroke-width="0.8"/>
<circle cx="380.8" cy="383.3" r="2.4" fill="none" stroke="#8fa3dd" stroke-width="0.8"/>
<circle cx="417.9" cy="374.5" r="2.4" fill="none" stroke="#8fa3dd" stroke-width="0.8"/>
<circle cx="415.3" cy="359.0" r="2.4" fill="none" stroke="#8fa3dd" stroke-width="0.8"/>
<circle cx="415.5" cy="371.8" r="2.4" fill="none" stroke="#8fa3dd" stroke-width="0.8"/>
<circle cx="461.0" cy="349.8" r="2.4" fill="none" stroke="#8fa3dd" stroke-width="0.8"/>
<circle cx="377.5" cy="392.2" r="2.4" fill="none" stroke="#8fa3dd" stroke-width="0.8"/>
<circle cx="385.6" cy="374.7" r="2.4" fill="none" stroke="#8fa3dd" stroke-width="0.8"/>
<circle cx="383.1" cy="386.3" r="2.4" fill="none" stroke="#8fa3dd" stroke-width="0.8"/>
<circle cx="419.6" cy="365.1" r="2.4" fill="none" stroke="#8fa3dd" stroke-width="0.8"/>
<circle cx="438.4" cy="347.1" r="2.4" fill="none" stroke="#8fa3dd" stroke-width="0.8"/>
<circle cx="422.3" cy="355.9" r="2.4" fill="none" stroke="#8fa3dd" stroke-width="0.8"/>
<circle cx="410.8" cy="363.8" r="2.4" fill="none" stroke="#8fa3dd" stroke-width="0.8"/>
<circle cx="451.9" cy="339.5" r="2.4" fill="none" stroke="#8fa3dd" stroke-width="0.8"/>
<circle cx="409.3" cy="363.1" r="2.4" fill="none" stroke="#8fa3dd" stroke-width="0.8"/>
<circle cx="417.9" cy="357.8" r="2.4" fill="none" stroke="#8fa3dd" stroke-width="0.8"/>
<circle cx="426.0" cy="362.0" r="2.4" fill="none" stroke="#8fa3dd" stroke-width="0.8"/>
<circle cx="377.7" cy="386.2" r="2.4" fill="none" stroke="#8fa3dd" stroke-width="0.8"/>
<circle cx="390.4" cy="384.5" r="2.4" fill="none" stroke="#8fa3dd" stroke-width="0.8"/>
<circle cx="380.7" cy="383.4" r="2.4" fill="none" stroke="#8fa3dd" stroke-width="0.8"/>
<circle cx="457.7" cy="333.2" r="2.4" fill="none" stroke="#8fa3dd" stroke-width="0.8"/>
<circle cx="419.3" cy="366.1" r="2.4" fill="none" stroke="#8fa3dd" stroke-width="0.8"/>
<circle cx="394.1" cy="379.4" r="2.4" fill="none" stroke="#8fa3dd" stroke-width="0.8"/>
<circle cx="443.4" cy="344.8" r="2.4" fill="none" stroke="#8fa3dd" stroke-width="0.8"/>
<circle cx="379.7" cy="375.3" r="2.4" fill="none" stroke="#8fa3dd" stroke-width="0.8"/>
<circle cx="378.5" cy="385.2" r="2.4" fill="none" stroke="#8fa3dd" stroke-width="0.8"/>
<circle cx="389.5" cy="375.3" r="2.4" fill="none" stroke="#8fa3dd" stroke-width="0.8"/>
<circle cx="378.3" cy="387.4" r="2.4" fill="none" stroke="#8fa3dd" stroke-width="0.8"/>
<circle cx="457.7" cy="342.5" r="2.4" fill="none" stroke="#8fa3dd" stroke-width="0.8"/>
<circle cx="398.8" cy="371.9" r="2.4" fill="none" stroke="#8fa3dd" stroke-width="0.8"/>
<circle cx="388.2" cy="388.0" r="2.4" fill="none" stroke="#8fa3dd" stroke-width="0.8"/>
<circle cx="426.3" cy="347.4" r="2.4" fill="none" stroke="#8fa3dd" stroke-width="0.8"/>
<circle cx="379.0" cy="376.3" r="2.4" fill="none" stroke="#8fa3dd" stroke-width="0.8"/>
<circle cx="419.7" cy="353.2" r="2.4" fill="none" stroke="#8fa3dd" stroke-width="0.8"/>
<circle cx="393.3" cy="381.9" r="2.4" fill="none" stroke="#8fa3dd" stroke-width="0.8"/>
<circle cx="433.8" cy="354.1" r="2.4" fill="none" stroke="#8fa3dd" stroke-width="0.8"/>
<circle cx="458.8" cy="342.4" r="2.4" fill="none" stroke="#8fa3dd" stroke-width="0.8"/>
<circle cx="392.3" cy="374.2" r="2.4" fill="none" stroke="#8fa3dd" stroke-width="0.8"/>
<circle cx="430.0" cy="365.0" r="2.4" fill="none" stroke="#8fa3dd" stroke-width="0.8"/>
<circle cx="380.3" cy="384.8" r="2.4" fill="none" stroke="#8fa3dd" stroke-width="0.8"/>
<circle cx="396.2" cy="377.3" r="2.4" fill="none" stroke="#8fa3dd" stroke-width="0.8"/>
<circle cx="446.4" cy="340.1" r="2.4" fill="none" stroke="#8fa3dd" stroke-width="0.8"/>
<circle cx="429.5" cy="341.0" r="2.4" fill="none" stroke="#8fa3dd" stroke-width="0.8"/>
<circle cx="425.6" cy="350.7" r="2.4" fill="none" stroke="#8fa3dd" stroke-width="0.8"/>
<circle cx="413.4" cy="369.1" r="2.4" fill="none" stroke="#8fa3dd" stroke-width="0.8"/>
<circle cx="379.8" cy="378.7" r="2.4" fill="none" stroke="#8fa3dd" stroke-width="0.8"/>
<circle cx="416.8" cy="362.1" r="2.4" fill="none" stroke="#8fa3dd" stroke-width="0.8"/>
<circle cx="379.3" cy="398.0" r="2.4" fill="none" stroke="#8fa3dd" stroke-width="0.8"/>
<circle cx="402.9" cy="372.5" r="2.4" fill="none" stroke="#8fa3dd" stroke-width="0.8"/>
<circle cx="399.5" cy="376.0" r="2.4" fill="none" stroke="#8fa3dd" stroke-width="0.8"/>
<circle cx="453.4" cy="345.6" r="2.4" fill="none" stroke="#8fa3dd" stroke-width="0.8"/>
<circle cx="387.9" cy="373.0" r="2.4" fill="none" stroke="#8fa3dd" stroke-width="0.8"/>
<circle cx="438.7" cy="348.9" r="2.4" fill="none" stroke="#8fa3dd" stroke-width="0.8"/>
<circle cx="419.8" cy="360.2" r="2.4" fill="none" stroke="#8fa3dd" stroke-width="0.8"/>
<circle cx="434.7" cy="354.5" r="2.4" fill="none" stroke="#8fa3dd" stroke-width="0.8"/>
<circle cx="381.0" cy="383.8" r="2.4" fill="none" stroke="#8fa3dd" stroke-width="0.8"/>
<circle cx="388.5" cy="377.5" r="2.4" fill="none" stroke="#8fa3dd" stroke-width="0.8"/>
<circle cx="411.2" cy="369.0" r="2.4" fill="none" stroke="#8fa3dd" stroke-width="0.8"/>
<circle cx="436.8" cy="344.3" r="2.4" fill="none" stroke="#8fa3dd" stroke-width="0.8"/>
<circle cx="438.2" cy="348.9" r="2.4" fill="none" stroke="#8fa3dd" stroke-width="0.8"/>
<circle cx="444.5" cy="343.9" r="2.4" fill="none" stroke="#8fa3dd" stroke-width="0.8"/>
<circle cx="385.6" cy="380.9" r="2.4" fill="none" stroke="#8fa3dd" stroke-width="0.8"/>
<circle cx="378.2" cy="385.7" r="2.4" fill="none" stroke="#8fa3dd" stroke-width="0.8"/>
<circle cx="449.6" cy="340.9" r="2.4" fill="none" stroke="#8fa3dd" stroke-width="0.8"/>
<circle cx="379.1" cy="385.4" r="2.4" fill="none" stroke="#8fa3dd" stroke-width="0.8"/>
<circle cx="446.6" cy="335.3" r="2.4" fill="none" stroke="#8fa3dd" stroke-width="0.8"/>
<circle cx="378.6" cy="377.6" r="2.4" fill="none" stroke="#8fa3dd" stroke-width="0.8"/>
<circle cx="383.2" cy="380.9" r="2.4" fill="none" stroke="#8fa3dd" stroke-width="0.8"/>
<circle cx="383.2" cy="384.8" r="2.4" fill="none" stroke="#8fa3dd" stroke-width="0.8"/>
<circle cx="389.4" cy="376.0" r="2.4" fill="none" stroke="#8fa3dd" stroke-width="0.8"/>
<circle cx="387.0" cy="377.0" r="2.4" fill="none" stroke="#8fa3dd" stroke-width="0.8"/>
<circle cx="525.9" cy="293.2" r="2.4" fill="none" stroke="#8fa3dd" stroke-width="0.8"/>
<circle cx="531.1" cy="293.8" r="2.4" fill="none" stroke="#8fa3dd" stroke-width="0.8"/>
<circle cx="521.5" cy="293.7" r="2.4" fill="none" stroke="#8fa3dd" stroke-width="0.8"/>
<circle cx="458.1" cy="338.3" r="2.4" fill="none" stroke="#8fa3dd" stroke-width="0.8"/>
<circle cx="538.7" cy="288.9" r="2.4" fill="none" stroke="#8fa3dd" stroke-width="0.8"/>
<circle cx="455.5" cy="340.3" r="2.4" fill="none" stroke="#8fa3dd" stroke-width="0.8"/>
<circle cx="585.0" cy="256.4" r="2.4" fill="none" stroke="#8fa3dd" stroke-width="0.8"/>
<circle cx="526.9" cy="292.1" r="2.4" fill="none" stroke="#8fa3dd" stroke-width="0.8"/>
<circle cx="594.2" cy="257.8" r="2.4" fill="none" stroke="#8fa3dd" stroke-width="0.8"/>
<circle cx="554.1" cy="281.7" r="2.4" fill="none" stroke="#8fa3dd" stroke-width="0.8"/>
<circle cx="500.8" cy="307.2" r="2.4" fill="none" stroke="#8fa3dd" stroke-width="0.8"/>
<circle cx="458.2" cy="325.4" r="2.4" fill="none" stroke="#8fa3dd" stroke-width="0.8"/>
<circle cx="488.2" cy="315.3" r="2.4" fill="none" stroke="#8fa3dd" stroke-width="0.8"/>
<circle cx="567.1" cy="278.0" r="2.4" fill="none" stroke="#8fa3dd" stroke-width="0.8"/>
<circle cx="552.7" cy="281.8" r="2.4" fill="none" stroke="#8fa3dd" stroke-width="0.8"/>
<circle cx="504.0" cy="306.7" r="2.4" fill="none" stroke="#8fa3dd" stroke-width="0.8"/>
<circle cx="578.9" cy="264.0" r="2.4" fill="none" stroke="#8fa3dd" stroke-width="0.8"/>
<circle cx="601.4" cy="248.4" r="2.4" fill="none" stroke="#8fa3dd" stroke-width="0.8"/>
<circle cx="559.6" cy="278.0" r="2.4" fill="none" stroke="#8fa3dd" stroke-width="0.8"/>
<circle cx="537.1" cy="285.2" r="2.4" fill="none" stroke="#8fa3dd" stroke-width="0.8"/>
<circle cx="597.6" cy="257.5" r="2.4" fill="none" stroke="#8fa3dd" stroke-width="0.8"/>
<circle cx="585.4" cy="256.5" r="2.4" fill="none" stroke="#8fa3dd" stroke-width="0.8"/>
<circle cx="604.8" cy="252.1" r="2.4" fill="none" stroke="#8fa3dd" stroke-width="0.8"/>
<circle cx="597.9" cy="247.1" r="2.4" fill="none" stroke="#8fa3dd" stroke-width="0.8"/>
<circle cx="469.6" cy="323.4" r="2.4" fill="none" stroke="#8fa3dd" stroke-width="0.8"/>
<circle cx="468.2" cy="332.4" r="2.4" fill="none" stroke="#8fa3dd" stroke-width="0.8"/>
<circle cx="566.5" cy="277.0" r="2.4" fill="none" stroke="#8fa3dd" stroke-width="0.8"/>
<circle cx="487.5" cy="320.1" r="2.4" fill="none" stroke="#8fa3dd" stroke-width="0.8"/>
<circle cx="493.6" cy="311.8" r="2.4" fill="none" stroke="#8fa3dd" stroke-width="0.8"/>
<circle cx="512.2" cy="301.3" r="2.4" fill="none" stroke="#8fa3dd" stroke-width="0.8"/>
<circle cx="579.7" cy="266.9" r="2.4" fill="none" stroke="#8fa3dd" stroke-width="0.8"/>
<circle cx="499.8" cy="310.1" r="2.4" fill="none" stroke="#8fa3dd" stroke-width="0.8"/>
<circle cx="551.7" cy="283.1" r="2.4" fill="none" stroke="#8fa3dd" stroke-width="0.8"/>
<circle cx="476.6" cy="332.2" r="2.4" fill="none" stroke="#8fa3dd" stroke-width="0.8"/>
<circle cx="529.3" cy="292.9" r="2.4" fill="none" stroke="#8fa3dd" stroke-width="0.8"/>
<circle cx="455.0" cy="337.0" r="2.4" fill="none" stroke="#8fa3dd" stroke-width="0.8"/>
<circle cx="455.1" cy="335.1" r="2.4" fill="none" stroke="#8fa3dd" stroke-width="0.8"/>
<circle cx="603.4" cy="252.6" r="2.4" fill="none" stroke="#8fa3dd" stroke-width="0.8"/>
<circle cx="542.4" cy="291.9" r="2.4" fill="none" stroke="#8fa3dd" stroke-width="0.8"/>
<circle cx="481.0" cy="324.3" r="2.4" fill="none" stroke="#8fa3dd" stroke-width="0.8"/>
<circle cx="517.4" cy="298.5" r="2.4" fill="none" stroke="#8fa3dd" stroke-width="0.8"/>
<circle cx="593.4" cy="246.5" r="2.4" fill="none" stroke="#8fa3dd" stroke-width="0.8"/>
<circle cx="508.1" cy="303.7" r="2.4" fill="none" stroke="#8fa3dd" stroke-width="0.8"/>
<circle cx="492.2" cy="319.0" r="2.4" fill="none" stroke="#8fa3dd" stroke-width="0.8"/>
<circle cx="559.8" cy="268.4" r="2.4" fill="none" stroke="#8fa3dd" stroke-width="0.8"/>
<circle cx="470.6" cy="329.2" r="2.4" fill="none" stroke="#8fa3dd" stroke-width="0.8"/>
<circle cx="566.8" cy="273.9" r="2.4" fill="none" stroke="#8fa3dd" stroke-width="0.8"/>
<circle cx="539.0" cy="286.7" r="2.4" fill="none" stroke="#8fa3dd" stroke-width="0.8"/>
<circle cx="471.9" cy="331.4" r="2.4" fill="none" stroke="#8fa3dd" stroke-width="0.8"/>
<circle cx="474.6" cy="326.3" r="2.4" fill="none" stroke="#8fa3dd" stroke-width="0.8"/>
<circle cx="615.2" cy="242.3" r="2.4" fill="none" stroke="#8fa3dd" stroke-width="0.8"/>
<circle cx="614.6" cy="264.9" r="2.4" fill="none" stroke="#8fa3dd" stroke-width="0.8"/>
<circle cx="581.3" cy="274.1" r="2.4" fill="none" stroke="#8fa3dd" stroke-width="0.8"/>
<circle cx="578.1" cy="261.7" r="2.4" fill="none" stroke="#8fa3dd" stroke-width="0.8"/>
<circle cx="539.4" cy="278.4" r="2.4" fill="none" stroke="#8fa3dd" stroke-width="0.8"/>
<circle cx="546.3" cy="294.6" r="2.4" fill="none" stroke="#8fa3dd" stroke-width="0.8"/>
<circle cx="432.0" cy="343.0" r="2.4" fill="none" stroke="#8fa3dd" stroke-width="0.8"/>
<circle cx="420.0" cy="350.0" r="2.4" fill="none" stroke="#8fa3dd" stroke-width="0.8"/>
<circle cx="396.0" cy="360.0" r="2.4" fill="none" stroke="#8fa3dd" stroke-width="0.8"/>
<circle cx="406.0" cy="355.0" r="2.4" fill="none" stroke="#8fa3dd" stroke-width="0.8"/>
<circle cx="395.0" cy="356.0" r="2.4" fill="none" stroke="#8fa3dd" stroke-width="0.8"/>
<circle cx="393.9" cy="356.2" r="2.4" fill="none" stroke="#8fa3dd" stroke-width="0.8"/>
<circle cx="437.7" cy="320.4" r="2.4" fill="none" stroke="#8fa3dd" stroke-width="0.8"/>
<circle cx="444.3" cy="323.4" r="2.4" fill="none" stroke="#8fa3dd" stroke-width="0.8"/>
<circle cx="430.0" cy="328.0" r="2.4" fill="none" stroke="#8fa3dd" stroke-width="0.8"/>
<circle cx="452.0" cy="326.0" r="2.4" fill="none" stroke="#8fa3dd" stroke-width="0.8"/>
<circle cx="607.3" cy="252.2" r="2.4" fill="none" stroke="#e6d195" stroke-width="0.8"/>
<circle cx="606.6" cy="273.2" r="2.4" fill="none" stroke="#e6d195" stroke-width="0.8"/>
<circle cx="572.3" cy="283.2" r="2.4" fill="none" stroke="#e6d195" stroke-width="0.8"/>
<circle cx="571.4" cy="273.2" r="2.4" fill="none" stroke="#e6d195" stroke-width="0.8"/>
<circle cx="520.0" cy="300.0" r="2.4" fill="none" stroke="#e6d195" stroke-width="0.8"/>
<circle cx="428.0" cy="330.0" r="2.4" fill="none" stroke="#e6d195" stroke-width="0.8"/>
<circle cx="445.0" cy="327.0" r="2.4" fill="none" stroke="#e6d195" stroke-width="0.8"/>
<circle cx="410.0" cy="340.0" r="2.4" fill="none" stroke="#e6d195" stroke-width="0.8"/>
<circle cx="460.0" cy="324.0" r="2.4" fill="none" stroke="#e6d195" stroke-width="0.8"/>
<circle cx="437.0" cy="322.0" r="2.4" fill="none" stroke="#e6d195" stroke-width="0.8"/>
<circle cx="424.6" cy="327.0" r="2.4" fill="none" stroke="#e6d195" stroke-width="0.8"/>
<circle cx="461.0" cy="321.9" r="2.4" fill="none" stroke="#e6d195" stroke-width="0.8"/>
<circle cx="466.2" cy="322.6" r="2.4" fill="none" stroke="#e6d195" stroke-width="0.8"/>
</g>
<line x1="372.5" y1="381.9" x2="606.1" y2="252.2" stroke="#d4b24a" stroke-width="1" />
<line x1="372.5" y1="385.4" x2="613.4" y2="243.5" stroke="#7e8fc8" stroke-width="1" />
<rect x="427.8" y="331.9" width="7" height="7" fill="#5270c2" stroke="#222" stroke-width="0.9"/>
<rect x="446.4" y="325.1" width="7" height="7" fill="#5270c2" stroke="#222" stroke-width="0.9"/>
<rect x="449.3" y="328.0" width="7" height="7" fill="#5270c2" stroke="#222" stroke-width="0.9"/>
<rect x="438.8" y="333.9" width="7" height="7" fill="#5270c2" stroke="#222" stroke-width="0.9"/>
<rect x="405.9" y="359.3" width="7" height="7" fill="#5270c2" stroke="#222" stroke-width="0.9"/>
<rect x="416.9" y="354.2" width="7" height="7" fill="#5270c2" stroke="#222" stroke-width="0.9"/>
<rect x="401.5" y="364.5" width="7" height="7" fill="#5270c2" stroke="#222" stroke-width="0.9"/>
<rect x="396.5" y="367.5" width="7" height="7" fill="#5270c2" stroke="#222" stroke-width="0.9"/>
<rect x="391.5" y="370.5" width="7" height="7" fill="#5270c2" stroke="#222" stroke-width="0.9"/>
<rect x="386.5" y="373.5" width="7" height="7" fill="#5270c2" stroke="#222" stroke-width="0.9"/>
<rect x="381.5" y="375.5" width="7" height="7" fill="#5270c2" stroke="#222" stroke-width="0.9"/>
<rect x="376.5" y="377.5" width="7" height="7" fill="#5270c2" stroke="#222" stroke-width="0.9"/>
<rect x="392.3" y="365.8" width="7" height="7" fill="#e3b52e" stroke="#222" stroke-width="0.9"/>
<rect x="399.3" y="361.9" width="7" height="7" fill="#e3b52e" stroke="#222" stroke-width="0.9"/>
<rect x="390.6" y="369.6" width="7" height="7" fill="#e3b52e" stroke="#222" stroke-width="0.9"/>
<rect x="385.1" y="372.8" width="7" height="7" fill="#e3b52e" stroke="#222" stroke-width="0.9"/>
<rect x="381.8" y="375.0" width="7" height="7" fill="#e3b52e" stroke="#222" stroke-width="0.9"/>
<rect x="379.6" y="377.2" width="7" height="7" fill="#e3b52e" stroke="#222" stroke-width="0.9"/>
<rect x="408.1" y="359.7" width="7" height="7" fill="#e3b52e" stroke="#222" stroke-width="0.9"/>
<rect x="414.7" y="353.1" width="7" height="7" fill="#e3b52e" stroke="#222" stroke-width="0.9"/>
<rect x="423.4" y="346.6" width="7" height="7" fill="#e3b52e" stroke="#222" stroke-width="0.9"/>
<rect x="425.6" y="341.5" width="7" height="7" fill="#e3b52e" stroke="#222" stroke-width="0.9"/>
<rect x="434.4" y="335.6" width="7" height="7" fill="#e3b52e" stroke="#222" stroke-width="0.9"/>
<rect x="436.6" y="337.8" width="7" height="7" fill="#e3b52e" stroke="#222" stroke-width="0.9"/>
<rect x="401.5" y="363.0" width="7" height="7" fill="#e3b52e" stroke="#222" stroke-width="0.9"/>
<rect x="419.1" y="356.4" width="7" height="7" fill="#e3b52e" stroke="#222" stroke-width="0.9"/>
<rect x="425.1" y="341.9" width="7" height="7" fill="#e3b52e" stroke="#222" stroke-width="0.9"/>
<rect x="426.5" y="344.7" width="7" height="7" fill="#e3b52e" stroke="#222" stroke-width="0.9"/>
<rect x="410.4" y="355.9" width="7" height="7" fill="#e3b52e" stroke="#222" stroke-width="0.9"/>
<rect x="393.3" y="365.8" width="7" height="7" fill="#e3b52e" stroke="#222" stroke-width="0.9"/>
<rect x="386.2" y="370.0" width="7" height="7" fill="#e3b52e" stroke="#222" stroke-width="0.9"/>
<rect x="381.4" y="374.2" width="7" height="7" fill="#e3b52e" stroke="#222" stroke-width="0.9"/>
<rect x="375.5" y="377.5" width="7" height="7" fill="#e3b52e" stroke="#222" stroke-width="0.9"/>
<rect x="388.5" y="367.5" width="7" height="7" fill="#e3b52e" stroke="#222" stroke-width="0.9"/>
<rect x="372.5" y="378.5" width="7" height="7" fill="#e3b52e" stroke="#222" stroke-width="0.9"/>
<rect x="377.5" y="376.0" width="7" height="7" fill="#e3b52e" stroke="#222" stroke-width="0.9"/>
<rect x="383.5" y="372.5" width="7" height="7" fill="#e3b52e" stroke="#222" stroke-width="0.9"/>
<rect x="394.5" y="366.5" width="7" height="7" fill="#e3b52e" stroke="#222" stroke-width="0.9"/>
<rect x="404.5" y="361.5" width="7" height="7" fill="#e3b52e" stroke="#222" stroke-width="0.9"/>
<rect x="395.5" y="364.5" width="7" height="7" fill="#e3b52e" stroke="#222" stroke-width="0.9"/>
<rect x="371.7" y="233.2" width="266.3" height="155.0" fill="none" stroke="#262626" stroke-width="1.2"/>
<line x1="368.7" y1="232.9" x2="371.7" y2="232.9" stroke="#262626" stroke-width="1.2" />
<text x="368.0" y="236.8" font-size="12.4" text-anchor="end" fill="#231f20" font-weight="bold" >15</text>
<line x1="368.7" y1="263.0" x2="371.7" y2="263.0" stroke="#262626" stroke-width="1.2" />
<text x="368.0" y="266.9" font-size="12.4" text-anchor="end" fill="#231f20" font-weight="bold" >12</text>
<line x1="368.7" y1="293.1" x2="371.7" y2="293.1" stroke="#262626" stroke-width="1.2" />
<text x="368.0" y="297.0" font-size="12.4" text-anchor="end" fill="#231f20" font-weight="bold" >9</text>
<line x1="368.7" y1="323.2" x2="371.7" y2="323.2" stroke="#262626" stroke-width="1.2" />
<text x="368.0" y="327.1" font-size="12.4" text-anchor="end" fill="#231f20" font-weight="bold" >6</text>
<line x1="368.7" y1="353.3" x2="371.7" y2="353.3" stroke="#262626" stroke-width="1.2" />
<text x="368.0" y="357.2" font-size="12.4" text-anchor="end" fill="#231f20" font-weight="bold" >3</text>
<line x1="368.7" y1="383.4" x2="371.7" y2="383.4" stroke="#262626" stroke-width="1.2" />
<text x="368.0" y="387.3" font-size="12.4" text-anchor="end" fill="#231f20" font-weight="bold" >0</text>
<line x1="638.0" y1="233.2" x2="641.0" y2="233.2" stroke="#262626" stroke-width="1.2" />
<text x="643.5" y="237.2" font-size="13" text-anchor="start" fill="#231f20" font-weight="bold" >20</text>
<line x1="638.0" y1="263.4" x2="641.0" y2="263.4" stroke="#262626" stroke-width="1.2" />
<text x="643.5" y="267.4" font-size="13" text-anchor="start" fill="#231f20" font-weight="bold" >16</text>
<line x1="638.0" y1="293.6" x2="641.0" y2="293.6" stroke="#262626" stroke-width="1.2" />
<text x="643.5" y="297.6" font-size="13" text-anchor="start" fill="#231f20" font-weight="bold" >12</text>
<line x1="638.0" y1="323.8" x2="641.0" y2="323.8" stroke="#262626" stroke-width="1.2" />
<text x="643.5" y="327.8" font-size="13" text-anchor="start" fill="#231f20" font-weight="bold" >8</text>
<line x1="638.0" y1="354.0" x2="641.0" y2="354.0" stroke="#262626" stroke-width="1.2" />
<text x="643.5" y="358.0" font-size="13" text-anchor="start" fill="#231f20" font-weight="bold" >4</text>
<line x1="638.0" y1="384.2" x2="641.0" y2="384.2" stroke="#262626" stroke-width="1.2" />
<text x="643.5" y="388.2" font-size="13" text-anchor="start" fill="#231f20" font-weight="bold" >0</text>
<line x1="371.7" y1="388.2" x2="371.7" y2="391.2" stroke="#262626" stroke-width="1.2" />
<text x="373.9" y="404.1" font-size="13" text-anchor="middle" fill="#231f20" font-weight="bold" >0</text>
<line x1="430.9" y1="388.2" x2="430.9" y2="391.2" stroke="#262626" stroke-width="1.2" />
<text x="433.1" y="404.1" font-size="13" text-anchor="middle" fill="#231f20" font-weight="bold" >2000</text>
<line x1="490.1" y1="388.2" x2="490.1" y2="391.2" stroke="#262626" stroke-width="1.2" />
<text x="492.3" y="404.1" font-size="13" text-anchor="middle" fill="#231f20" font-weight="bold" >4000</text>
<line x1="549.3" y1="388.2" x2="549.3" y2="391.2" stroke="#262626" stroke-width="1.2" />
<text x="551.5" y="404.1" font-size="13" text-anchor="middle" fill="#231f20" font-weight="bold" >6000</text>
<line x1="608.5" y1="388.2" x2="608.5" y2="391.2" stroke="#262626" stroke-width="1.2" />
<text x="610.7" y="404.1" font-size="13" text-anchor="middle" fill="#231f20" font-weight="bold" >8000</text>
<text x="522.7" y="421.5" font-size="12.6" text-anchor="middle" fill="#231f20" font-weight="bold" ><tspan font-weight="normal">&#8721;</tspan>REY (mg kg<tspan font-size="7.5" dy="-5">-1</tspan><tspan dy="5">)</tspan></text>
<text transform="translate(351.8,307.3) rotate(-90)" font-size="12.6" text-anchor="middle" fill="#231f20" font-weight="bold">P (P<tspan font-size="6.5" dy="2.5">2</tspan><tspan dy="-2.5">O</tspan><tspan font-size="6.5" dy="2.5">5</tspan><tspan dy="-2.5"> wt. %)</tspan></text>
<text transform="translate(673,306.7) rotate(-90)" font-size="12.6" text-anchor="middle" fill="#231f20" font-weight="bold">Ca (CaO wt. %)</text>
<text x="375.8" y="248.4" font-size="16" text-anchor="start" fill="#231f20" font-weight="bold" >(c)</text>
<text x="431.7" y="301.9" font-size="11.4" text-anchor="middle" fill="#d9ad35" font-weight="bold" >y = 0.002x - 0.21</text>
<text x="432.0" y="314.6" font-size="11.4" text-anchor="middle" fill="#d9ad35" font-weight="bold" >R<tspan font-size="7.5" dy="-5">2</tspan><tspan dy="5">=0.97</tspan></text>
<text x="574.2" y="314.6" font-size="11.4" text-anchor="middle" fill="#5b74c4" font-weight="bold" >y = 0.002x + 0.62</text>
<text x="574.6" y="326.7" font-size="11.4" text-anchor="middle" fill="#5b74c4" font-weight="bold" >R<tspan font-size="7.5" dy="-5">2</tspan><tspan dy="5">=0.96</tspan></text>
<rect x="500.9" y="344.9" width="6.5" height="6.5" fill="#e3b52e" stroke="#222" stroke-width="0.9"/>
<text x="511.8" y="352.2" font-size="11.7" text-anchor="start" fill="#231f20" font-weight="bold" >P</text>
<circle cx="533.2" cy="348.2" r="3.2" fill="none" stroke="#e0b84a" stroke-width="1"/>
<text x="540.8" y="352.2" font-size="11.7" text-anchor="start" fill="#231f20" font-weight="bold" >P (literature)</text>
<rect x="500.9" y="359.6" width="6.5" height="6.5" fill="#5270c2" stroke="#222" stroke-width="0.9"/>
<text x="511.8" y="366.8" font-size="11.7" text-anchor="start" fill="#231f20" font-weight="bold" >Ca</text>
<circle cx="533.2" cy="362.8" r="3.2" fill="none" stroke="#6a86cf" stroke-width="1"/>
<text x="540.8" y="366.8" font-size="11.7" text-anchor="start" fill="#231f20" font-weight="bold" >Ca (literature)</text>
<defs><clipPath id="clipd"><rect x="32.1" y="439.8" width="263.4" height="154.1"/></clipPath></defs>
<g clip-path="url(#clipd)">
<polyline points="41.5,542.6 60.3,559.1 79.1,555.3 97.9,546.8 116.7,534.1 135.5,531.4 154.3,511.0 173.1,509.5 191.9,506.8 210.7,502.9 229.5,492.5 248.3,486.8 267.1,480.6 285.9,474.8" fill="none" stroke="#d4d4d4" stroke-width="3.6" stroke-linejoin="round" />
<polyline points="41.5,558.0 60.3,559.5 79.1,555.3 97.9,547.6 116.7,536.0 135.5,526.4 154.3,524.5 173.1,524.9 191.9,528.0 210.7,536.8 229.5,536.0 248.3,535.7 267.1,537.6 285.9,538.7" fill="none" stroke="#737373" stroke-width="3.6" stroke-linejoin="round" />
<polyline points="41.5,555.3 60.3,562.2 79.1,555.3 97.9,544.1 116.7,515.3 135.5,468.3 154.3,455.2 173.1,420.5 191.9,401.3 210.7,362.8 229.5,305.0 248.3,189.5 267.1,16.3 285.9,-237.8" fill="none" stroke="#abcbea" stroke-width="3.6" stroke-linejoin="round" />
<polyline points="97.9,545.7 116.7,527.6 135.5,512.2 154.3,529.1 173.1,530.7 191.9,529.5 210.7,528.0 229.5,534.1" fill="none" stroke="#c47b45" stroke-width="3.6" stroke-linejoin="round" />
<polyline points="41.5,549.1 60.3,580.3 79.1,555.3 97.9,550.7 116.7,544.5 135.5,531.4 154.3,517.6 173.1,501.8 191.9,491.8 210.7,494.1 229.5,494.5 248.3,483.3 267.1,474.8 285.9,476.4" fill="none" stroke="#82d39c" stroke-width="3.6" stroke-linejoin="round" />
<polyline points="41.5,555.3 60.3,578.4 79.1,555.3 97.9,544.5 116.7,528.3 135.5,512.9 154.3,499.1 173.1,496.0 191.9,487.5 210.7,485.6 229.5,474.1 248.3,476.0 267.1,474.4 285.9,470.2" fill="none" stroke="#5270c2" stroke-width="1.6" stroke-linejoin="round" />
<rect x="37.5" y="551.3" width="8" height="8" fill="#5270c2" stroke="#222" stroke-width="0.9"/>
<rect x="56.3" y="574.4" width="8" height="8" fill="#5270c2" stroke="#222" stroke-width="0.9"/>
<rect x="75.1" y="551.3" width="8" height="8" fill="#5270c2" stroke="#222" stroke-width="0.9"/>
<rect x="93.9" y="540.5" width="8" height="8" fill="#5270c2" stroke="#222" stroke-width="0.9"/>
<rect x="112.7" y="524.3" width="8" height="8" fill="#5270c2" stroke="#222" stroke-width="0.9"/>
<rect x="131.5" y="508.9" width="8" height="8" fill="#5270c2" stroke="#222" stroke-width="0.9"/>
<rect x="150.3" y="495.1" width="8" height="8" fill="#5270c2" stroke="#222" stroke-width="0.9"/>
<rect x="169.1" y="492.0" width="8" height="8" fill="#5270c2" stroke="#222" stroke-width="0.9"/>
<rect x="187.9" y="483.5" width="8" height="8" fill="#5270c2" stroke="#222" stroke-width="0.9"/>
<rect x="206.7" y="481.6" width="8" height="8" fill="#5270c2" stroke="#222" stroke-width="0.9"/>
<rect x="225.5" y="470.1" width="8" height="8" fill="#5270c2" stroke="#222" stroke-width="0.9"/>
<rect x="244.3" y="472.0" width="8" height="8" fill="#5270c2" stroke="#222" stroke-width="0.9"/>
<rect x="263.1" y="470.4" width="8" height="8" fill="#5270c2" stroke="#222" stroke-width="0.9"/>
<rect x="281.9" y="466.2" width="8" height="8" fill="#5270c2" stroke="#222" stroke-width="0.9"/>
<polyline points="41.5,554.1 60.3,579.2 79.1,555.3 97.9,543.8 116.7,529.9 135.5,513.3 154.3,499.5 173.1,499.9 191.9,489.1 210.7,492.5 229.5,480.6 248.3,483.7 267.1,489.1 285.9,493.7" fill="none" stroke="#e3b52e" stroke-width="1.6" stroke-linejoin="round" />
<rect x="37.5" y="550.1" width="8" height="8" fill="#e3b52e" stroke="#222" stroke-width="0.9"/>
<rect x="56.3" y="575.2" width="8" height="8" fill="#e3b52e" stroke="#222" stroke-width="0.9"/>
<rect x="75.1" y="551.3" width="8" height="8" fill="#e3b52e" stroke="#222" stroke-width="0.9"/>
<rect x="93.9" y="539.8" width="8" height="8" fill="#e3b52e" stroke="#222" stroke-width="0.9"/>
<rect x="112.7" y="525.9" width="8" height="8" fill="#e3b52e" stroke="#222" stroke-width="0.9"/>
<rect x="131.5" y="509.3" width="8" height="8" fill="#e3b52e" stroke="#222" stroke-width="0.9"/>
<rect x="150.3" y="495.5" width="8" height="8" fill="#e3b52e" stroke="#222" stroke-width="0.9"/>
<rect x="169.1" y="495.9" width="8" height="8" fill="#e3b52e" stroke="#222" stroke-width="0.9"/>
<rect x="187.9" y="485.1" width="8" height="8" fill="#e3b52e" stroke="#222" stroke-width="0.9"/>
<rect x="206.7" y="488.5" width="8" height="8" fill="#e3b52e" stroke="#222" stroke-width="0.9"/>
<rect x="225.5" y="476.6" width="8" height="8" fill="#e3b52e" stroke="#222" stroke-width="0.9"/>
<rect x="244.3" y="479.7" width="8" height="8" fill="#e3b52e" stroke="#222" stroke-width="0.9"/>
<rect x="263.1" y="485.1" width="8" height="8" fill="#e3b52e" stroke="#222" stroke-width="0.9"/>
<rect x="281.9" y="489.7" width="8" height="8" fill="#e3b52e" stroke="#222" stroke-width="0.9"/>
<polyline points="41.5,561.1 60.3,582.2 79.1,555.3 97.9,548.8 116.7,531.0 135.5,519.9 154.3,513.3 173.1,512.9 191.9,513.7 210.7,510.6 229.5,519.5 248.3,519.5 267.1,529.9 285.9,531.4" fill="none" stroke="#e9636d" stroke-width="1.6" stroke-linejoin="round" />
<rect x="37.5" y="557.1" width="8" height="8" fill="#e9636d" stroke="#222" stroke-width="0.9"/>
<rect x="56.3" y="578.2" width="8" height="8" fill="#e9636d" stroke="#222" stroke-width="0.9"/>
<rect x="75.1" y="551.3" width="8" height="8" fill="#e9636d" stroke="#222" stroke-width="0.9"/>
<rect x="93.9" y="544.8" width="8" height="8" fill="#e9636d" stroke="#222" stroke-width="0.9"/>
<rect x="112.7" y="527.0" width="8" height="8" fill="#e9636d" stroke="#222" stroke-width="0.9"/>
<rect x="131.5" y="515.9" width="8" height="8" fill="#e9636d" stroke="#222" stroke-width="0.9"/>
<rect x="150.3" y="509.3" width="8" height="8" fill="#e9636d" stroke="#222" stroke-width="0.9"/>
<rect x="169.1" y="508.9" width="8" height="8" fill="#e9636d" stroke="#222" stroke-width="0.9"/>
<rect x="187.9" y="509.7" width="8" height="8" fill="#e9636d" stroke="#222" stroke-width="0.9"/>
<rect x="206.7" y="506.6" width="8" height="8" fill="#e9636d" stroke="#222" stroke-width="0.9"/>
<rect x="225.5" y="515.5" width="8" height="8" fill="#e9636d" stroke="#222" stroke-width="0.9"/>
<rect x="244.3" y="515.5" width="8" height="8" fill="#e9636d" stroke="#222" stroke-width="0.9"/>
<rect x="263.1" y="525.9" width="8" height="8" fill="#e9636d" stroke="#222" stroke-width="0.9"/>
<rect x="281.9" y="527.4" width="8" height="8" fill="#e9636d" stroke="#222" stroke-width="0.9"/>
</g>
<rect x="32.1" y="439.8" width="263.4" height="154.09999999999997" fill="none" stroke="#262626" stroke-width="1.2"/>
<line x1="29.1" y1="593.8" x2="32.1" y2="593.8" stroke="#262626" stroke-width="1.2" />
<text x="27.4" y="598.1" font-size="12.6" text-anchor="end" fill="#231f20" font-weight="bold" >0</text>
<line x1="29.1" y1="555.3" x2="32.1" y2="555.3" stroke="#262626" stroke-width="1.2" />
<text x="27.4" y="559.6" font-size="12.6" text-anchor="end" fill="#231f20" font-weight="bold" >1</text>
<line x1="29.1" y1="516.8" x2="32.1" y2="516.8" stroke="#262626" stroke-width="1.2" />
<text x="27.4" y="521.1" font-size="12.6" text-anchor="end" fill="#231f20" font-weight="bold" >2</text>
<line x1="29.1" y1="478.3" x2="32.1" y2="478.3" stroke="#262626" stroke-width="1.2" />
<text x="27.4" y="482.6" font-size="12.6" text-anchor="end" fill="#231f20" font-weight="bold" >3</text>
<line x1="29.1" y1="439.8" x2="32.1" y2="439.8" stroke="#262626" stroke-width="1.2" />
<text x="27.4" y="444.1" font-size="12.6" text-anchor="end" fill="#231f20" font-weight="bold" >4</text>
<line x1="32.1" y1="593.9" x2="32.1" y2="597.4" stroke="#262626" stroke-width="1.2" />
<line x1="50.9" y1="593.9" x2="50.9" y2="597.4" stroke="#262626" stroke-width="1.2" />
<line x1="69.7" y1="593.9" x2="69.7" y2="597.4" stroke="#262626" stroke-width="1.2" />
<line x1="88.5" y1="593.9" x2="88.5" y2="597.4" stroke="#262626" stroke-width="1.2" />
<line x1="107.3" y1="593.9" x2="107.3" y2="597.4" stroke="#262626" stroke-width="1.2" />
<line x1="126.1" y1="593.9" x2="126.1" y2="597.4" stroke="#262626" stroke-width="1.2" />
<line x1="144.9" y1="593.9" x2="144.9" y2="597.4" stroke="#262626" stroke-width="1.2" />
<line x1="163.7" y1="593.9" x2="163.7" y2="597.4" stroke="#262626" stroke-width="1.2" />
<line x1="182.5" y1="593.9" x2="182.5" y2="597.4" stroke="#262626" stroke-width="1.2" />
<line x1="201.3" y1="593.9" x2="201.3" y2="597.4" stroke="#262626" stroke-width="1.2" />
<line x1="220.1" y1="593.9" x2="220.1" y2="597.4" stroke="#262626" stroke-width="1.2" />
<line x1="238.9" y1="593.9" x2="238.9" y2="597.4" stroke="#262626" stroke-width="1.2" />
<line x1="257.7" y1="593.9" x2="257.7" y2="597.4" stroke="#262626" stroke-width="1.2" />
<line x1="276.5" y1="593.9" x2="276.5" y2="597.4" stroke="#262626" stroke-width="1.2" />
<line x1="295.3" y1="593.9" x2="295.3" y2="597.4" stroke="#262626" stroke-width="1.2" />
<text x="42.2" y="607.4" font-size="13" text-anchor="middle" fill="#231f20" font-weight="bold" >La</text>
<text x="61.0" y="618.0" font-size="13" text-anchor="middle" fill="#231f20" font-weight="bold" >Ce</text>
<text x="79.8" y="607.4" font-size="13" text-anchor="middle" fill="#231f20" font-weight="bold" >Pr</text>
<text x="98.6" y="618.0" font-size="13" text-anchor="middle" fill="#231f20" font-weight="bold" >Nd</text>
<text x="117.4" y="607.4" font-size="13" text-anchor="middle" fill="#231f20" font-weight="bold" >Sm</text>
<text x="136.2" y="618.0" font-size="13" text-anchor="middle" fill="#231f20" font-weight="bold" >Eu</text>
<text x="155.0" y="607.4" font-size="13" text-anchor="middle" fill="#231f20" font-weight="bold" >Gd</text>
<text x="173.8" y="618.0" font-size="13" text-anchor="middle" fill="#231f20" font-weight="bold" >Tb</text>
<text x="192.6" y="607.4" font-size="13" text-anchor="middle" fill="#231f20" font-weight="bold" >Dy</text>
<text x="211.4" y="618.0" font-size="13" text-anchor="middle" fill="#231f20" font-weight="bold" >Ho</text>
<text x="230.2" y="607.4" font-size="13" text-anchor="middle" fill="#231f20" font-weight="bold" >Er</text>
<text x="249.0" y="618.0" font-size="13" text-anchor="middle" fill="#231f20" font-weight="bold" >Tm</text>
<text x="267.8" y="607.4" font-size="13" text-anchor="middle" fill="#231f20" font-weight="bold" >Yb</text>
<text x="286.6" y="618.0" font-size="13" text-anchor="middle" fill="#231f20" font-weight="bold" >Lu</text>
<text transform="translate(11.3,516.3) rotate(-90)" font-size="12.6" text-anchor="middle" fill="#231f20" font-weight="bold">Normalized to PAAS, Pr</text>
<text x="293.7" y="456.3" font-size="16" text-anchor="end" fill="#231f20" font-weight="bold" >(d)</text>
<rect x="42.2" y="445.5" width="77.7" height="44.10000000000002" fill="#fff" stroke="#555" stroke-width="1"/>
<line x1="40.7" y1="489.6" x2="42.2" y2="489.6" stroke="#555" stroke-width="0.7" />
<text x="37.7" y="492.0" font-size="6.6" text-anchor="middle" fill="#333" font-weight="bold" >0</text>
<line x1="40.7" y1="480.8" x2="42.2" y2="480.8" stroke="#555" stroke-width="0.7" />
<text x="37.7" y="483.2" font-size="6.6" text-anchor="middle" fill="#333" font-weight="bold" >5</text>
<line x1="40.7" y1="471.9" x2="42.2" y2="471.9" stroke="#555" stroke-width="0.7" />
<text x="37.7" y="474.3" font-size="6.6" text-anchor="middle" fill="#333" font-weight="bold" >10</text>
<line x1="40.7" y1="463.1" x2="42.2" y2="463.1" stroke="#555" stroke-width="0.7" />
<text x="37.7" y="465.5" font-size="6.6" text-anchor="middle" fill="#333" font-weight="bold" >15</text>
<line x1="40.7" y1="454.3" x2="42.2" y2="454.3" stroke="#555" stroke-width="0.7" />
<text x="37.7" y="456.7" font-size="6.6" text-anchor="middle" fill="#333" font-weight="bold" >20</text>
<line x1="40.7" y1="445.5" x2="42.2" y2="445.5" stroke="#555" stroke-width="0.7" />
<text x="37.7" y="447.9" font-size="6.6" text-anchor="middle" fill="#333" font-weight="bold" >25</text>
<polyline points="44.9,487.3 50.4,488.0 56.0,487.8 61.5,487.4 67.1,486.9 72.7,486.7 78.2,485.8 83.8,485.7 89.3,485.6 94.8,485.4 100.4,485.0 105.9,484.7 111.5,484.4 117.0,484.1" fill="none" stroke="#d4d4d4" stroke-width="1.8" stroke-linejoin="round" />
<polyline points="44.9,488.0 50.4,488.0 56.0,487.8 61.5,487.5 67.1,487.0 72.7,486.5 78.2,486.4 83.8,486.4 89.3,486.6 94.8,487.0 100.4,487.0 105.9,486.9 111.5,487.0 117.0,487.1" fill="none" stroke="#737373" stroke-width="1.8" stroke-linejoin="round" />
<polyline points="44.9,487.8 50.4,488.2 56.0,487.8 61.5,487.3 67.1,486.0 72.7,483.8 78.2,483.2 83.8,481.7 89.3,480.8 94.8,479.0 100.4,476.4 105.9,471.1 111.5,463.1 117.0,451.5" fill="none" stroke="#abcbea" stroke-width="1.8" stroke-linejoin="round" />
<polyline points="61.5,487.4 67.1,486.6 72.7,485.9 78.2,486.6 83.8,486.7 89.3,486.7 94.8,486.6 100.4,486.9" fill="none" stroke="#c47b45" stroke-width="1.8" stroke-linejoin="round" />
<polyline points="44.9,487.6 50.4,489.0 56.0,487.8 61.5,487.6 67.1,487.3 72.7,486.7 78.2,486.1 83.8,485.4 89.3,484.9 94.8,485.0 100.4,485.0 105.9,484.5 111.5,484.1 117.0,484.2" fill="none" stroke="#82d39c" stroke-width="1.8" stroke-linejoin="round" />
<polyline points="44.9,487.8 50.4,488.9 56.0,487.8 61.5,487.3 67.1,486.7 72.7,485.9 78.2,485.3 83.8,485.3 89.3,484.8 94.8,485.0 100.4,484.4 105.9,484.5 111.5,484.8 117.0,485.0" fill="none" stroke="#e3b52e" stroke-width="0.8" stroke-linejoin="round" />
<rect x="43.1" y="486.0" width="3.5" height="3.5" fill="#e3b52e" stroke="#333" stroke-width="0.4"/>
<rect x="48.7" y="487.2" width="3.5" height="3.5" fill="#e3b52e" stroke="#333" stroke-width="0.4"/>
<rect x="54.2" y="486.1" width="3.5" height="3.5" fill="#e3b52e" stroke="#333" stroke-width="0.4"/>
<rect x="59.8" y="485.6" width="3.5" height="3.5" fill="#e3b52e" stroke="#333" stroke-width="0.4"/>
<rect x="65.3" y="484.9" width="3.5" height="3.5" fill="#e3b52e" stroke="#333" stroke-width="0.4"/>
<rect x="70.9" y="484.2" width="3.5" height="3.5" fill="#e3b52e" stroke="#333" stroke-width="0.4"/>
<rect x="76.4" y="483.5" width="3.5" height="3.5" fill="#e3b52e" stroke="#333" stroke-width="0.4"/>
<rect x="82.0" y="483.5" width="3.5" height="3.5" fill="#e3b52e" stroke="#333" stroke-width="0.4"/>
<rect x="87.5" y="483.0" width="3.5" height="3.5" fill="#e3b52e" stroke="#333" stroke-width="0.4"/>
<rect x="93.1" y="483.2" width="3.5" height="3.5" fill="#e3b52e" stroke="#333" stroke-width="0.4"/>
<rect x="98.7" y="482.7" width="3.5" height="3.5" fill="#e3b52e" stroke="#333" stroke-width="0.4"/>
<rect x="104.2" y="482.8" width="3.5" height="3.5" fill="#e3b52e" stroke="#333" stroke-width="0.4"/>
<rect x="109.8" y="483.0" width="3.5" height="3.5" fill="#e3b52e" stroke="#333" stroke-width="0.4"/>
<rect x="115.3" y="483.3" width="3.5" height="3.5" fill="#e3b52e" stroke="#333" stroke-width="0.4"/>
<polyline points="44.9,487.8 50.4,488.9 56.0,487.8 61.5,487.3 67.1,486.6 72.7,485.9 78.2,485.3 83.8,485.1 89.3,484.7 94.8,484.6 100.4,484.1 105.9,484.2 111.5,484.1 117.0,483.9" fill="none" stroke="#5270c2" stroke-width="0.8" stroke-linejoin="round" />
<rect x="43.1" y="486.1" width="3.5" height="3.5" fill="#5270c2" stroke="#333" stroke-width="0.4"/>
<rect x="48.7" y="487.1" width="3.5" height="3.5" fill="#5270c2" stroke="#333" stroke-width="0.4"/>
<rect x="54.2" y="486.1" width="3.5" height="3.5" fill="#5270c2" stroke="#333" stroke-width="0.4"/>
<rect x="59.8" y="485.6" width="3.5" height="3.5" fill="#5270c2" stroke="#333" stroke-width="0.4"/>
<rect x="65.3" y="484.8" width="3.5" height="3.5" fill="#5270c2" stroke="#333" stroke-width="0.4"/>
<rect x="70.9" y="484.1" width="3.5" height="3.5" fill="#5270c2" stroke="#333" stroke-width="0.4"/>
<rect x="76.4" y="483.5" width="3.5" height="3.5" fill="#5270c2" stroke="#333" stroke-width="0.4"/>
<rect x="82.0" y="483.4" width="3.5" height="3.5" fill="#5270c2" stroke="#333" stroke-width="0.4"/>
<rect x="87.5" y="483.0" width="3.5" height="3.5" fill="#5270c2" stroke="#333" stroke-width="0.4"/>
<rect x="93.1" y="482.9" width="3.5" height="3.5" fill="#5270c2" stroke="#333" stroke-width="0.4"/>
<rect x="98.7" y="482.4" width="3.5" height="3.5" fill="#5270c2" stroke="#333" stroke-width="0.4"/>
<rect x="104.2" y="482.4" width="3.5" height="3.5" fill="#5270c2" stroke="#333" stroke-width="0.4"/>
<rect x="109.8" y="482.4" width="3.5" height="3.5" fill="#5270c2" stroke="#333" stroke-width="0.4"/>
<rect x="115.3" y="482.2" width="3.5" height="3.5" fill="#5270c2" stroke="#333" stroke-width="0.4"/>
<polyline points="44.9,488.1 50.4,489.1 56.0,487.8 61.5,487.5 67.1,486.7 72.7,486.2 78.2,485.9 83.8,485.9 89.3,485.9 94.8,485.8 100.4,486.2 105.9,486.2 111.5,486.7 117.0,486.7" fill="none" stroke="#e9636d" stroke-width="0.8" stroke-linejoin="round" />
<rect x="43.1" y="486.3" width="3.5" height="3.5" fill="#e9636d" stroke="#333" stroke-width="0.4"/>
<rect x="48.7" y="487.3" width="3.5" height="3.5" fill="#e9636d" stroke="#333" stroke-width="0.4"/>
<rect x="54.2" y="486.1" width="3.5" height="3.5" fill="#e9636d" stroke="#333" stroke-width="0.4"/>
<rect x="59.8" y="485.8" width="3.5" height="3.5" fill="#e9636d" stroke="#333" stroke-width="0.4"/>
<rect x="65.3" y="485.0" width="3.5" height="3.5" fill="#e9636d" stroke="#333" stroke-width="0.4"/>
<rect x="70.9" y="484.5" width="3.5" height="3.5" fill="#e9636d" stroke="#333" stroke-width="0.4"/>
<rect x="76.4" y="484.2" width="3.5" height="3.5" fill="#e9636d" stroke="#333" stroke-width="0.4"/>
<rect x="82.0" y="484.1" width="3.5" height="3.5" fill="#e9636d" stroke="#333" stroke-width="0.4"/>
<rect x="87.5" y="484.2" width="3.5" height="3.5" fill="#e9636d" stroke="#333" stroke-width="0.4"/>
<rect x="93.1" y="484.0" width="3.5" height="3.5" fill="#e9636d" stroke="#333" stroke-width="0.4"/>
<rect x="98.7" y="484.4" width="3.5" height="3.5" fill="#e9636d" stroke="#333" stroke-width="0.4"/>
<rect x="104.2" y="484.4" width="3.5" height="3.5" fill="#e9636d" stroke="#333" stroke-width="0.4"/>
<rect x="109.8" y="484.9" width="3.5" height="3.5" fill="#e9636d" stroke="#333" stroke-width="0.4"/>
<rect x="115.3" y="485.0" width="3.5" height="3.5" fill="#e9636d" stroke="#333" stroke-width="0.4"/>
<text x="44.9" y="496.2" font-size="6.5" text-anchor="middle" fill="#333" font-weight="bold" >La</text>
<text x="50.4" y="501.2" font-size="6.5" text-anchor="middle" fill="#333" font-weight="bold" >Ce</text>
<text x="56.0" y="496.2" font-size="6.5" text-anchor="middle" fill="#333" font-weight="bold" >Pr</text>
<text x="61.5" y="501.2" font-size="6.5" text-anchor="middle" fill="#333" font-weight="bold" >Nd</text>
<text x="67.1" y="496.2" font-size="6.5" text-anchor="middle" fill="#333" font-weight="bold" >Sm</text>
<text x="72.7" y="501.2" font-size="6.5" text-anchor="middle" fill="#333" font-weight="bold" >Eu</text>
<text x="78.2" y="496.2" font-size="6.5" text-anchor="middle" fill="#333" font-weight="bold" >Gd</text>
<text x="83.8" y="501.2" font-size="6.5" text-anchor="middle" fill="#333" font-weight="bold" >Tb</text>
<text x="89.3" y="496.2" font-size="6.5" text-anchor="middle" fill="#333" font-weight="bold" >Dy</text>
<text x="94.8" y="501.2" font-size="6.5" text-anchor="middle" fill="#333" font-weight="bold" >Ho</text>
<text x="100.4" y="496.2" font-size="6.5" text-anchor="middle" fill="#333" font-weight="bold" >Er</text>
<text x="105.9" y="501.2" font-size="6.5" text-anchor="middle" fill="#333" font-weight="bold" >Tm</text>
<text x="111.5" y="496.2" font-size="6.5" text-anchor="middle" fill="#333" font-weight="bold" >Yb</text>
<text x="117.0" y="501.2" font-size="6.5" text-anchor="middle" fill="#333" font-weight="bold" >Lu</text>
<text x="44.6" y="455.8" font-size="10.5" text-anchor="start" fill="#222" font-weight="bold" >(d')</text>
<text x="4.7" y="631.8" font-size="11.6" text-anchor="start" fill="#231f20" font-weight="bold" >Pore fluid from:</text>
<line x1="4.0" y1="643.1" x2="13.5" y2="643.1" stroke="#737373" stroke-width="2.6" />
<text x="20.3" y="647.3" font-size="11.6" text-anchor="start" fill="#231f20" font-weight="bold" >Eastern Pacific (Fe present)</text>
<line x1="4.0" y1="657.6" x2="13.5" y2="657.6" stroke="#d4d4d4" stroke-width="2.6" />
<text x="19.6" y="661.8" font-size="11.6" text-anchor="start" fill="#231f20" font-weight="bold" >Eastern Pacific (No Fe present)</text>
<line x1="4.0" y1="672.8" x2="13.5" y2="672.8" stroke="#abcbea" stroke-width="2.6" />
<text x="19.6" y="677.0" font-size="11.6" text-anchor="start" fill="#231f20" font-weight="bold" >Methanogenic zone</text>
<line x1="4.0" y1="688.0" x2="13.5" y2="688.0" stroke="#5270c2" stroke-width="1.6" />
<rect x="5.7" y="685.4" width="5.2" height="5.2" fill="#5270c2" stroke="#777" stroke-width="0.6"/>
<text x="19.6" y="692.2" font-size="11.6" text-anchor="start" fill="#231f20" font-weight="bold" >Pigafetta Basin (sea water like)</text>
<line x1="4.0" y1="703.0" x2="13.5" y2="703.0" stroke="#e3b52e" stroke-width="1.6" />
<rect x="5.7" y="700.4" width="5.2" height="5.2" fill="#e3b52e" stroke="#777" stroke-width="0.6"/>
<text x="17.0" y="707.2" font-size="11.6" text-anchor="start" fill="#231f20" font-weight="bold" >Pigafetta Basin (second REY-release)</text>
<line x1="199.4" y1="643.1" x2="208.6" y2="643.1" stroke="#e9636d" stroke-width="1.6" />
<rect x="201.3" y="640.5" width="5.2" height="5.2" fill="#e9636d" stroke="#777" stroke-width="0.6"/>
<text x="213.3" y="647.3" font-size="11.6" text-anchor="start" fill="#231f20" font-weight="bold" >REY-rich sediments</text>
<line x1="199.4" y1="656.5" x2="208.6" y2="656.5" stroke="#c47b45" stroke-width="2.6" />
<text x="216.0" y="660.7" font-size="11.6" text-anchor="start" fill="#231f20" font-weight="bold" >Hydrothermal</text>
<line x1="199.4" y1="671.5" x2="208.6" y2="671.5" stroke="#82d39c" stroke-width="2.6" />
<text x="216.5" y="675.7" font-size="11.6" text-anchor="start" fill="#231f20" font-weight="bold" >Sea water</text>
<rect x="443.4" y="562.6" width="16.4" height="31.3" fill="#596cb6" stroke="#6a6f90" stroke-width="0.6"/>
<line x1="451.6" y1="560.8" x2="451.6" y2="564.5" stroke="#111" stroke-width="0.9" />
<line x1="449.4" y1="560.8" x2="453.8" y2="560.8" stroke="#111" stroke-width="0.9" />
<line x1="449.4" y1="564.5" x2="453.8" y2="564.5" stroke="#111" stroke-width="0.9" />
<rect x="496.4" y="516.4" width="16.4" height="77.5" fill="#596cb6" stroke="#6a6f90" stroke-width="0.6"/>
<line x1="504.6" y1="515.1" x2="504.6" y2="517.7" stroke="#111" stroke-width="0.9" />
<line x1="502.4" y1="515.1" x2="506.8" y2="515.1" stroke="#111" stroke-width="0.9" />
<line x1="502.4" y1="517.7" x2="506.8" y2="517.7" stroke="#111" stroke-width="0.9" />
<rect x="549.5" y="536.0" width="16.4" height="57.9" fill="#596cb6" stroke="#6a6f90" stroke-width="0.6"/>
<line x1="557.7" y1="532.2" x2="557.7" y2="539.9" stroke="#111" stroke-width="0.9" />
<line x1="555.5" y1="532.2" x2="559.9" y2="532.2" stroke="#111" stroke-width="0.9" />
<line x1="555.5" y1="539.9" x2="559.9" y2="539.9" stroke="#111" stroke-width="0.9" />
<rect x="602.7" y="503.5" width="16.4" height="90.4" fill="#596cb6" stroke="#6a6f90" stroke-width="0.6"/>
<line x1="610.9" y1="500.4" x2="610.9" y2="506.6" stroke="#111" stroke-width="0.9" />
<line x1="608.7" y1="500.4" x2="613.1" y2="500.4" stroke="#111" stroke-width="0.9" />
<line x1="608.7" y1="506.6" x2="613.1" y2="506.6" stroke="#111" stroke-width="0.9" />
<polyline points="398.3,529.0 451.4,508.5 504.5,476.9 557.6,490.6 610.9,469.2" fill="none" stroke="#e0b22a" stroke-width="2.6" stroke-linejoin="round" />
<rect x="394.1" y="524.8" width="8.5" height="8.5" fill="#e3b52e" stroke="#555" stroke-width="0.8"/>
<rect x="447.1" y="504.2" width="8.5" height="8.5" fill="#e3b52e" stroke="#555" stroke-width="0.8"/>
<line x1="504.5" y1="470.4" x2="504.5" y2="483.4" stroke="#111" stroke-width="0.9" />
<line x1="502.3" y1="470.4" x2="506.7" y2="470.4" stroke="#111" stroke-width="0.9" />
<line x1="502.3" y1="483.4" x2="506.7" y2="483.4" stroke="#111" stroke-width="0.9" />
<rect x="500.2" y="472.6" width="8.5" height="8.5" fill="#e3b52e" stroke="#555" stroke-width="0.8"/>
<line x1="557.6" y1="483.1" x2="557.6" y2="498.1" stroke="#111" stroke-width="0.9" />
<line x1="555.4" y1="483.1" x2="559.8" y2="483.1" stroke="#111" stroke-width="0.9" />
<line x1="555.4" y1="498.1" x2="559.8" y2="498.1" stroke="#111" stroke-width="0.9" />
<rect x="553.4" y="486.4" width="8.5" height="8.5" fill="#e3b52e" stroke="#555" stroke-width="0.8"/>
<line x1="610.9" y1="464.2" x2="610.9" y2="474.2" stroke="#111" stroke-width="0.9" />
<line x1="608.7" y1="464.2" x2="613.1" y2="464.2" stroke="#111" stroke-width="0.9" />
<line x1="608.7" y1="474.2" x2="613.1" y2="474.2" stroke="#111" stroke-width="0.9" />
<rect x="606.6" y="464.9" width="8.5" height="8.5" fill="#e3b52e" stroke="#555" stroke-width="0.8"/>
<rect x="371.8" y="438.9" width="266.2" height="155.0" fill="none" stroke="#262626" stroke-width="1.2"/>
<line x1="368.8" y1="593.9" x2="371.8" y2="593.9" stroke="#262626" stroke-width="1.2" />
<text x="366.8" y="597.9" font-size="12.6" text-anchor="end" fill="#231f20" font-weight="bold" >0</text>
<line x1="368.8" y1="568.1" x2="371.8" y2="568.1" stroke="#262626" stroke-width="1.2" />
<text x="366.8" y="572.1" font-size="12.6" text-anchor="end" fill="#231f20" font-weight="bold" >10</text>
<line x1="368.8" y1="542.2" x2="371.8" y2="542.2" stroke="#262626" stroke-width="1.2" />
<text x="366.8" y="546.2" font-size="12.6" text-anchor="end" fill="#231f20" font-weight="bold" >20</text>
<line x1="368.8" y1="516.4" x2="371.8" y2="516.4" stroke="#262626" stroke-width="1.2" />
<text x="366.8" y="520.4" font-size="12.6" text-anchor="end" fill="#231f20" font-weight="bold" >30</text>
<line x1="368.8" y1="490.6" x2="371.8" y2="490.6" stroke="#262626" stroke-width="1.2" />
<text x="366.8" y="494.6" font-size="12.6" text-anchor="end" fill="#231f20" font-weight="bold" >40</text>
<line x1="368.8" y1="464.8" x2="371.8" y2="464.8" stroke="#262626" stroke-width="1.2" />
<text x="366.8" y="468.8" font-size="12.6" text-anchor="end" fill="#231f20" font-weight="bold" >50</text>
<line x1="368.8" y1="438.9" x2="371.8" y2="438.9" stroke="#262626" stroke-width="1.2" />
<text x="366.8" y="442.9" font-size="12.6" text-anchor="end" fill="#231f20" font-weight="bold" >60</text>
<line x1="638.0" y1="439.1" x2="641.0" y2="439.1" stroke="#262626" stroke-width="1.2" />
<text x="648.5" y="442.7" font-size="13.2" text-anchor="start" fill="#231f20" font-weight="bold" >3.5</text>
<line x1="638.0" y1="464.7" x2="641.0" y2="464.7" stroke="#262626" stroke-width="1.2" />
<text x="648.5" y="468.3" font-size="13.2" text-anchor="start" fill="#231f20" font-weight="bold" >2.5</text>
<line x1="638.0" y1="490.3" x2="641.0" y2="490.3" stroke="#262626" stroke-width="1.2" />
<text x="648.5" y="493.9" font-size="13.2" text-anchor="start" fill="#231f20" font-weight="bold" >1.5</text>
<line x1="638.0" y1="516.0" x2="641.0" y2="516.0" stroke="#262626" stroke-width="1.2" />
<text x="648.5" y="519.6" font-size="13.2" text-anchor="start" fill="#231f20" font-weight="bold" >0.5</text>
<line x1="638.0" y1="541.6" x2="641.0" y2="541.6" stroke="#262626" stroke-width="1.2" />
<text x="648.5" y="545.2" font-size="13.2" text-anchor="start" fill="#231f20" font-weight="bold" >-0.5</text>
<line x1="638.0" y1="567.2" x2="641.0" y2="567.2" stroke="#262626" stroke-width="1.2" />
<text x="648.5" y="570.8" font-size="13.2" text-anchor="start" fill="#231f20" font-weight="bold" >-1.5</text>
<line x1="638.0" y1="592.8" x2="641.0" y2="592.8" stroke="#262626" stroke-width="1.2" />
<text x="648.5" y="596.4" font-size="13.2" text-anchor="start" fill="#231f20" font-weight="bold" >-2.5</text>
<line x1="371.8" y1="593.9" x2="371.8" y2="596.9" stroke="#262626" stroke-width="1.2" />
<line x1="424.9" y1="593.9" x2="424.9" y2="596.9" stroke="#262626" stroke-width="1.2" />
<line x1="478.0" y1="593.9" x2="478.0" y2="596.9" stroke="#262626" stroke-width="1.2" />
<line x1="531.1" y1="593.9" x2="531.1" y2="596.9" stroke="#262626" stroke-width="1.2" />
<line x1="584.2" y1="593.9" x2="584.2" y2="596.9" stroke="#262626" stroke-width="1.2" />
<line x1="637.3" y1="593.9" x2="637.3" y2="596.9" stroke="#262626" stroke-width="1.2" />
<text x="376.5" y="456.4" font-size="16" text-anchor="start" fill="#231f20" font-weight="bold" >(e)</text>
<rect x="430.1" y="445.1" width="7.5" height="7.5" fill="#5669b9" stroke="#5669b9" stroke-width="0.5"/>
<text x="456.6" y="452.5" font-size="11.6" text-anchor="start" fill="#231f20" font-weight="bold" >Fe species proportion</text>
<line x1="427.5" y1="464.7" x2="440.1" y2="464.7" stroke="#e0b22a" stroke-width="2.2" />
<rect x="430.1" y="460.9" width="7.5" height="7.5" fill="#e3b52e" stroke="#555" stroke-width="0.7"/>
<text x="456.6" y="467.8" font-size="11.6" text-anchor="start" fill="#231f20" font-weight="bold" >Fe concentration</text>
<text transform="translate(345.3,517.2) rotate(-90)" font-size="12.6" text-anchor="middle" fill="#231f20" font-weight="bold">Fe species proportion (%)</text>
<text transform="translate(682.2,516) rotate(-90)" font-size="12.6" text-anchor="middle" fill="#231f20" font-weight="bold">Fe (Fe<tspan font-size="6.5" dy="2.5">2</tspan><tspan dy="-2.5">O</tspan><tspan font-size="6.5" dy="2.5">3</tspan><tspan dy="-2.5"> wt. %)</tspan></text>
<text transform="translate(400.9,614.0) rotate(-17)" font-size="12.5" text-anchor="middle" dominant-baseline="central" fill="#231f20" font-weight="bold">Carbonate</text>
<text transform="translate(446.4,611.5) rotate(-17)" font-size="12.5" text-anchor="middle" dominant-baseline="central" fill="#231f20" font-weight="bold">Weak</text>
<text transform="translate(450.5,622.0) rotate(-17)" font-size="12.5" text-anchor="middle" dominant-baseline="central" fill="#231f20" font-weight="bold">crystalline</text>
<text transform="translate(513.6,614.0) rotate(-17)" font-size="12.5" text-anchor="middle" dominant-baseline="central" fill="#231f20" font-weight="bold">Crystalline</text>
<text transform="translate(565.3,614.0) rotate(-17)" font-size="12.5" text-anchor="middle" dominant-baseline="central" fill="#231f20" font-weight="bold">Magnetite</text>
<text transform="translate(617.9,611.0) rotate(-17)" font-size="12.5" text-anchor="middle" dominant-baseline="central" fill="#231f20" font-weight="bold">Silicate</text>
</svg></body></html>
